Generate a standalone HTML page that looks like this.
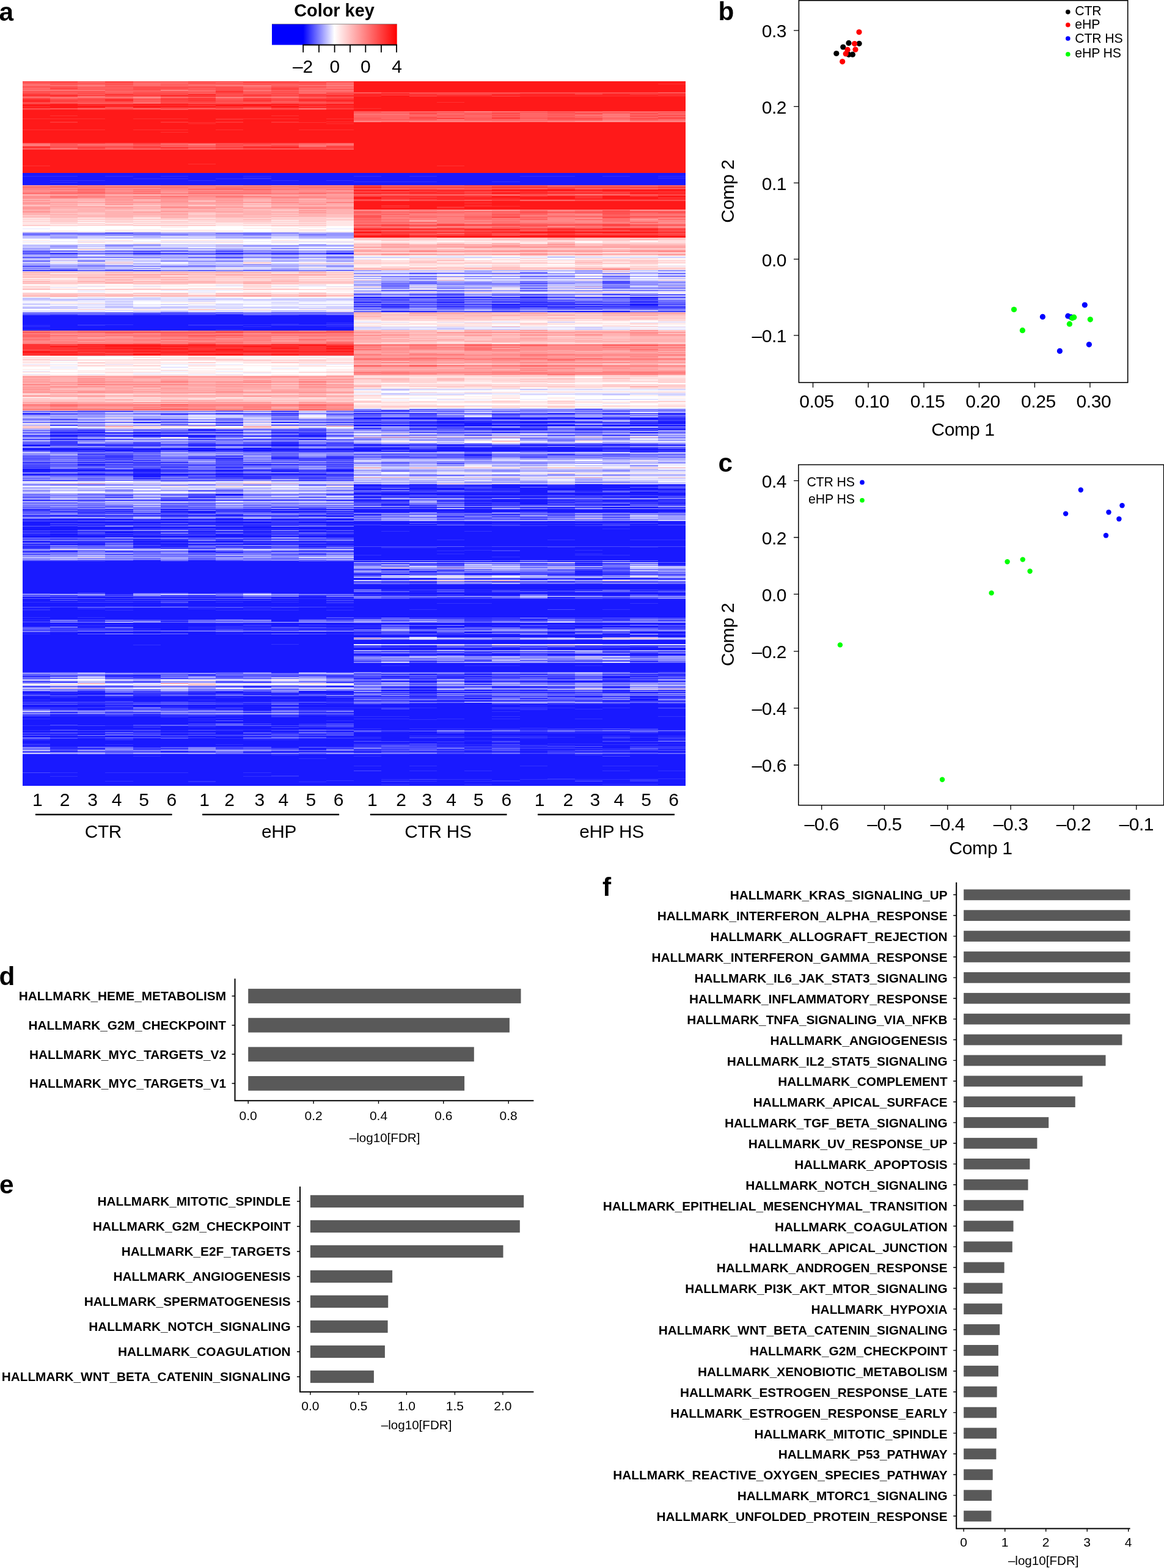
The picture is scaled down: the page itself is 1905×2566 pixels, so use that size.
<!DOCTYPE html>
<html lang="en">
<head>
<meta charset="utf-8">
<title>Figure</title>
<style>
html,body{margin:0;padding:0;background:#fff;}
body{width:1905px;height:2566px;}
svg{display:block;font-family:'Liberation Sans', Arial, Helvetica, sans-serif;fill:#000;}
</style>
</head>
<body>
<svg width="1905" height="2566" viewBox="0 0 1905 2566">
<rect width="1905" height="2566" fill="#fff"/>
<g id="heatmap">
<g fill="none" stroke-width="1" shape-rendering="crispEdges">
<path stroke="#1919ff" d="M36.7 283.5H1121.7M36.7 284.5H1121.7M36.7 285.5H1121.7M36.7 286.5H1121.7M36.7 287.5H1121.7M127.1 288.5H172.3M217.5 288.5H262.7M307.9 288.5H398.4M443.6 288.5H579.2M624.4 288.5H669.6M714.8 288.5H850.5M940.9 288.5H986.1M1031.3 288.5H1076.5M36.7 289.5H1121.7M36.7 290.5H1121.7M36.7 291.5H398.4M443.6 291.5H1076.5M36.7 292.5H217.5M307.9 292.5H353.2M443.6 292.5H1121.7M36.7 293.5H1121.7M36.7 294.5H1121.7M36.7 295.5H81.9M172.3 295.5H307.9M353.2 295.5H443.6M488.8 295.5H534M579.2 295.5H1121.7M36.7 296.5H1121.7M36.7 297.5H579.2M714.8 297.5H805.2M850.5 297.5H1121.7M36.7 298.5H81.9M127.1 298.5H1121.7M36.7 299.5H1121.7M36.7 300.5H1121.7M36.7 301.5H1121.7M36.7 302.5H1121.7M217.5 411.5H262.7M534 414.5H579.2M262.7 415.5H307.9M353.2 415.5H398.4M534 415.5H579.2M850.5 463.5H895.7M986.1 463.5H1031.3M714.8 482.5H760M850.5 482.5H895.7M986.1 482.5H1031.3M579.2 486.5H895.7M1031.3 486.5H1076.5M579.2 487.5H624.4M669.6 487.5H760M850.5 487.5H895.7M1031.3 487.5H1076.5M579.2 489.5H624.4M714.8 489.5H760M805.2 489.5H895.7M1031.3 489.5H1076.5M579.2 494.5H760M850.5 494.5H940.9M1031.3 494.5H1076.5M714.8 495.5H760M624.4 497.5H669.6M714.8 497.5H1121.7M805.2 498.5H850.5M1031.3 498.5H1076.5M1031.3 499.5H1076.5M805.2 500.5H850.5M579.2 502.5H1121.7M895.7 505.5H986.1M624.4 509.5H669.6M940.9 509.5H1031.3M669.6 510.5H714.8M895.7 510.5H1031.3M353.2 515.5H398.4M36.7 516.5H579.2M36.7 517.5H579.2M36.7 518.5H579.2M36.7 519.5H579.2M36.7 520.5H579.2M36.7 521.5H579.2M36.7 522.5H579.2M36.7 523.5H579.2M36.7 524.5H579.2M36.7 525.5H579.2M36.7 526.5H579.2M36.7 527.5H579.2M36.7 528.5H534M36.7 529.5H579.2M36.7 530.5H443.6M488.8 530.5H534M36.7 531.5H127.1M217.5 531.5H307.9M81.9 532.5H127.1M172.3 532.5H307.9M398.4 532.5H443.6M36.7 533.5H579.2M81.9 534.5H398.4M443.6 534.5H534M36.7 535.5H579.2M36.7 536.5H579.2M36.7 537.5H579.2M36.7 538.5H579.2M81.9 539.5H353.2M398.4 539.5H579.2M36.7 540.5H579.2M940.9 669.5H986.1M624.4 671.5H669.6M624.4 673.5H669.6M36.7 676.5H81.9M579.2 676.5H714.8M895.7 676.5H940.9M986.1 676.5H1031.3M1076.5 676.5H1121.7M36.7 677.5H81.9M262.7 677.5H307.9M398.4 677.5H488.8M579.2 677.5H624.4M895.7 677.5H940.9M1076.5 677.5H1121.7M805.2 678.5H850.5M579.2 683.5H760M805.2 683.5H1121.7M579.2 684.5H1121.7M579.2 685.5H760M805.2 685.5H895.7M940.9 685.5H986.1M1031.3 685.5H1076.5M714.8 686.5H760M1031.3 686.5H1121.7M714.8 689.5H940.9M1076.5 689.5H1121.7M443.6 690.5H488.8M714.8 690.5H760M850.5 690.5H940.9M1076.5 690.5H1121.7M217.5 691.5H262.7M443.6 691.5H488.8M579.2 691.5H624.4M669.6 691.5H1121.7M714.8 692.5H805.2M850.5 692.5H895.7M1076.5 692.5H1121.7M760 693.5H805.2M1031.3 693.5H1121.7M760 694.5H805.2M579.2 695.5H624.4M669.6 695.5H940.9M986.1 695.5H1076.5M81.9 696.5H127.1M579.2 696.5H940.9M986.1 696.5H1121.7M579.2 697.5H940.9M986.1 697.5H1121.7M579.2 701.5H624.4M669.6 701.5H714.8M805.2 701.5H895.7M940.9 701.5H1031.3M805.2 702.5H895.7M1076.5 702.5H1121.7M307.9 703.5H353.2M805.2 703.5H850.5M940.9 703.5H1031.3M1076.5 703.5H1121.7M81.9 707.5H172.3M217.5 707.5H262.7M353.2 707.5H398.4M443.6 707.5H488.8M714.8 707.5H760M805.2 707.5H850.5M1031.3 707.5H1076.5M81.9 708.5H262.7M307.9 708.5H398.4M443.6 708.5H534M1031.3 708.5H1076.5M127.1 711.5H172.3M36.7 712.5H127.1M217.5 712.5H353.2M488.8 712.5H534M986.1 712.5H1031.3M81.9 713.5H127.1M217.5 713.5H353.2M443.6 713.5H534M81.9 714.5H127.1M217.5 714.5H353.2M443.6 714.5H534M81.9 719.5H217.5M307.9 719.5H353.2M488.8 719.5H534M81.9 723.5H127.1M443.6 723.5H488.8M81.9 725.5H127.1M217.5 725.5H262.7M443.6 725.5H488.8M534 725.5H579.2M443.6 727.5H488.8M986.1 727.5H1031.3M36.7 728.5H81.9M127.1 728.5H262.7M307.9 728.5H669.6M714.8 728.5H760M850.5 728.5H940.9M36.7 729.5H81.9M443.6 729.5H488.8M579.2 729.5H669.6M714.8 729.5H1121.7M217.5 730.5H262.7M714.8 732.5H760M805.2 732.5H850.5M895.7 732.5H940.9M307.9 733.5H353.2M398.4 733.5H443.6M579.2 733.5H669.6M714.8 733.5H1031.3M36.7 734.5H172.3M217.5 734.5H488.8M534 734.5H669.6M714.8 734.5H986.1M1031.3 734.5H1076.5M36.7 735.5H1121.7M36.7 736.5H624.4M714.8 736.5H986.1M1031.3 736.5H1121.7M172.3 737.5H217.5M307.9 737.5H353.2M398.4 737.5H443.6M579.2 737.5H624.4M669.6 737.5H850.5M895.7 737.5H986.1M81.9 738.5H262.7M307.9 738.5H1121.7M1031.3 739.5H1076.5M127.1 743.5H172.3M760 743.5H805.2M895.7 743.5H940.9M760 744.5H805.2M760 746.5H805.2M127.1 747.5H217.5M307.9 747.5H398.4M443.6 747.5H488.8M534 747.5H579.2M127.1 749.5H172.3M443.6 749.5H488.8M534 749.5H579.2M307.9 750.5H398.4M443.6 750.5H488.8M36.7 756.5H307.9M534 756.5H579.2M127.1 759.5H172.3M353.2 759.5H398.4M534 759.5H579.2M36.7 761.5H81.9M127.1 761.5H172.3M217.5 761.5H443.6M534 761.5H579.2M36.7 764.5H81.9M262.7 764.5H307.9M353.2 764.5H398.4M36.7 767.5H81.9M36.7 768.5H262.7M443.6 768.5H488.8M534 768.5H579.2M36.7 769.5H81.9M127.1 769.5H172.3M217.5 769.5H262.7M353.2 769.5H398.4M534 769.5H579.2M36.7 770.5H398.4M443.6 770.5H579.2M36.7 771.5H127.1M217.5 771.5H262.7M353.2 771.5H398.4M443.6 771.5H488.8M534 771.5H579.2M127.1 775.5H172.3M217.5 775.5H534M36.7 776.5H172.3M217.5 776.5H307.9M353.2 776.5H398.4M443.6 776.5H534M36.7 777.5H81.9M127.1 777.5H307.9M353.2 777.5H443.6M534 777.5H579.2M217.5 778.5H262.7M217.5 779.5H262.7M353.2 779.5H398.4M217.5 780.5H262.7M398.4 780.5H443.6M398.4 782.5H443.6M217.5 783.5H262.7M579.2 793.5H624.4M669.6 793.5H714.8M805.2 793.5H895.7M940.9 793.5H1121.7M579.2 794.5H1121.7M579.2 795.5H624.4M760 795.5H895.7M940.9 795.5H1076.5M624.4 796.5H760M805.2 796.5H850.5M895.7 796.5H1076.5M805.2 797.5H850.5M940.9 797.5H1031.3M579.2 798.5H1076.5M669.6 799.5H760M850.5 799.5H986.1M1031.3 799.5H1076.5M579.2 800.5H760M805.2 800.5H1121.7M579.2 801.5H669.6M714.8 801.5H805.2M850.5 801.5H1121.7M669.6 802.5H714.8M760 802.5H1121.7M850.5 803.5H895.7M624.4 804.5H714.8M850.5 804.5H895.7M940.9 804.5H986.1M1031.3 804.5H1121.7M850.5 805.5H895.7M1031.3 805.5H1076.5M579.2 806.5H1121.7M579.2 807.5H1121.7M307.9 808.5H398.4M534 808.5H1121.7M353.2 809.5H398.4M624.4 809.5H669.6M714.8 809.5H1121.7M353.2 810.5H398.4M760 810.5H850.5M940.9 810.5H986.1M1076.5 810.5H1121.7M579.2 812.5H669.6M714.8 812.5H1076.5M307.9 813.5H353.2M579.2 813.5H624.4M760 813.5H895.7M1031.3 813.5H1076.5M579.2 814.5H624.4M669.6 814.5H1121.7M805.2 817.5H895.7M36.7 818.5H217.5M262.7 818.5H398.4M443.6 818.5H669.6M760 818.5H1121.7M579.2 819.5H669.6M714.8 819.5H895.7M986.1 819.5H1076.5M805.2 820.5H895.7M579.2 821.5H624.4M760 821.5H1076.5M850.5 822.5H895.7M760 823.5H805.2M850.5 823.5H895.7M1076.5 823.5H1121.7M624.4 824.5H669.6M760 824.5H805.2M850.5 824.5H895.7M850.5 825.5H895.7M940.9 825.5H1031.3M624.4 826.5H669.6M760 826.5H805.2M986.1 826.5H1031.3M624.4 827.5H714.8M760 827.5H850.5M940.9 827.5H1031.3M986.1 829.5H1076.5M443.6 830.5H488.8M579.2 830.5H805.2M850.5 830.5H1076.5M36.7 833.5H81.9M172.3 833.5H217.5M262.7 833.5H353.2M398.4 833.5H714.8M760 833.5H805.2M895.7 833.5H940.9M986.1 833.5H1076.5M262.7 834.5H307.9M443.6 834.5H488.8M534 834.5H1121.7M579.2 835.5H1121.7M36.7 836.5H217.5M262.7 836.5H1121.7M262.7 837.5H353.2M443.6 837.5H534M579.2 837.5H714.8M760 837.5H850.5M895.7 837.5H1121.7M307.9 838.5H353.2M443.6 838.5H488.8M579.2 838.5H669.6M714.8 838.5H805.2M895.7 838.5H1076.5M127.1 839.5H262.7M307.9 839.5H353.2M534 839.5H579.2M805.2 841.5H850.5M579.2 842.5H624.4M81.9 843.5H127.1M262.7 843.5H398.4M488.8 843.5H534M36.7 844.5H579.2M534 845.5H579.2M805.2 845.5H850.5M81.9 849.5H217.5M262.7 849.5H307.9M353.2 849.5H398.4M443.6 849.5H488.8M534 849.5H579.2M760 849.5H805.2M850.5 849.5H895.7M36.7 850.5H579.2M36.7 851.5H579.2M36.7 853.5H1121.7M36.7 854.5H307.9M353.2 854.5H443.6M488.8 854.5H1121.7M36.7 855.5H1121.7M36.7 856.5H81.9M127.1 856.5H262.7M307.9 856.5H669.6M760 856.5H805.2M1076.5 856.5H1121.7M36.7 857.5H81.9M579.2 857.5H1121.7M36.7 858.5H579.2M624.4 858.5H714.8M850.5 858.5H986.1M1031.3 858.5H1076.5M36.7 859.5H307.9M353.2 859.5H488.8M534 859.5H579.2M579.2 860.5H805.2M895.7 860.5H940.9M1031.3 860.5H1121.7M81.9 861.5H127.1M398.4 861.5H443.6M579.2 861.5H1121.7M36.7 862.5H1121.7M36.7 863.5H1121.7M36.7 864.5H1121.7M36.7 865.5H217.5M488.8 865.5H986.1M1031.3 865.5H1121.7M36.7 866.5H1121.7M36.7 867.5H127.1M579.2 867.5H1121.7M488.8 868.5H534M579.2 868.5H1121.7M81.9 869.5H127.1M172.3 869.5H262.7M307.9 869.5H443.6M488.8 869.5H624.4M669.6 869.5H760M805.2 869.5H1121.7M36.7 870.5H1121.7M81.9 871.5H127.1M172.3 871.5H217.5M579.2 871.5H1121.7M172.3 872.5H262.7M398.4 872.5H443.6M579.2 872.5H1121.7M81.9 873.5H127.1M579.2 873.5H1121.7M36.7 874.5H1121.7M81.9 875.5H127.1M172.3 875.5H217.5M353.2 875.5H398.4M534 875.5H1121.7M36.7 876.5H172.3M217.5 876.5H262.7M307.9 876.5H443.6M488.8 876.5H1121.7M36.7 877.5H1121.7M36.7 878.5H443.6M488.8 878.5H1121.7M36.7 879.5H172.3M217.5 879.5H443.6M534 879.5H1121.7M579.2 880.5H1121.7M579.2 881.5H1121.7M36.7 882.5H1121.7M579.2 883.5H714.8M760 883.5H895.7M940.9 883.5H1031.3M262.7 884.5H307.9M579.2 884.5H1121.7M217.5 885.5H307.9M353.2 885.5H398.4M579.2 885.5H1121.7M36.7 886.5H1121.7M36.7 887.5H1121.7M579.2 888.5H1121.7M127.1 889.5H172.3M217.5 889.5H307.9M398.4 889.5H443.6M534 889.5H1121.7M36.7 890.5H172.3M217.5 890.5H1121.7M81.9 891.5H172.3M217.5 891.5H443.6M488.8 891.5H1121.7M579.2 892.5H1121.7M36.7 893.5H81.9M217.5 893.5H307.9M488.8 893.5H1121.7M262.7 894.5H307.9M488.8 894.5H534M217.5 895.5H262.7M579.2 895.5H624.4M714.8 895.5H895.7M940.9 895.5H1031.3M1076.5 895.5H1121.7M36.7 896.5H81.9M579.2 896.5H624.4M714.8 896.5H1121.7M579.2 897.5H1121.7M579.2 898.5H1121.7M579.2 899.5H1121.7M579.2 900.5H760M850.5 900.5H940.9M986.1 900.5H1121.7M81.9 901.5H127.1M307.9 901.5H353.2M579.2 901.5H714.8M760 901.5H805.2M850.5 901.5H1121.7M36.7 902.5H127.1M217.5 902.5H262.7M307.9 902.5H353.2M443.6 902.5H534M579.2 902.5H1121.7M579.2 903.5H1121.7M353.2 904.5H398.4M579.2 904.5H1121.7M579.2 905.5H1121.7M579.2 906.5H714.8M760 906.5H940.9M986.1 906.5H1121.7M172.3 907.5H217.5M488.8 907.5H534M579.2 907.5H1121.7M624.4 908.5H940.9M1031.3 908.5H1121.7M579.2 909.5H1121.7M579.2 910.5H1121.7M579.2 911.5H805.2M850.5 911.5H1121.7M579.2 912.5H1121.7M579.2 913.5H1121.7M579.2 914.5H1121.7M579.2 915.5H1121.7M579.2 916.5H850.5M895.7 916.5H1121.7M217.5 917.5H262.7M307.9 917.5H353.2M1076.5 917.5H1121.7M36.7 918.5H127.1M172.3 918.5H262.7M307.9 918.5H488.8M579.2 918.5H850.5M895.7 918.5H986.1M1031.3 918.5H1121.7M36.7 919.5H850.5M940.9 919.5H1121.7M36.7 920.5H579.2M36.7 921.5H579.2M714.8 921.5H760M940.9 921.5H986.1M1076.5 921.5H1121.7M36.7 922.5H579.2M940.9 922.5H986.1M1076.5 922.5H1121.7M36.7 923.5H579.2M1076.5 923.5H1121.7M36.7 924.5H579.2M714.8 924.5H760M940.9 924.5H986.1M36.7 925.5H579.2M940.9 925.5H986.1M1076.5 925.5H1121.7M36.7 926.5H579.2M36.7 927.5H579.2M36.7 928.5H579.2M940.9 928.5H986.1M36.7 929.5H579.2M36.7 930.5H579.2M986.1 930.5H1031.3M36.7 931.5H579.2M624.4 931.5H669.6M36.7 932.5H579.2M36.7 933.5H579.2M940.9 933.5H986.1M36.7 934.5H579.2M36.7 935.5H579.2M940.9 935.5H986.1M36.7 936.5H579.2M624.4 936.5H714.8M940.9 936.5H1031.3M36.7 937.5H579.2M36.7 938.5H579.2M760 938.5H850.5M940.9 938.5H1031.3M36.7 939.5H624.4M760 939.5H850.5M895.7 939.5H986.1M36.7 940.5H669.6M760 940.5H805.2M940.9 940.5H1031.3M1076.5 940.5H1121.7M36.7 941.5H579.2M36.7 942.5H624.4M36.7 943.5H579.2M36.7 944.5H579.2M36.7 945.5H579.2M36.7 946.5H624.4M669.6 946.5H714.8M986.1 946.5H1076.5M36.7 947.5H714.8M850.5 947.5H895.7M940.9 947.5H986.1M1076.5 947.5H1121.7M36.7 948.5H624.4M36.7 949.5H579.2M36.7 950.5H579.2M36.7 951.5H714.8M760 951.5H805.2M895.7 951.5H940.9M1031.3 951.5H1076.5M36.7 952.5H579.2M36.7 953.5H579.2M36.7 954.5H579.2M36.7 955.5H579.2M36.7 956.5H624.4M669.6 956.5H714.8M760 956.5H1121.7M36.7 957.5H1121.7M36.7 958.5H1121.7M36.7 959.5H1121.7M36.7 960.5H1121.7M36.7 961.5H1121.7M36.7 962.5H1121.7M36.7 963.5H1121.7M36.7 964.5H579.2M624.4 964.5H714.8M760 964.5H1121.7M36.7 965.5H579.2M895.7 965.5H940.9M36.7 966.5H579.2M624.4 966.5H714.8M760 966.5H805.2M850.5 966.5H895.7M940.9 966.5H986.1M1031.3 966.5H1076.5M36.7 967.5H579.2M669.6 967.5H714.8M760 967.5H805.2M36.7 968.5H579.2M36.7 969.5H1076.5M36.7 970.5H127.1M172.3 970.5H217.5M307.9 970.5H353.2M443.6 970.5H1121.7M172.3 971.5H217.5M488.8 971.5H1121.7M624.4 972.5H850.5M895.7 972.5H1121.7M760 973.5H850.5M986.1 973.5H1031.3M36.7 974.5H127.1M172.3 974.5H217.5M307.9 974.5H353.2M579.2 974.5H850.5M895.7 974.5H1031.3M1076.5 974.5H1121.7M36.7 976.5H81.9M127.1 976.5H172.3M217.5 976.5H262.7M353.2 976.5H398.4M488.8 976.5H534M36.7 977.5H579.2M895.7 977.5H940.9M127.1 978.5H217.5M443.6 978.5H579.2M714.8 978.5H760M895.7 978.5H940.9M36.7 980.5H1121.7M36.7 981.5H1121.7M36.7 982.5H81.9M488.8 982.5H534M579.2 982.5H1121.7M36.7 983.5H1121.7M36.7 984.5H262.7M307.9 984.5H1121.7M307.9 985.5H353.2M398.4 985.5H443.6M488.8 985.5H534M579.2 985.5H1121.7M36.7 986.5H1121.7M36.7 987.5H262.7M307.9 987.5H534M579.2 987.5H714.8M805.2 987.5H1031.3M1076.5 987.5H1121.7M36.7 988.5H1121.7M36.7 989.5H1121.7M36.7 990.5H1121.7M36.7 991.5H1121.7M36.7 992.5H172.3M217.5 992.5H262.7M307.9 992.5H1121.7M579.2 993.5H1121.7M81.9 994.5H127.1M398.4 994.5H443.6M488.8 994.5H1121.7M36.7 995.5H1121.7M36.7 996.5H127.1M172.3 996.5H307.9M353.2 996.5H398.4M443.6 996.5H1121.7M81.9 997.5H669.6M714.8 997.5H895.7M940.9 997.5H986.1M1031.3 997.5H1121.7M81.9 998.5H172.3M217.5 998.5H353.2M488.8 998.5H534M579.2 998.5H1121.7M36.7 999.5H1121.7M36.7 1000.5H1121.7M36.7 1001.5H1121.7M36.7 1002.5H1121.7M36.7 1003.5H1121.7M36.7 1004.5H1121.7M36.7 1005.5H1121.7M36.7 1006.5H1121.7M36.7 1007.5H1121.7M36.7 1008.5H1121.7M36.7 1009.5H1121.7M81.9 1010.5H127.1M172.3 1010.5H534M579.2 1010.5H1121.7M36.7 1011.5H534M36.7 1012.5H1031.3M36.7 1013.5H353.2M398.4 1013.5H488.8M534 1013.5H579.2M850.5 1013.5H895.7M443.6 1014.5H488.8M36.7 1015.5H81.9M127.1 1015.5H172.3M443.6 1015.5H488.8M624.4 1015.5H669.6M760 1015.5H895.7M940.9 1015.5H1031.3M1076.5 1015.5H1121.7M36.7 1016.5H81.9M262.7 1016.5H307.9M443.6 1016.5H488.8M36.7 1019.5H307.9M353.2 1019.5H398.4M443.6 1019.5H579.2M624.4 1019.5H1121.7M36.7 1020.5H353.2M398.4 1020.5H1121.7M36.7 1021.5H1121.7M36.7 1022.5H81.9M127.1 1022.5H172.3M217.5 1022.5H398.4M443.6 1022.5H488.8M534 1022.5H624.4M669.6 1022.5H895.7M940.9 1022.5H1031.3M1076.5 1022.5H1121.7M36.7 1023.5H127.1M172.3 1023.5H398.4M443.6 1023.5H488.8M760 1023.5H805.2M36.7 1024.5H353.2M443.6 1024.5H1121.7M36.7 1025.5H81.9M127.1 1025.5H579.2M669.6 1025.5H760M805.2 1025.5H850.5M940.9 1025.5H1076.5M217.5 1026.5H307.9M579.2 1026.5H624.4M669.6 1026.5H805.2M850.5 1026.5H1121.7M127.1 1027.5H172.3M217.5 1027.5H398.4M669.6 1027.5H714.8M940.9 1027.5H986.1M81.9 1028.5H624.4M895.7 1028.5H940.9M262.7 1029.5H307.9M579.2 1029.5H624.4M669.6 1029.5H714.8M895.7 1029.5H940.9M1076.5 1029.5H1121.7M81.9 1030.5H353.2M398.4 1030.5H579.2M36.7 1031.5H579.2M714.8 1031.5H805.2M217.5 1033.5H262.7M669.6 1033.5H714.8M760 1033.5H805.2M850.5 1033.5H986.1M1031.3 1033.5H1121.7M127.1 1034.5H353.2M398.4 1034.5H624.4M669.6 1034.5H714.8M760 1034.5H850.5M895.7 1034.5H986.1M1031.3 1034.5H1121.7M36.7 1035.5H579.2M669.6 1035.5H714.8M760 1035.5H805.2M895.7 1035.5H940.9M1031.3 1035.5H1121.7M36.7 1036.5H172.3M217.5 1036.5H262.7M307.9 1036.5H579.2M1031.3 1036.5H1121.7M81.9 1037.5H127.1M307.9 1037.5H353.2M36.7 1038.5H579.2M760 1038.5H850.5M940.9 1038.5H1031.3M36.7 1039.5H1121.7M36.7 1040.5H986.1M1031.3 1040.5H1121.7M36.7 1041.5H669.6M714.8 1041.5H1031.3M1076.5 1041.5H1121.7M36.7 1042.5H669.6M714.8 1042.5H986.1M1076.5 1042.5H1121.7M36.7 1043.5H579.2M940.9 1043.5H986.1M36.7 1044.5H579.2M36.7 1045.5H579.2M36.7 1046.5H579.2M36.7 1047.5H1121.7M36.7 1048.5H1121.7M36.7 1049.5H1121.7M36.7 1050.5H1121.7M36.7 1051.5H1121.7M36.7 1052.5H1121.7M36.7 1053.5H1121.7M36.7 1054.5H443.6M488.8 1054.5H579.2M36.7 1055.5H217.5M262.7 1055.5H579.2M36.7 1056.5H579.2M624.4 1056.5H714.8M1031.3 1056.5H1121.7M36.7 1057.5H579.2M624.4 1057.5H714.8M36.7 1058.5H579.2M986.1 1058.5H1031.3M36.7 1059.5H579.2M1031.3 1059.5H1076.5M36.7 1060.5H850.5M895.7 1060.5H940.9M986.1 1060.5H1121.7M36.7 1061.5H1121.7M36.7 1062.5H1121.7M36.7 1063.5H714.8M760 1063.5H850.5M895.7 1063.5H1121.7M36.7 1064.5H579.2M36.7 1065.5H579.2M36.7 1066.5H850.5M895.7 1066.5H940.9M986.1 1066.5H1121.7M36.7 1067.5H579.2M36.7 1068.5H579.2M36.7 1069.5H579.2M805.2 1069.5H850.5M36.7 1070.5H669.6M714.8 1070.5H760M805.2 1070.5H850.5M895.7 1070.5H940.9M1031.3 1070.5H1121.7M36.7 1071.5H1121.7M36.7 1072.5H714.8M760 1072.5H850.5M895.7 1072.5H1121.7M36.7 1073.5H579.2M36.7 1074.5H579.2M36.7 1075.5H579.2M36.7 1076.5H579.2M36.7 1077.5H579.2M36.7 1078.5H579.2M36.7 1079.5H579.2M36.7 1080.5H579.2M36.7 1081.5H624.4M760 1081.5H805.2M850.5 1081.5H895.7M940.9 1081.5H1031.3M36.7 1082.5H579.2M669.6 1082.5H714.8M1031.3 1082.5H1076.5M36.7 1083.5H579.2M36.7 1084.5H579.2M36.7 1085.5H1121.7M36.7 1086.5H1121.7M36.7 1087.5H1121.7M36.7 1088.5H1121.7M36.7 1089.5H624.4M669.6 1089.5H760M850.5 1089.5H940.9M986.1 1089.5H1121.7M36.7 1090.5H1121.7M36.7 1091.5H1121.7M36.7 1092.5H1121.7M36.7 1093.5H1121.7M36.7 1094.5H1121.7M36.7 1095.5H1121.7M36.7 1096.5H1121.7M36.7 1097.5H1121.7M36.7 1098.5H1121.7M36.7 1099.5H1121.7M307.9 1100.5H353.2M443.6 1100.5H488.8M1076.5 1101.5H1121.7M669.6 1103.5H714.8M760 1103.5H805.2M1076.5 1103.5H1121.7M217.5 1104.5H262.7M624.4 1104.5H940.9M986.1 1104.5H1121.7M36.7 1106.5H127.1M172.3 1106.5H262.7M353.2 1106.5H398.4M443.6 1106.5H488.8M534 1106.5H579.2M624.4 1106.5H895.7M940.9 1106.5H1121.7M624.4 1107.5H669.6M760 1107.5H805.2M986.1 1107.5H1076.5M986.1 1108.5H1031.3M217.5 1109.5H262.7M579.2 1109.5H1121.7M624.4 1114.5H1121.7M36.7 1115.5H81.9M669.6 1115.5H714.8M760 1115.5H805.2M895.7 1115.5H1031.3M398.4 1116.5H443.6M534 1116.5H579.2M669.6 1116.5H714.8M760 1116.5H805.2M895.7 1116.5H986.1M624.4 1119.5H714.8M760 1119.5H805.2M895.7 1119.5H940.9M443.6 1122.5H488.8M534 1122.5H579.2M398.4 1124.5H443.6M624.4 1124.5H760M805.2 1124.5H940.9M986.1 1124.5H1031.3M669.6 1125.5H714.8M669.6 1126.5H714.8M669.6 1128.5H714.8M624.4 1129.5H714.8M760 1129.5H805.2M624.4 1130.5H714.8M760 1130.5H805.2M850.5 1130.5H895.7M986.1 1130.5H1031.3M1076.5 1130.5H1121.7M127.1 1131.5H172.3M488.8 1131.5H579.2M36.7 1132.5H81.9M353.2 1132.5H443.6M488.8 1132.5H579.2M669.6 1132.5H805.2M986.1 1132.5H1076.5M36.7 1133.5H172.3M307.9 1133.5H398.4M488.8 1133.5H1121.7M36.7 1134.5H579.2M669.6 1134.5H714.8M127.1 1135.5H217.5M81.9 1136.5H172.3M307.9 1136.5H353.2M398.4 1136.5H488.8M534 1136.5H579.2M624.4 1136.5H714.8M81.9 1137.5H127.1M217.5 1137.5H262.7M669.6 1138.5H714.8M36.7 1139.5H81.9M127.1 1139.5H172.3M217.5 1139.5H443.6M488.8 1139.5H534M579.2 1139.5H850.5M895.7 1139.5H1076.5M36.7 1140.5H579.2M940.9 1140.5H986.1M1031.3 1140.5H1076.5M36.7 1141.5H81.9M127.1 1141.5H172.3M217.5 1141.5H353.2M398.4 1141.5H534M669.6 1141.5H714.8M1031.3 1141.5H1076.5M36.7 1142.5H579.2M760 1142.5H805.2M36.7 1143.5H579.2M760 1143.5H805.2M850.5 1143.5H895.7M1031.3 1143.5H1076.5M36.7 1144.5H579.2M1031.3 1144.5H1076.5M81.9 1145.5H307.9M353.2 1145.5H443.6M488.8 1145.5H534M1031.3 1145.5H1076.5M36.7 1146.5H1121.7M36.7 1147.5H172.3M217.5 1147.5H579.2M714.8 1147.5H805.2M986.1 1147.5H1031.3M217.5 1148.5H262.7M307.9 1148.5H443.6M669.6 1148.5H714.8M1076.5 1148.5H1121.7M36.7 1150.5H579.2M760 1150.5H805.2M488.8 1151.5H534M669.6 1151.5H805.2M1031.3 1151.5H1076.5M534 1152.5H579.2M624.4 1152.5H805.2M850.5 1152.5H895.7M940.9 1152.5H1121.7M36.7 1153.5H1121.7M36.7 1154.5H1121.7M36.7 1155.5H172.3M217.5 1155.5H262.7M307.9 1155.5H443.6M488.8 1155.5H850.5M895.7 1155.5H1121.7M36.7 1156.5H172.3M217.5 1156.5H443.6M488.8 1156.5H1121.7M36.7 1157.5H127.1M172.3 1157.5H217.5M262.7 1157.5H443.6M488.8 1157.5H1121.7M307.9 1158.5H353.2M398.4 1158.5H443.6M714.8 1158.5H805.2M940.9 1158.5H986.1M1031.3 1158.5H1076.5M36.7 1159.5H217.5M398.4 1159.5H624.4M669.6 1159.5H1076.5M127.1 1160.5H217.5M307.9 1160.5H624.4M669.6 1160.5H805.2M895.7 1160.5H940.9M986.1 1160.5H1121.7M127.1 1161.5H172.3M398.4 1161.5H443.6M579.2 1161.5H850.5M895.7 1161.5H1121.7M398.4 1162.5H443.6M579.2 1162.5H1121.7M579.2 1163.5H1121.7M579.2 1164.5H805.2M850.5 1164.5H1121.7M579.2 1165.5H1121.7M81.9 1166.5H127.1M217.5 1166.5H262.7M398.4 1166.5H443.6M488.8 1166.5H1121.7M579.2 1167.5H1121.7M579.2 1168.5H1121.7M81.9 1169.5H127.1M579.2 1169.5H1121.7M36.7 1170.5H1121.7M398.4 1171.5H443.6M488.8 1171.5H534M579.2 1171.5H1121.7M36.7 1172.5H443.6M488.8 1172.5H579.2M669.6 1172.5H805.2M850.5 1172.5H1076.5M36.7 1173.5H262.7M307.9 1173.5H443.6M488.8 1173.5H1121.7M36.7 1174.5H1121.7M36.7 1175.5H353.2M398.4 1175.5H1121.7M81.9 1176.5H307.9M353.2 1176.5H579.2M669.6 1176.5H714.8M760 1176.5H805.2M850.5 1176.5H940.9M986.1 1176.5H1121.7M36.7 1177.5H669.6M714.8 1177.5H1121.7M36.7 1178.5H1121.7M36.7 1179.5H307.9M398.4 1179.5H534M579.2 1179.5H1121.7M36.7 1180.5H1121.7M36.7 1181.5H1121.7M36.7 1182.5H1121.7M36.7 1183.5H1121.7M36.7 1184.5H307.9M443.6 1184.5H488.8M579.2 1184.5H1121.7M36.7 1185.5H307.9M398.4 1185.5H1121.7M36.7 1186.5H81.9M127.1 1186.5H217.5M443.6 1186.5H488.8M579.2 1186.5H1121.7M579.2 1187.5H1121.7M36.7 1188.5H534M579.2 1188.5H1121.7M36.7 1189.5H217.5M262.7 1189.5H307.9M353.2 1189.5H488.8M579.2 1189.5H1121.7M36.7 1190.5H217.5M262.7 1190.5H443.6M488.8 1190.5H1121.7M36.7 1191.5H850.5M895.7 1191.5H1121.7M36.7 1192.5H579.2M624.4 1192.5H669.6M850.5 1192.5H895.7M1076.5 1192.5H1121.7M36.7 1193.5H534M579.2 1193.5H850.5M940.9 1193.5H986.1M1076.5 1193.5H1121.7M36.7 1194.5H81.9M127.1 1194.5H172.3M262.7 1194.5H307.9M579.2 1194.5H714.8M760 1194.5H805.2M850.5 1194.5H895.7M986.1 1194.5H1031.3M1076.5 1194.5H1121.7M398.4 1195.5H443.6M36.7 1196.5H579.2M36.7 1197.5H217.5M262.7 1197.5H488.8M534 1197.5H579.2M669.6 1197.5H714.8M36.7 1198.5H172.3M217.5 1198.5H398.4M443.6 1198.5H488.8M579.2 1198.5H714.8M760 1198.5H1031.3M1076.5 1198.5H1121.7M353.2 1199.5H398.4M579.2 1199.5H714.8M760 1199.5H805.2M1076.5 1199.5H1121.7M36.7 1200.5H1121.7M127.1 1201.5H172.3M262.7 1201.5H307.9M353.2 1201.5H398.4M579.2 1201.5H1121.7M36.7 1202.5H172.3M217.5 1202.5H353.2M398.4 1202.5H443.6M488.8 1202.5H534M579.2 1202.5H1121.7M579.2 1203.5H1121.7M36.7 1204.5H127.1M172.3 1204.5H262.7M307.9 1204.5H353.2M488.8 1204.5H669.6M760 1204.5H805.2M895.7 1204.5H986.1M1031.3 1204.5H1076.5M36.7 1205.5H262.7M307.9 1205.5H443.6M488.8 1205.5H1121.7M36.7 1206.5H217.5M262.7 1206.5H398.4M534 1206.5H579.2M624.4 1206.5H669.6M940.9 1206.5H986.1M353.2 1207.5H398.4M579.2 1207.5H669.6M760 1207.5H805.2M850.5 1207.5H986.1M1031.3 1207.5H1076.5M127.1 1208.5H172.3M217.5 1208.5H262.7M307.9 1208.5H353.2M624.4 1208.5H850.5M895.7 1208.5H986.1M1031.3 1208.5H1076.5M36.7 1209.5H1121.7M81.9 1210.5H172.3M217.5 1210.5H398.4M488.8 1210.5H1076.5M36.7 1211.5H1121.7M36.7 1212.5H579.2M624.4 1212.5H760M850.5 1212.5H986.1M1031.3 1212.5H1076.5M36.7 1213.5H579.2M760 1213.5H805.2M850.5 1213.5H986.1M36.7 1214.5H714.8M760 1214.5H805.2M850.5 1214.5H1121.7M36.7 1215.5H1121.7M36.7 1216.5H1121.7M81.9 1217.5H579.2M760 1217.5H805.2M850.5 1217.5H895.7M986.1 1217.5H1031.3M81.9 1218.5H172.3M217.5 1218.5H353.2M398.4 1218.5H579.2M850.5 1218.5H986.1M1076.5 1218.5H1121.7M81.9 1219.5H579.2M714.8 1219.5H805.2M895.7 1219.5H1121.7M36.7 1220.5H579.2M760 1220.5H805.2M940.9 1220.5H1121.7M36.7 1221.5H579.2M986.1 1221.5H1031.3M217.5 1222.5H262.7M443.6 1222.5H488.8M579.2 1222.5H1121.7M940.9 1223.5H1031.3M81.9 1224.5H172.3M353.2 1224.5H398.4M443.6 1224.5H534M760 1224.5H805.2M986.1 1224.5H1031.3M262.7 1225.5H307.9M488.8 1225.5H534M488.8 1226.5H534M714.8 1226.5H760M850.5 1226.5H986.1M1076.5 1226.5H1121.7M579.2 1227.5H624.4M850.5 1227.5H940.9M986.1 1227.5H1031.3M81.9 1229.5H127.1M262.7 1229.5H307.9M443.6 1229.5H1121.7M81.9 1230.5H127.1M262.7 1230.5H353.2M398.4 1230.5H624.4M760 1230.5H805.2M850.5 1230.5H895.7M986.1 1230.5H1121.7M850.5 1231.5H895.7M1076.5 1231.5H1121.7M36.7 1234.5H127.1M172.3 1234.5H1121.7M36.7 1235.5H443.6M488.8 1235.5H940.9M986.1 1235.5H1121.7M36.7 1236.5H1121.7M36.7 1237.5H217.5M262.7 1237.5H579.2M624.4 1237.5H986.1M1031.3 1237.5H1121.7M36.7 1238.5H1121.7M36.7 1239.5H1121.7M36.7 1240.5H1121.7M36.7 1241.5H488.8M534 1241.5H1121.7M36.7 1242.5H1121.7M36.7 1243.5H1121.7M36.7 1244.5H1121.7M36.7 1245.5H1121.7M36.7 1246.5H1121.7M36.7 1247.5H1121.7M36.7 1248.5H1121.7M36.7 1249.5H1121.7M36.7 1250.5H1121.7M36.7 1251.5H1121.7M36.7 1252.5H1121.7M36.7 1253.5H579.2M624.4 1253.5H669.6M714.8 1253.5H850.5M895.7 1253.5H986.1M1076.5 1253.5H1121.7M36.7 1254.5H1121.7M36.7 1255.5H1121.7M36.7 1256.5H1121.7M36.7 1257.5H1121.7M36.7 1258.5H1121.7M36.7 1259.5H1121.7M36.7 1260.5H1121.7M36.7 1261.5H579.2M624.4 1261.5H669.6M714.8 1261.5H760M805.2 1261.5H986.1M1031.3 1261.5H1076.5M36.7 1262.5H1121.7M36.7 1263.5H1121.7M127.1 1264.5H172.3M307.9 1264.5H398.4M443.6 1264.5H1121.7M36.7 1265.5H1121.7M36.7 1266.5H1121.7M36.7 1267.5H1121.7M36.7 1268.5H1121.7M36.7 1269.5H443.6M488.8 1269.5H1121.7M36.7 1270.5H81.9M127.1 1270.5H398.4M488.8 1270.5H1121.7M36.7 1271.5H1121.7M36.7 1272.5H1121.7M36.7 1273.5H1121.7M36.7 1274.5H895.7M940.9 1274.5H1076.5M36.7 1275.5H624.4M805.2 1275.5H850.5M1076.5 1275.5H1121.7M36.7 1276.5H1121.7M36.7 1277.5H534M579.2 1277.5H805.2M850.5 1277.5H940.9M986.1 1277.5H1031.3M1076.5 1277.5H1121.7M36.7 1278.5H172.3M217.5 1278.5H307.9M353.2 1278.5H624.4M714.8 1278.5H760M850.5 1278.5H940.9M986.1 1278.5H1031.3M1076.5 1278.5H1121.7M36.7 1279.5H307.9M353.2 1279.5H488.8M534 1279.5H1121.7M36.7 1280.5H1121.7M36.7 1281.5H1121.7M36.7 1282.5H1121.7M36.7 1283.5H624.4M669.6 1283.5H760M805.2 1283.5H986.1M1076.5 1283.5H1121.7M36.7 1284.5H1121.7M36.7 1285.5H1121.7"/>
<path stroke="#3333ff" d="M36.7 288.5H127.1M172.3 288.5H217.5M262.7 288.5H307.9M398.4 288.5H443.6M579.2 288.5H624.4M669.6 288.5H714.8M850.5 288.5H940.9M986.1 288.5H1031.3M1076.5 288.5H1121.7M398.4 291.5H443.6M1076.5 291.5H1121.7M217.5 292.5H307.9M353.2 292.5H443.6M81.9 295.5H172.3M307.9 295.5H353.2M443.6 295.5H488.8M534 295.5H579.2M579.2 297.5H714.8M805.2 297.5H850.5M81.9 298.5H127.1M36.7 411.5H81.9M262.7 411.5H307.9M353.2 411.5H398.4M81.9 414.5H127.1M172.3 414.5H262.7M353.2 414.5H398.4M443.6 414.5H488.8M81.9 415.5H127.1M217.5 415.5H262.7M443.6 415.5H488.8M36.7 421.5H81.9M353.2 421.5H398.4M36.7 435.5H81.9M81.9 441.5H127.1M36.7 442.5H127.1M669.6 447.5H714.8M986.1 452.5H1031.3M986.1 460.5H1031.3M624.4 463.5H714.8M895.7 463.5H940.9M624.4 468.5H669.6M669.6 475.5H714.8M850.5 475.5H895.7M579.2 482.5H624.4M669.6 482.5H714.8M805.2 482.5H850.5M895.7 482.5H940.9M1031.3 482.5H1121.7M850.5 485.5H895.7M940.9 486.5H1031.3M624.4 487.5H669.6M760 487.5H850.5M895.7 487.5H1031.3M624.4 489.5H669.6M760 489.5H805.2M624.4 491.5H669.6M714.8 492.5H760M850.5 492.5H895.7M1031.3 493.5H1076.5M805.2 494.5H850.5M940.9 494.5H1031.3M1076.5 494.5H1121.7M579.2 495.5H624.4M850.5 495.5H895.7M850.5 498.5H986.1M624.4 499.5H669.6M714.8 500.5H760M850.5 500.5H895.7M1031.3 500.5H1076.5M624.4 501.5H669.6M850.5 501.5H895.7M940.9 501.5H986.1M805.2 503.5H850.5M895.7 503.5H940.9M579.2 505.5H624.4M714.8 505.5H760M805.2 505.5H895.7M1031.3 505.5H1076.5M669.6 509.5H714.8M805.2 509.5H850.5M895.7 509.5H940.9M1076.5 509.5H1121.7M624.4 510.5H669.6M262.7 511.5H307.9M353.2 511.5H398.4M443.6 511.5H534M217.5 514.5H262.7M353.2 514.5H398.4M81.9 515.5H127.1M217.5 515.5H353.2M488.8 515.5H534M534 528.5H579.2M443.6 530.5H488.8M534 530.5H579.2M127.1 531.5H217.5M307.9 531.5H579.2M36.7 532.5H81.9M127.1 532.5H172.3M307.9 532.5H398.4M443.6 532.5H579.2M36.7 534.5H81.9M398.4 534.5H443.6M534 534.5H579.2M36.7 539.5H81.9M353.2 539.5H398.4M81.9 673.5H127.1M579.2 673.5H624.4M714.8 673.5H760M353.2 676.5H398.4M443.6 676.5H488.8M714.8 676.5H760M805.2 676.5H850.5M1031.3 676.5H1076.5M81.9 677.5H127.1M217.5 677.5H262.7M307.9 677.5H398.4M850.5 677.5H895.7M986.1 677.5H1031.3M669.6 678.5H714.8M1076.5 678.5H1121.7M443.6 679.5H488.8M579.2 680.5H624.4M669.6 680.5H714.8M1076.5 681.5H1121.7M760 683.5H805.2M81.9 686.5H127.1M760 686.5H805.2M850.5 686.5H895.7M986.1 686.5H1031.3M217.5 687.5H262.7M1076.5 687.5H1121.7M669.6 689.5H714.8M1031.3 689.5H1076.5M262.7 690.5H398.4M669.6 690.5H714.8M760 690.5H850.5M353.2 691.5H398.4M534 691.5H579.2M624.4 691.5H669.6M624.4 692.5H714.8M805.2 692.5H850.5M1031.3 692.5H1076.5M669.6 693.5H760M624.4 695.5H669.6M940.9 695.5H986.1M1076.5 695.5H1121.7M353.2 696.5H398.4M443.6 696.5H488.8M940.9 696.5H986.1M940.9 697.5H986.1M714.8 699.5H760M850.5 699.5H895.7M760 700.5H805.2M1031.3 700.5H1121.7M714.8 701.5H805.2M1031.3 701.5H1076.5M307.9 702.5H353.2M760 702.5H805.2M940.9 702.5H1076.5M353.2 703.5H398.4M669.6 703.5H714.8M760 703.5H805.2M850.5 703.5H895.7M1031.3 703.5H1076.5M127.1 704.5H172.3M307.9 704.5H353.2M81.9 705.5H127.1M307.9 705.5H353.2M443.6 705.5H534M714.8 705.5H760M36.7 707.5H81.9M262.7 707.5H353.2M669.6 707.5H714.8M895.7 707.5H940.9M262.7 708.5H307.9M760 708.5H895.7M940.9 708.5H986.1M1076.5 708.5H1121.7M217.5 709.5H262.7M488.8 710.5H534M81.9 711.5H127.1M217.5 711.5H262.7M488.8 711.5H534M127.1 712.5H217.5M353.2 712.5H398.4M443.6 712.5H488.8M760 712.5H805.2M1031.3 712.5H1076.5M172.3 713.5H217.5M398.4 713.5H443.6M36.7 714.5H81.9M127.1 714.5H217.5M353.2 714.5H443.6M307.9 715.5H353.2M1076.5 716.5H1121.7M81.9 718.5H127.1M488.8 718.5H534M36.7 719.5H81.9M353.2 719.5H488.8M534 719.5H579.2M81.9 722.5H127.1M36.7 723.5H81.9M307.9 723.5H353.2M36.7 725.5H81.9M307.9 725.5H353.2M307.9 726.5H353.2M443.6 726.5H488.8M760 726.5H805.2M1031.3 726.5H1076.5M36.7 727.5H443.6M488.8 727.5H534M579.2 727.5H624.4M714.8 727.5H760M850.5 727.5H895.7M81.9 728.5H127.1M262.7 728.5H307.9M669.6 728.5H714.8M760 728.5H805.2M940.9 728.5H1121.7M307.9 729.5H353.2M669.6 729.5H714.8M36.7 730.5H81.9M172.3 730.5H217.5M307.9 730.5H353.2M443.6 730.5H488.8M534 730.5H579.2M579.2 731.5H624.4M714.8 731.5H760M805.2 731.5H986.1M127.1 732.5H172.3M624.4 732.5H669.6M760 732.5H805.2M850.5 732.5H895.7M1031.3 732.5H1076.5M36.7 733.5H127.1M172.3 733.5H217.5M262.7 733.5H307.9M669.6 733.5H714.8M1031.3 733.5H1076.5M172.3 734.5H217.5M488.8 734.5H534M986.1 734.5H1031.3M669.6 736.5H714.8M81.9 737.5H127.1M217.5 737.5H262.7M443.6 737.5H488.8M850.5 737.5H895.7M986.1 737.5H1076.5M36.7 738.5H81.9M262.7 738.5H307.9M217.5 739.5H262.7M669.6 739.5H714.8M172.3 741.5H262.7M624.4 743.5H669.6M986.1 743.5H1031.3M1076.5 743.5H1121.7M172.3 745.5H217.5M760 745.5H805.2M624.4 746.5H669.6M986.1 746.5H1031.3M36.7 747.5H127.1M850.5 748.5H895.7M172.3 749.5H217.5M353.2 749.5H398.4M760 749.5H805.2M488.8 750.5H579.2M172.3 752.5H217.5M353.2 752.5H398.4M217.5 753.5H262.7M488.8 753.5H534M353.2 756.5H534M127.1 757.5H172.3M714.8 758.5H760M36.7 759.5H81.9M217.5 759.5H262.7M398.4 759.5H488.8M127.1 760.5H172.3M398.4 760.5H443.6M81.9 761.5H127.1M172.3 761.5H217.5M443.6 761.5H534M262.7 763.5H307.9M534 763.5H579.2M172.3 764.5H217.5M127.1 766.5H172.3M353.2 766.5H398.4M217.5 767.5H262.7M262.7 768.5H307.9M398.4 768.5H443.6M81.9 769.5H127.1M172.3 769.5H217.5M398.4 769.5H488.8M398.4 770.5H443.6M127.1 771.5H217.5M262.7 771.5H307.9M488.8 771.5H534M36.7 772.5H81.9M217.5 772.5H262.7M217.5 773.5H262.7M488.8 773.5H534M217.5 774.5H262.7M36.7 775.5H81.9M172.3 775.5H217.5M534 775.5H579.2M172.3 776.5H217.5M307.9 776.5H353.2M398.4 776.5H443.6M81.9 777.5H127.1M307.9 777.5H353.2M443.6 777.5H534M262.7 778.5H307.9M398.4 779.5H443.6M307.9 780.5H398.4M488.8 780.5H534M217.5 782.5H262.7M353.2 782.5H398.4M443.6 782.5H534M398.4 783.5H443.6M488.8 783.5H534M353.2 785.5H398.4M488.8 785.5H579.2M81.9 786.5H127.1M262.7 786.5H307.9M488.8 786.5H534M940.9 792.5H986.1M624.4 793.5H669.6M624.4 795.5H714.8M895.7 795.5H940.9M579.2 796.5H624.4M760 796.5H805.2M850.5 796.5H895.7M1076.5 796.5H1121.7M669.6 797.5H714.8M895.7 797.5H940.9M1076.5 798.5H1121.7M579.2 799.5H624.4M805.2 799.5H850.5M986.1 799.5H1031.3M760 800.5H805.2M669.6 801.5H714.8M805.2 801.5H850.5M940.9 803.5H986.1M579.2 804.5H624.4M714.8 804.5H850.5M895.7 804.5H940.9M760 805.5H850.5M579.2 809.5H624.4M669.6 809.5H714.8M624.4 810.5H669.6M714.8 810.5H760M850.5 810.5H895.7M986.1 810.5H1076.5M307.9 811.5H353.2M669.6 812.5H714.8M1076.5 812.5H1121.7M669.6 813.5H714.8M986.1 813.5H1031.3M172.3 814.5H217.5M262.7 814.5H353.2M624.4 814.5H669.6M579.2 817.5H624.4M895.7 817.5H940.9M1076.5 817.5H1121.7M217.5 818.5H262.7M398.4 818.5H443.6M262.7 819.5H307.9M895.7 819.5H940.9M760 820.5H805.2M940.9 820.5H1121.7M624.4 821.5H669.6M1076.5 821.5H1121.7M895.7 822.5H940.9M1076.5 822.5H1121.7M805.2 823.5H850.5M1031.3 823.5H1076.5M805.2 824.5H850.5M1031.3 824.5H1121.7M624.4 825.5H669.6M805.2 825.5H850.5M895.7 825.5H940.9M1076.5 825.5H1121.7M579.2 827.5H624.4M714.8 827.5H760M850.5 827.5H940.9M1031.3 827.5H1121.7M172.3 828.5H217.5M669.6 829.5H714.8M760 829.5H805.2M127.1 830.5H172.3M307.9 830.5H353.2M488.8 830.5H534M805.2 830.5H850.5M1076.5 830.5H1121.7M760 831.5H805.2M895.7 831.5H940.9M986.1 831.5H1076.5M488.8 832.5H534M81.9 833.5H172.3M353.2 833.5H398.4M714.8 833.5H760M850.5 833.5H895.7M1076.5 833.5H1121.7M36.7 834.5H81.9M172.3 834.5H217.5M353.2 834.5H443.6M488.8 834.5H534M217.5 836.5H262.7M172.3 837.5H217.5M398.4 837.5H443.6M534 837.5H579.2M714.8 837.5H760M850.5 837.5H895.7M127.1 838.5H172.3M262.7 838.5H307.9M36.7 839.5H81.9M262.7 839.5H307.9M488.8 839.5H534M217.5 841.5H307.9M353.2 841.5H398.4M534 841.5H624.4M895.7 841.5H940.9M986.1 841.5H1031.3M353.2 842.5H398.4M36.7 843.5H81.9M127.1 843.5H262.7M398.4 843.5H488.8M534 843.5H579.2M127.1 845.5H172.3M714.8 845.5H760M714.8 846.5H760M986.1 846.5H1031.3M353.2 848.5H398.4M36.7 849.5H81.9M307.9 849.5H353.2M398.4 849.5H443.6M488.8 849.5H534M579.2 849.5H624.4M714.8 849.5H760M895.7 849.5H940.9M307.9 854.5H353.2M81.9 856.5H127.1M714.8 856.5H760M805.2 856.5H940.9M534 857.5H579.2M579.2 858.5H624.4M760 858.5H850.5M1076.5 858.5H1121.7M307.9 859.5H353.2M488.8 859.5H534M579.2 859.5H624.4M850.5 859.5H986.1M1031.3 859.5H1076.5M36.7 860.5H81.9M805.2 860.5H895.7M940.9 860.5H1031.3M217.5 861.5H262.7M353.2 865.5H488.8M986.1 865.5H1031.3M398.4 867.5H443.6M534 867.5H579.2M36.7 869.5H81.9M127.1 869.5H172.3M262.7 869.5H307.9M443.6 869.5H488.8M624.4 869.5H669.6M760 869.5H805.2M36.7 871.5H81.9M217.5 871.5H262.7M307.9 871.5H353.2M398.4 871.5H443.6M127.1 872.5H172.3M307.9 872.5H353.2M534 872.5H579.2M36.7 873.5H81.9M307.9 873.5H353.2M443.6 873.5H488.8M36.7 875.5H81.9M127.1 875.5H172.3M398.4 875.5H443.6M172.3 876.5H217.5M262.7 876.5H307.9M443.6 876.5H488.8M443.6 878.5H488.8M488.8 879.5H534M81.9 881.5H127.1M398.4 881.5H443.6M217.5 883.5H262.7M714.8 883.5H760M895.7 883.5H940.9M1031.3 883.5H1121.7M217.5 884.5H262.7M353.2 884.5H398.4M36.7 885.5H81.9M488.8 885.5H534M217.5 888.5H262.7M81.9 889.5H127.1M443.6 889.5H534M172.3 890.5H217.5M36.7 891.5H81.9M443.6 891.5H488.8M262.7 892.5H307.9M353.2 893.5H398.4M36.7 894.5H81.9M217.5 894.5H262.7M398.4 894.5H443.6M760 894.5H805.2M36.7 895.5H81.9M353.2 895.5H443.6M624.4 895.5H714.8M895.7 895.5H940.9M1031.3 895.5H1076.5M172.3 896.5H307.9M488.8 896.5H534M624.4 896.5H714.8M262.7 897.5H353.2M760 900.5H850.5M940.9 900.5H986.1M172.3 901.5H217.5M534 901.5H579.2M714.8 901.5H760M172.3 902.5H217.5M353.2 902.5H398.4M534 902.5H579.2M307.9 903.5H353.2M714.8 906.5H760M940.9 906.5H986.1M36.7 907.5H81.9M443.6 907.5H488.8M579.2 908.5H624.4M940.9 908.5H1031.3M805.2 911.5H850.5M307.9 914.5H353.2M850.5 916.5H895.7M127.1 917.5H217.5M127.1 918.5H172.3M262.7 918.5H307.9M534 918.5H579.2M850.5 918.5H895.7M986.1 918.5H1031.3M850.5 919.5H940.9M986.1 921.5H1031.3M624.4 922.5H760M805.2 922.5H940.9M669.6 924.5H714.8M850.5 924.5H895.7M1076.5 924.5H1121.7M850.5 928.5H895.7M986.1 928.5H1031.3M579.2 931.5H624.4M940.9 931.5H1031.3M624.4 932.5H669.6M624.4 933.5H669.6M714.8 933.5H760M669.6 934.5H760M940.9 934.5H986.1M669.6 935.5H714.8M940.9 937.5H986.1M624.4 938.5H669.6M624.4 939.5H760M850.5 939.5H895.7M986.1 939.5H1076.5M805.2 940.5H850.5M895.7 940.5H940.9M624.4 946.5H669.6M760 946.5H805.2M895.7 946.5H986.1M805.2 947.5H850.5M986.1 947.5H1076.5M624.4 948.5H669.6M850.5 948.5H895.7M940.9 948.5H986.1M850.5 951.5H895.7M940.9 951.5H986.1M669.6 952.5H714.8M805.2 952.5H850.5M986.1 952.5H1031.3M624.4 953.5H714.8M940.9 955.5H986.1M624.4 956.5H669.6M714.8 956.5H760M714.8 964.5H760M624.4 965.5H669.6M760 965.5H895.7M1076.5 965.5H1121.7M714.8 966.5H760M895.7 966.5H940.9M1076.5 966.5H1121.7M714.8 967.5H760M805.2 967.5H850.5M1031.3 967.5H1076.5M669.6 968.5H714.8M760 968.5H805.2M895.7 968.5H940.9M1076.5 969.5H1121.7M217.5 970.5H262.7M353.2 970.5H398.4M81.9 971.5H172.3M443.6 971.5H488.8M172.3 972.5H217.5M579.2 972.5H624.4M579.2 973.5H714.8M895.7 973.5H986.1M1076.5 973.5H1121.7M262.7 974.5H307.9M488.8 974.5H534M1031.3 974.5H1076.5M488.8 975.5H534M81.9 976.5H127.1M172.3 976.5H217.5M262.7 976.5H353.2M760 977.5H805.2M36.7 978.5H127.1M262.7 978.5H398.4M760 978.5H805.2M940.9 978.5H1031.3M488.8 979.5H534M669.6 979.5H714.8M127.1 982.5H172.3M443.6 982.5H488.8M262.7 984.5H307.9M36.7 985.5H127.1M217.5 985.5H262.7M353.2 985.5H398.4M443.6 985.5H488.8M262.7 987.5H307.9M534 987.5H579.2M714.8 987.5H805.2M1031.3 987.5H1076.5M172.3 992.5H217.5M262.7 992.5H307.9M534 993.5H579.2M36.7 994.5H81.9M217.5 994.5H353.2M443.6 994.5H488.8M127.1 996.5H172.3M307.9 996.5H353.2M398.4 996.5H443.6M36.7 997.5H81.9M669.6 997.5H714.8M986.1 997.5H1031.3M36.7 998.5H81.9M172.3 998.5H217.5M353.2 998.5H488.8M534 998.5H579.2M36.7 1010.5H81.9M127.1 1010.5H172.3M1031.3 1012.5H1121.7M353.2 1013.5H398.4M488.8 1013.5H534M760 1013.5H850.5M986.1 1013.5H1031.3M36.7 1014.5H81.9M262.7 1014.5H307.9M669.6 1015.5H714.8M895.7 1015.5H940.9M1031.3 1015.5H1076.5M127.1 1016.5H172.3M127.1 1017.5H172.3M262.7 1017.5H307.9M443.6 1017.5H488.8M760 1017.5H805.2M36.7 1018.5H81.9M307.9 1019.5H353.2M398.4 1019.5H443.6M579.2 1019.5H624.4M353.2 1020.5H398.4M81.9 1022.5H127.1M172.3 1022.5H217.5M398.4 1022.5H443.6M488.8 1022.5H534M895.7 1022.5H940.9M127.1 1023.5H172.3M398.4 1023.5H443.6M488.8 1023.5H624.4M805.2 1023.5H850.5M895.7 1023.5H940.9M353.2 1024.5H443.6M579.2 1025.5H624.4M760 1025.5H805.2M850.5 1025.5H940.9M127.1 1026.5H172.3M307.9 1026.5H353.2M398.4 1026.5H443.6M534 1026.5H579.2M805.2 1026.5H850.5M81.9 1027.5H127.1M398.4 1027.5H443.6M534 1027.5H624.4M850.5 1027.5H940.9M669.6 1028.5H714.8M217.5 1029.5H262.7M307.9 1029.5H353.2M760 1029.5H805.2M986.1 1029.5H1031.3M36.7 1030.5H81.9M353.2 1030.5H398.4M579.2 1031.5H624.4M669.6 1031.5H714.8M895.7 1031.5H940.9M81.9 1033.5H217.5M262.7 1033.5H353.2M624.4 1033.5H669.6M714.8 1033.5H760M805.2 1033.5H850.5M986.1 1033.5H1031.3M81.9 1034.5H127.1M353.2 1034.5H398.4M624.4 1034.5H669.6M986.1 1034.5H1031.3M579.2 1035.5H624.4M172.3 1036.5H217.5M262.7 1036.5H307.9M579.2 1036.5H624.4M669.6 1036.5H760M895.7 1036.5H940.9M986.1 1036.5H1031.3M36.7 1037.5H81.9M353.2 1037.5H398.4M534 1037.5H624.4M714.8 1037.5H760M895.7 1037.5H940.9M986.1 1037.5H1031.3M714.8 1038.5H760M1076.5 1038.5H1121.7M986.1 1040.5H1031.3M669.6 1041.5H714.8M1031.3 1041.5H1076.5M986.1 1042.5H1031.3M443.6 1054.5H488.8M217.5 1055.5H262.7M579.2 1056.5H624.4M760 1056.5H805.2M940.9 1056.5H986.1M1031.3 1057.5H1076.5M669.6 1058.5H714.8M940.9 1058.5H986.1M624.4 1059.5H714.8M805.2 1059.5H850.5M895.7 1059.5H986.1M940.9 1060.5H986.1M850.5 1066.5H895.7M760 1068.5H805.2M1031.3 1068.5H1076.5M714.8 1069.5H760M850.5 1069.5H895.7M1031.3 1069.5H1076.5M669.6 1070.5H714.8M760 1070.5H805.2M940.9 1070.5H1031.3M850.5 1072.5H895.7M624.4 1073.5H669.6M760 1076.5H805.2M669.6 1081.5H714.8M895.7 1081.5H940.9M1031.3 1081.5H1076.5M714.8 1082.5H760M624.4 1089.5H669.6M760 1089.5H850.5M940.9 1089.5H986.1M172.3 1100.5H307.9M1031.3 1100.5H1076.5M307.9 1103.5H353.2M850.5 1103.5H895.7M1031.3 1103.5H1076.5M172.3 1104.5H217.5M307.9 1104.5H353.2M488.8 1104.5H534M579.2 1104.5H624.4M172.3 1105.5H262.7M307.9 1106.5H353.2M398.4 1106.5H443.6M579.2 1106.5H624.4M895.7 1106.5H940.9M36.7 1107.5H81.9M172.3 1107.5H262.7M714.8 1107.5H760M850.5 1107.5H940.9M714.8 1108.5H760M353.2 1109.5H398.4M262.7 1110.5H307.9M579.2 1110.5H624.4M714.8 1110.5H760M895.7 1110.5H940.9M669.6 1111.5H714.8M986.1 1112.5H1031.3M986.1 1113.5H1031.3M579.2 1114.5H624.4M624.4 1115.5H669.6M850.5 1115.5H895.7M1031.3 1115.5H1121.7M81.9 1116.5H127.1M217.5 1116.5H262.7M353.2 1116.5H398.4M850.5 1116.5H895.7M1031.3 1116.5H1076.5M579.2 1119.5H624.4M805.2 1119.5H895.7M986.1 1119.5H1031.3M1076.5 1119.5H1121.7M760 1120.5H805.2M172.3 1122.5H217.5M398.4 1122.5H443.6M488.8 1122.5H534M398.4 1123.5H443.6M534 1123.5H579.2M669.6 1123.5H714.8M805.2 1123.5H895.7M127.1 1124.5H172.3M353.2 1124.5H398.4M534 1124.5H579.2M760 1124.5H805.2M805.2 1125.5H850.5M986.1 1125.5H1031.3M624.4 1126.5H669.6M895.7 1126.5H940.9M805.2 1129.5H895.7M986.1 1129.5H1076.5M714.8 1130.5H760M805.2 1130.5H850.5M895.7 1130.5H940.9M36.7 1131.5H81.9M217.5 1131.5H262.7M307.9 1131.5H398.4M81.9 1132.5H172.3M805.2 1132.5H940.9M1076.5 1132.5H1121.7M398.4 1133.5H443.6M36.7 1135.5H127.1M307.9 1135.5H353.2M398.4 1135.5H579.2M36.7 1136.5H81.9M217.5 1136.5H262.7M714.8 1136.5H760M895.7 1136.5H986.1M1076.5 1136.5H1121.7M398.4 1137.5H534M579.2 1138.5H624.4M760 1138.5H805.2M895.7 1138.5H940.9M81.9 1139.5H127.1M172.3 1139.5H217.5M443.6 1139.5H488.8M534 1139.5H579.2M850.5 1139.5H895.7M1076.5 1139.5H1121.7M1076.5 1140.5H1121.7M81.9 1141.5H127.1M172.3 1141.5H217.5M353.2 1141.5H398.4M714.8 1141.5H760M1076.5 1141.5H1121.7M669.6 1143.5H714.8M36.7 1145.5H81.9M307.9 1145.5H353.2M443.6 1145.5H488.8M534 1145.5H579.2M172.3 1147.5H217.5M669.6 1147.5H714.8M940.9 1147.5H986.1M36.7 1148.5H172.3M262.7 1148.5H307.9M443.6 1148.5H579.2M714.8 1148.5H760M986.1 1148.5H1076.5M714.8 1150.5H760M1031.3 1150.5H1076.5M36.7 1151.5H217.5M398.4 1151.5H443.6M534 1151.5H579.2M895.7 1151.5H940.9M1076.5 1151.5H1121.7M127.1 1152.5H172.3M398.4 1152.5H443.6M488.8 1152.5H534M579.2 1152.5H624.4M805.2 1152.5H850.5M895.7 1152.5H940.9M262.7 1155.5H307.9M443.6 1155.5H488.8M850.5 1155.5H895.7M172.3 1156.5H217.5M443.6 1156.5H488.8M127.1 1157.5H172.3M127.1 1158.5H172.3M488.8 1158.5H624.4M669.6 1158.5H714.8M895.7 1158.5H940.9M986.1 1158.5H1031.3M307.9 1159.5H398.4M624.4 1159.5H669.6M1076.5 1159.5H1121.7M81.9 1160.5H127.1M262.7 1160.5H307.9M805.2 1160.5H895.7M940.9 1160.5H986.1M81.9 1161.5H127.1M353.2 1161.5H398.4M488.8 1161.5H579.2M850.5 1161.5H895.7M488.8 1162.5H579.2M805.2 1164.5H850.5M81.9 1165.5H127.1M172.3 1165.5H217.5M398.4 1165.5H443.6M488.8 1165.5H579.2M36.7 1166.5H81.9M172.3 1166.5H217.5M307.9 1166.5H398.4M217.5 1168.5H262.7M488.8 1168.5H534M127.1 1169.5H172.3M217.5 1169.5H307.9M81.9 1171.5H172.3M217.5 1171.5H262.7M353.2 1171.5H398.4M534 1171.5H579.2M443.6 1172.5H488.8M579.2 1172.5H669.6M805.2 1172.5H850.5M1076.5 1172.5H1121.7M262.7 1173.5H307.9M443.6 1173.5H488.8M353.2 1175.5H398.4M36.7 1176.5H81.9M307.9 1176.5H353.2M579.2 1176.5H669.6M714.8 1176.5H760M805.2 1176.5H850.5M940.9 1176.5H986.1M669.6 1177.5H714.8M307.9 1179.5H353.2M534 1179.5H579.2M488.8 1184.5H534M307.9 1185.5H353.2M307.9 1186.5H353.2M398.4 1186.5H443.6M36.7 1187.5H127.1M172.3 1187.5H217.5M534 1188.5H579.2M217.5 1189.5H262.7M307.9 1189.5H353.2M217.5 1190.5H262.7M850.5 1191.5H895.7M579.2 1192.5H624.4M669.6 1192.5H850.5M895.7 1192.5H940.9M1031.3 1192.5H1076.5M534 1193.5H579.2M850.5 1193.5H940.9M986.1 1193.5H1031.3M172.3 1194.5H262.7M307.9 1194.5H488.8M534 1194.5H579.2M714.8 1194.5H760M895.7 1194.5H986.1M1031.3 1194.5H1076.5M36.7 1195.5H81.9M262.7 1195.5H307.9M353.2 1195.5H398.4M669.6 1195.5H714.8M624.4 1196.5H669.6M1076.5 1196.5H1121.7M217.5 1197.5H262.7M488.8 1197.5H534M624.4 1197.5H669.6M850.5 1197.5H895.7M940.9 1197.5H1031.3M1076.5 1197.5H1121.7M398.4 1198.5H443.6M534 1198.5H579.2M714.8 1198.5H760M1031.3 1198.5H1076.5M805.2 1199.5H1076.5M36.7 1201.5H127.1M307.9 1201.5H353.2M398.4 1201.5H443.6M353.2 1202.5H398.4M443.6 1202.5H488.8M534 1202.5H579.2M127.1 1204.5H172.3M262.7 1204.5H307.9M353.2 1204.5H488.8M669.6 1204.5H760M805.2 1204.5H895.7M986.1 1204.5H1031.3M1076.5 1204.5H1121.7M262.7 1205.5H307.9M443.6 1205.5H488.8M217.5 1206.5H262.7M398.4 1206.5H443.6M579.2 1206.5H624.4M669.6 1206.5H714.8M760 1206.5H805.2M895.7 1206.5H940.9M1031.3 1206.5H1121.7M534 1207.5H579.2M714.8 1207.5H760M805.2 1207.5H850.5M986.1 1207.5H1031.3M1076.5 1207.5H1121.7M172.3 1208.5H217.5M353.2 1208.5H398.4M488.8 1208.5H624.4M850.5 1208.5H895.7M986.1 1208.5H1031.3M398.4 1210.5H488.8M1076.5 1210.5H1121.7M579.2 1212.5H624.4M760 1212.5H850.5M986.1 1212.5H1031.3M669.6 1213.5H760M714.8 1214.5H760M36.7 1217.5H81.9M579.2 1217.5H669.6M714.8 1217.5H760M805.2 1217.5H850.5M895.7 1217.5H986.1M1031.3 1217.5H1121.7M36.7 1218.5H81.9M172.3 1218.5H217.5M353.2 1218.5H398.4M579.2 1218.5H805.2M986.1 1218.5H1076.5M36.7 1219.5H81.9M579.2 1219.5H624.4M669.6 1219.5H714.8M805.2 1219.5H895.7M579.2 1220.5H624.4M714.8 1220.5H760M805.2 1220.5H940.9M714.8 1221.5H760M850.5 1221.5H895.7M81.9 1222.5H127.1M262.7 1222.5H307.9M534 1222.5H579.2M81.9 1223.5H127.1M443.6 1223.5H488.8M850.5 1223.5H940.9M217.5 1224.5H262.7M398.4 1224.5H443.6M534 1224.5H579.2M850.5 1224.5H986.1M1076.5 1224.5H1121.7M81.9 1225.5H172.3M534 1225.5H579.2M760 1225.5H805.2M850.5 1225.5H1031.3M1076.5 1225.5H1121.7M217.5 1226.5H262.7M579.2 1226.5H669.6M986.1 1226.5H1076.5M81.9 1227.5H127.1M760 1227.5H805.2M940.9 1227.5H986.1M1076.5 1227.5H1121.7M760 1228.5H805.2M850.5 1228.5H895.7M1031.3 1228.5H1076.5M36.7 1230.5H81.9M127.1 1230.5H172.3M217.5 1230.5H262.7M669.6 1230.5H760M805.2 1230.5H850.5M940.9 1230.5H986.1M398.4 1231.5H488.8M579.2 1231.5H624.4M714.8 1231.5H850.5M895.7 1231.5H986.1M1031.3 1231.5H1076.5M850.5 1233.5H895.7M127.1 1234.5H172.3M443.6 1235.5H488.8M940.9 1235.5H986.1M217.5 1237.5H262.7M579.2 1237.5H624.4M488.8 1241.5H534M579.2 1253.5H624.4M669.6 1253.5H714.8M850.5 1253.5H895.7M986.1 1253.5H1076.5M669.6 1261.5H714.8M760 1261.5H805.2M986.1 1261.5H1031.3M1076.5 1261.5H1121.7M81.9 1264.5H127.1M172.3 1264.5H307.9M398.4 1264.5H443.6M443.6 1269.5H488.8M81.9 1270.5H127.1M398.4 1270.5H488.8M895.7 1274.5H940.9M1076.5 1274.5H1121.7M624.4 1275.5H669.6M714.8 1275.5H805.2M850.5 1275.5H1031.3M534 1277.5H579.2M805.2 1277.5H850.5M940.9 1277.5H986.1M172.3 1278.5H217.5M307.9 1278.5H353.2M669.6 1278.5H714.8M760 1278.5H850.5M1031.3 1278.5H1076.5M307.9 1279.5H353.2M488.8 1279.5H534M624.4 1283.5H669.6M760 1283.5H805.2M986.1 1283.5H1076.5"/>
<path stroke="#4d4dff" d="M81.9 382.5H127.1M172.3 382.5H217.5M81.9 411.5H217.5M307.9 411.5H353.2M443.6 411.5H488.8M534 411.5H579.2M36.7 414.5H81.9M398.4 414.5H443.6M488.8 414.5H534M307.9 415.5H353.2M398.4 415.5H443.6M488.8 415.5H534M81.9 421.5H127.1M172.3 421.5H217.5M307.9 421.5H353.2M443.6 421.5H488.8M534 421.5H579.2M36.7 427.5H81.9M307.9 435.5H353.2M172.3 442.5H262.7M534 442.5H579.2M36.7 443.5H81.9M217.5 443.5H262.7M1076.5 447.5H1121.7M669.6 452.5H714.8M850.5 452.5H895.7M986.1 462.5H1031.3M760 463.5H805.2M624.4 465.5H669.6M714.8 465.5H760M850.5 468.5H895.7M986.1 468.5H1031.3M986.1 470.5H1031.3M624.4 475.5H669.6M714.8 475.5H760M1031.3 475.5H1076.5M624.4 482.5H669.6M714.8 485.5H805.2M895.7 486.5H940.9M1076.5 486.5H1121.7M1076.5 487.5H1121.7M669.6 489.5H714.8M986.1 489.5H1031.3M579.2 491.5H624.4M714.8 491.5H760M850.5 491.5H940.9M1031.3 491.5H1076.5M805.2 492.5H850.5M895.7 492.5H940.9M1031.3 492.5H1076.5M805.2 493.5H850.5M760 494.5H805.2M805.2 495.5H850.5M895.7 495.5H940.9M1031.3 495.5H1076.5M895.7 496.5H940.9M579.2 497.5H624.4M669.6 497.5H714.8M579.2 498.5H805.2M986.1 498.5H1031.3M805.2 499.5H895.7M986.1 499.5H1031.3M579.2 500.5H669.6M760 500.5H805.2M895.7 500.5H940.9M986.1 500.5H1031.3M579.2 501.5H624.4M714.8 501.5H760M805.2 501.5H850.5M895.7 501.5H940.9M986.1 501.5H1076.5M624.4 503.5H669.6M1031.3 503.5H1121.7M624.4 505.5H669.6M760 505.5H805.2M986.1 505.5H1031.3M1076.5 505.5H1121.7M714.8 509.5H805.2M850.5 509.5H895.7M760 510.5H850.5M81.9 511.5H217.5M307.9 511.5H353.2M534 511.5H579.2M217.5 512.5H353.2M217.5 513.5H307.9M36.7 514.5H127.1M172.3 514.5H217.5M262.7 514.5H353.2M36.7 515.5H81.9M127.1 515.5H217.5M443.6 515.5H488.8M534 515.5H579.2M579.2 671.5H624.4M714.8 671.5H760M850.5 671.5H1031.3M1076.5 671.5H1121.7M127.1 672.5H172.3M353.2 672.5H398.4M443.6 672.5H488.8M172.3 673.5H217.5M443.6 673.5H488.8M669.6 673.5H714.8M805.2 673.5H850.5M940.9 673.5H1031.3M127.1 674.5H172.3M262.7 676.5H307.9M760 676.5H805.2M850.5 676.5H895.7M940.9 676.5H986.1M534 677.5H579.2M669.6 677.5H714.8M850.5 678.5H895.7M986.1 678.5H1031.3M624.4 680.5H669.6M714.8 680.5H760M443.6 682.5H488.8M443.6 684.5H488.8M760 685.5H805.2M895.7 685.5H940.9M1076.5 685.5H1121.7M217.5 686.5H307.9M579.2 686.5H624.4M669.6 686.5H714.8M805.2 686.5H850.5M895.7 686.5H940.9M81.9 687.5H127.1M443.6 687.5H624.4M1076.5 688.5H1121.7M624.4 689.5H669.6M940.9 689.5H986.1M36.7 690.5H81.9M217.5 690.5H262.7M488.8 690.5H624.4M940.9 690.5H986.1M1031.3 690.5H1076.5M81.9 691.5H172.3M262.7 691.5H353.2M488.8 691.5H534M579.2 692.5H624.4M940.9 692.5H1031.3M805.2 693.5H850.5M534 694.5H579.2M714.8 694.5H760M850.5 694.5H940.9M127.1 696.5H172.3M488.8 696.5H534M760 699.5H805.2M1076.5 699.5H1121.7M579.2 700.5H624.4M805.2 700.5H850.5M488.8 701.5H534M1076.5 701.5H1121.7M488.8 702.5H534M669.6 702.5H714.8M81.9 703.5H172.3M217.5 703.5H262.7M398.4 703.5H534M624.4 703.5H669.6M714.8 703.5H760M895.7 703.5H940.9M353.2 704.5H398.4M488.8 704.5H534M1031.3 704.5H1076.5M127.1 705.5H172.3M353.2 705.5H398.4M624.4 705.5H669.6M127.1 706.5H172.3M172.3 707.5H217.5M488.8 707.5H534M760 707.5H805.2M850.5 707.5H895.7M940.9 707.5H1031.3M398.4 708.5H443.6M534 708.5H579.2M714.8 708.5H760M895.7 708.5H940.9M81.9 709.5H217.5M262.7 709.5H307.9M488.8 709.5H534M534 712.5H579.2M624.4 712.5H714.8M895.7 712.5H986.1M127.1 713.5H172.3M353.2 713.5H398.4M534 714.5H579.2M760 716.5H805.2M850.5 716.5H940.9M986.1 716.5H1031.3M127.1 718.5H172.3M398.4 718.5H443.6M262.7 719.5H307.9M443.6 720.5H488.8M217.5 723.5H262.7M353.2 723.5H398.4M488.8 723.5H534M443.6 724.5H488.8M172.3 725.5H217.5M398.4 725.5H443.6M488.8 725.5H534M81.9 726.5H172.3M579.2 726.5H714.8M850.5 726.5H1031.3M534 727.5H579.2M669.6 727.5H714.8M895.7 727.5H986.1M1031.3 727.5H1121.7M805.2 728.5H850.5M127.1 729.5H217.5M353.2 729.5H443.6M488.8 729.5H534M398.4 730.5H443.6M488.8 730.5H534M624.4 731.5H714.8M760 731.5H805.2M986.1 731.5H1031.3M81.9 732.5H127.1M172.3 732.5H217.5M398.4 732.5H488.8M579.2 732.5H624.4M940.9 732.5H1031.3M127.1 733.5H172.3M443.6 733.5H488.8M1076.5 733.5H1121.7M1076.5 734.5H1121.7M624.4 736.5H669.6M986.1 736.5H1031.3M127.1 737.5H172.3M353.2 737.5H398.4M488.8 737.5H579.2M624.4 737.5H669.6M1076.5 737.5H1121.7M127.1 739.5H172.3M488.8 739.5H579.2M624.4 739.5H669.6M760 739.5H805.2M895.7 739.5H940.9M1076.5 739.5H1121.7M127.1 741.5H172.3M443.6 741.5H488.8M760 741.5H805.2M172.3 743.5H217.5M398.4 743.5H488.8M579.2 743.5H624.4M669.6 743.5H760M850.5 743.5H895.7M1031.3 743.5H1076.5M172.3 744.5H217.5M714.8 744.5H760M895.7 744.5H940.9M36.7 745.5H81.9M127.1 745.5H172.3M217.5 745.5H262.7M353.2 745.5H398.4M443.6 745.5H488.8M172.3 746.5H217.5M579.2 746.5H624.4M714.8 746.5H760M805.2 746.5H895.7M217.5 747.5H262.7M172.3 748.5H217.5M443.6 748.5H488.8M534 748.5H579.2M624.4 748.5H805.2M36.7 749.5H81.9M217.5 749.5H262.7M307.9 749.5H353.2M488.8 749.5H534M624.4 749.5H714.8M36.7 750.5H81.9M127.1 750.5H307.9M172.3 751.5H217.5M353.2 751.5H398.4M488.8 751.5H579.2M36.7 752.5H81.9M127.1 752.5H172.3M217.5 752.5H262.7M443.6 752.5H579.2M81.9 753.5H172.3M353.2 753.5H398.4M443.6 753.5H488.8M534 753.5H579.2M353.2 754.5H398.4M172.3 755.5H217.5M624.4 756.5H669.6M36.7 757.5H81.9M172.3 757.5H307.9M217.5 758.5H262.7M579.2 758.5H669.6M81.9 759.5H127.1M172.3 759.5H217.5M488.8 759.5H534M172.3 760.5H217.5M262.7 760.5H307.9M443.6 760.5H488.8M127.1 762.5H172.3M36.7 763.5H81.9M172.3 763.5H217.5M353.2 763.5H398.4M81.9 764.5H127.1M217.5 764.5H262.7M398.4 764.5H443.6M534 764.5H579.2M353.2 765.5H398.4M36.7 766.5H81.9M217.5 766.5H262.7M443.6 766.5H488.8M534 766.5H579.2M81.9 767.5H172.3M534 767.5H579.2M353.2 768.5H398.4M488.8 768.5H534M262.7 769.5H353.2M307.9 771.5H353.2M398.4 771.5H443.6M443.6 772.5H488.8M127.1 773.5H172.3M262.7 773.5H307.9M353.2 773.5H398.4M353.2 774.5H398.4M81.9 775.5H127.1M534 776.5H579.2M353.2 778.5H398.4M443.6 778.5H579.2M443.6 779.5H488.8M534 779.5H579.2M262.7 780.5H307.9M443.6 780.5H488.8M534 780.5H579.2M307.9 781.5H443.6M488.8 781.5H534M127.1 782.5H172.3M307.9 782.5H353.2M534 782.5H579.2M262.7 783.5H398.4M534 783.5H579.2M36.7 785.5H81.9M127.1 785.5H262.7M307.9 785.5H353.2M398.4 785.5H443.6M36.7 786.5H81.9M307.9 786.5H353.2M534 786.5H579.2M669.6 792.5H714.8M714.8 793.5H805.2M895.7 793.5H940.9M488.8 794.5H534M714.8 795.5H760M1076.5 795.5H1121.7M579.2 797.5H624.4M760 799.5H805.2M1076.5 799.5H1121.7M353.2 802.5H398.4M579.2 802.5H624.4M714.8 802.5H760M307.9 803.5H353.2M805.2 803.5H850.5M986.1 804.5H1031.3M624.4 805.5H669.6M714.8 805.5H760M940.9 805.5H986.1M1076.5 805.5H1121.7M127.1 808.5H262.7M488.8 808.5H534M172.3 810.5H217.5M307.9 810.5H353.2M534 810.5H624.4M669.6 810.5H714.8M895.7 810.5H940.9M172.3 811.5H217.5M850.5 811.5H940.9M1031.3 811.5H1121.7M172.3 813.5H217.5M624.4 813.5H669.6M714.8 813.5H760M895.7 813.5H986.1M36.7 814.5H81.9M353.2 814.5H398.4M488.8 814.5H534M760 815.5H805.2M760 816.5H805.2M850.5 816.5H895.7M940.9 816.5H986.1M1076.5 816.5H1121.7M262.7 817.5H353.2M760 817.5H805.2M986.1 817.5H1076.5M714.8 818.5H760M36.7 819.5H81.9M307.9 819.5H353.2M398.4 819.5H443.6M534 819.5H579.2M940.9 819.5H986.1M1076.5 819.5H1121.7M579.2 820.5H669.6M714.8 820.5H760M895.7 820.5H940.9M714.8 821.5H760M624.4 822.5H669.6M760 822.5H850.5M1031.3 822.5H1076.5M307.9 823.5H353.2M579.2 823.5H624.4M714.8 823.5H760M895.7 823.5H986.1M262.7 824.5H307.9M669.6 824.5H760M895.7 824.5H1031.3M579.2 825.5H624.4M760 825.5H805.2M1031.3 825.5H1076.5M36.7 826.5H81.9M127.1 826.5H172.3M307.9 826.5H353.2M398.4 826.5H443.6M579.2 826.5H624.4M669.6 826.5H714.8M805.2 826.5H850.5M895.7 826.5H986.1M1076.5 826.5H1121.7M262.7 828.5H307.9M624.4 829.5H669.6M714.8 829.5H760M805.2 829.5H986.1M1076.5 829.5H1121.7M36.7 830.5H127.1M172.3 830.5H217.5M262.7 830.5H307.9M398.4 830.5H443.6M534 830.5H579.2M579.2 831.5H624.4M669.6 831.5H714.8M1076.5 831.5H1121.7M669.6 832.5H714.8M760 832.5H805.2M217.5 833.5H262.7M805.2 833.5H850.5M940.9 833.5H986.1M127.1 834.5H172.3M36.7 835.5H81.9M127.1 835.5H172.3M353.2 835.5H443.6M81.9 837.5H127.1M353.2 837.5H398.4M81.9 838.5H127.1M488.8 838.5H534M805.2 838.5H895.7M1076.5 838.5H1121.7M353.2 839.5H488.8M714.8 839.5H805.2M895.7 839.5H940.9M1031.3 839.5H1121.7M534 840.5H579.2M127.1 841.5H172.3M307.9 841.5H353.2M443.6 841.5H488.8M624.4 841.5H805.2M850.5 841.5H895.7M940.9 841.5H986.1M1076.5 841.5H1121.7M760 842.5H850.5M579.2 843.5H624.4M760 843.5H850.5M895.7 843.5H940.9M986.1 843.5H1031.3M714.8 844.5H760M895.7 844.5H940.9M36.7 845.5H127.1M172.3 845.5H217.5M262.7 845.5H307.9M443.6 845.5H534M850.5 845.5H895.7M579.2 846.5H624.4M850.5 846.5H940.9M172.3 847.5H217.5M760 847.5H805.2M850.5 847.5H895.7M534 848.5H579.2M805.2 849.5H850.5M986.1 849.5H1121.7M1031.3 852.5H1076.5M443.6 854.5H488.8M262.7 856.5H307.9M940.9 856.5H1076.5M81.9 857.5H127.1M172.3 857.5H217.5M307.9 857.5H398.4M714.8 858.5H760M986.1 858.5H1031.3M624.4 859.5H714.8M760 859.5H850.5M986.1 859.5H1031.3M1076.5 859.5H1121.7M127.1 860.5H172.3M398.4 860.5H443.6M36.7 861.5H81.9M127.1 861.5H172.3M262.7 861.5H398.4M217.5 865.5H307.9M307.9 867.5H353.2M443.6 867.5H488.8M36.7 868.5H127.1M307.9 868.5H353.2M398.4 868.5H443.6M353.2 871.5H398.4M443.6 871.5H488.8M534 871.5H579.2M36.7 872.5H127.1M443.6 872.5H534M172.3 873.5H262.7M353.2 873.5H443.6M534 873.5H579.2M217.5 875.5H307.9M488.8 875.5H534M36.7 881.5H81.9M127.1 881.5H262.7M307.9 881.5H353.2M443.6 881.5H579.2M127.1 884.5H172.3M307.9 885.5H353.2M398.4 885.5H488.8M534 885.5H579.2M81.9 888.5H172.3M262.7 888.5H307.9M534 888.5H579.2M353.2 889.5H398.4M488.8 892.5H579.2M127.1 893.5H217.5M307.9 893.5H353.2M398.4 893.5H488.8M81.9 894.5H127.1M353.2 894.5H398.4M534 894.5H714.8M805.2 894.5H1121.7M262.7 895.5H307.9M443.6 895.5H534M307.9 896.5H353.2M398.4 896.5H488.8M36.7 897.5H81.9M398.4 897.5H443.6M488.8 897.5H579.2M36.7 898.5H81.9M488.8 901.5H534M805.2 901.5H850.5M262.7 902.5H307.9M398.4 902.5H443.6M36.7 903.5H81.9M353.2 903.5H398.4M217.5 904.5H262.7M307.9 904.5H353.2M488.8 906.5H534M217.5 907.5H398.4M534 907.5H579.2M353.2 911.5H398.4M172.3 914.5H262.7M398.4 914.5H488.8M534 914.5H579.2M217.5 916.5H262.7M307.9 916.5H353.2M353.2 917.5H398.4M488.8 917.5H534M488.8 918.5H534M624.4 921.5H669.6M760 921.5H805.2M850.5 921.5H895.7M579.2 922.5H624.4M986.1 922.5H1076.5M940.9 923.5H1031.3M579.2 924.5H624.4M714.8 925.5H760M895.7 925.5H940.9M714.8 928.5H760M669.6 931.5H714.8M760 931.5H805.2M895.7 933.5H940.9M986.1 933.5H1031.3M850.5 935.5H895.7M986.1 935.5H1031.3M805.2 936.5H940.9M1031.3 936.5H1121.7M579.2 937.5H624.4M579.2 938.5H624.4M669.6 938.5H760M850.5 938.5H940.9M669.6 940.5H760M850.5 940.5H895.7M1031.3 940.5H1076.5M940.9 941.5H986.1M895.7 942.5H986.1M986.1 945.5H1031.3M805.2 946.5H895.7M760 947.5H805.2M895.7 947.5H940.9M669.6 948.5H714.8M760 948.5H805.2M805.2 951.5H850.5M986.1 951.5H1031.3M1076.5 951.5H1121.7M624.4 952.5H669.6M895.7 952.5H940.9M1076.5 952.5H1121.7M579.2 953.5H624.4M895.7 953.5H940.9M1031.3 953.5H1076.5M624.4 955.5H714.8M850.5 955.5H940.9M986.1 955.5H1121.7M579.2 964.5H624.4M669.6 965.5H714.8M940.9 965.5H986.1M1031.3 965.5H1076.5M579.2 966.5H624.4M805.2 966.5H850.5M624.4 967.5H669.6M850.5 967.5H940.9M986.1 967.5H1031.3M1076.5 967.5H1121.7M127.1 970.5H172.3M262.7 970.5H307.9M398.4 970.5H443.6M36.7 971.5H81.9M307.9 971.5H398.4M850.5 972.5H895.7M172.3 973.5H217.5M714.8 973.5H760M353.2 974.5H398.4M534 974.5H579.2M307.9 975.5H353.2M669.6 975.5H714.8M986.1 975.5H1031.3M398.4 976.5H488.8M669.6 977.5H760M940.9 977.5H1031.3M217.5 978.5H262.7M624.4 978.5H714.8M1031.3 978.5H1076.5M36.7 979.5H81.9M172.3 979.5H262.7M307.9 979.5H353.2M443.6 979.5H488.8M534 979.5H579.2M714.8 979.5H850.5M895.7 979.5H940.9M986.1 979.5H1031.3M172.3 982.5H262.7M353.2 982.5H443.6M127.1 985.5H217.5M534 985.5H579.2M36.7 993.5H127.1M307.9 993.5H534M127.1 994.5H217.5M353.2 994.5H398.4M895.7 997.5H940.9M534 1010.5H579.2M534 1011.5H624.4M760 1011.5H805.2M940.9 1011.5H986.1M940.9 1013.5H986.1M127.1 1014.5H172.3M217.5 1014.5H262.7M760 1014.5H805.2M850.5 1014.5H895.7M986.1 1014.5H1031.3M217.5 1015.5H307.9M534 1015.5H624.4M714.8 1015.5H760M353.2 1016.5H443.6M534 1016.5H579.2M36.7 1017.5H127.1M172.3 1017.5H217.5M714.8 1017.5H760M940.9 1017.5H986.1M1031.3 1017.5H1076.5M624.4 1022.5H669.6M1031.3 1022.5H1076.5M940.9 1023.5H986.1M81.9 1025.5H127.1M1076.5 1025.5H1121.7M353.2 1026.5H398.4M488.8 1026.5H534M624.4 1026.5H669.6M36.7 1027.5H81.9M443.6 1027.5H534M714.8 1027.5H760M1076.5 1027.5H1121.7M36.7 1028.5H81.9M760 1028.5H805.2M850.5 1028.5H895.7M940.9 1028.5H1121.7M398.4 1029.5H443.6M488.8 1029.5H579.2M714.8 1029.5H760M940.9 1029.5H986.1M805.2 1031.5H850.5M1031.3 1031.5H1121.7M353.2 1033.5H443.6M534 1033.5H624.4M36.7 1034.5H81.9M850.5 1034.5H895.7M714.8 1035.5H760M850.5 1035.5H895.7M624.4 1036.5H669.6M398.4 1037.5H443.6M624.4 1037.5H714.8M760 1037.5H850.5M1076.5 1037.5H1121.7M579.2 1038.5H714.8M850.5 1038.5H940.9M1031.3 1042.5H1076.5M805.2 1045.5H850.5M986.1 1056.5H1031.3M579.2 1057.5H624.4M760 1057.5H895.7M940.9 1057.5H1031.3M1076.5 1057.5H1121.7M579.2 1058.5H669.6M714.8 1058.5H805.2M850.5 1058.5H895.7M1031.3 1058.5H1076.5M579.2 1059.5H624.4M850.5 1059.5H895.7M986.1 1059.5H1031.3M850.5 1060.5H895.7M714.8 1063.5H760M850.5 1063.5H895.7M669.6 1065.5H714.8M760 1067.5H805.2M986.1 1067.5H1031.3M669.6 1068.5H714.8M579.2 1069.5H714.8M760 1069.5H805.2M895.7 1069.5H940.9M714.8 1072.5H760M1031.3 1073.5H1076.5M579.2 1074.5H624.4M714.8 1076.5H760M805.2 1076.5H850.5M986.1 1076.5H1076.5M624.4 1081.5H669.6M579.2 1082.5H624.4M760 1082.5H805.2M895.7 1082.5H986.1M669.6 1084.5H714.8M1076.5 1084.5H1121.7M36.7 1100.5H81.9M353.2 1100.5H398.4M534 1100.5H579.2M443.6 1101.5H488.8M579.2 1101.5H624.4M760 1101.5H805.2M1031.3 1101.5H1076.5M760 1102.5H805.2M36.7 1103.5H81.9M398.4 1103.5H488.8M624.4 1103.5H669.6M714.8 1103.5H760M805.2 1103.5H850.5M986.1 1103.5H1031.3M81.9 1104.5H172.3M262.7 1104.5H307.9M534 1104.5H579.2M940.9 1104.5H986.1M307.9 1105.5H353.2M488.8 1105.5H579.2M1076.5 1105.5H1121.7M262.7 1106.5H307.9M534 1107.5H624.4M669.6 1107.5H714.8M805.2 1107.5H850.5M217.5 1108.5H262.7M534 1108.5H579.2M624.4 1108.5H669.6M805.2 1108.5H850.5M36.7 1109.5H127.1M172.3 1109.5H217.5M262.7 1109.5H307.9M398.4 1109.5H443.6M534 1109.5H579.2M36.7 1110.5H81.9M172.3 1110.5H217.5M624.4 1110.5H714.8M760 1110.5H805.2M986.1 1110.5H1121.7M579.2 1111.5H624.4M760 1111.5H805.2M895.7 1111.5H940.9M986.1 1111.5H1076.5M760 1112.5H805.2M1031.3 1112.5H1076.5M669.6 1113.5H714.8M760 1113.5H805.2M1031.3 1113.5H1076.5M217.5 1115.5H262.7M353.2 1115.5H398.4M579.2 1115.5H624.4M805.2 1115.5H850.5M172.3 1116.5H217.5M579.2 1116.5H624.4M805.2 1116.5H850.5M986.1 1116.5H1031.3M714.8 1119.5H760M940.9 1119.5H986.1M1031.3 1119.5H1076.5M127.1 1122.5H172.3M353.2 1122.5H398.4M669.6 1122.5H714.8M986.1 1122.5H1031.3M36.7 1123.5H81.9M986.1 1123.5H1031.3M36.7 1124.5H81.9M172.3 1124.5H262.7M488.8 1124.5H534M940.9 1124.5H986.1M1076.5 1124.5H1121.7M624.4 1125.5H669.6M850.5 1125.5H895.7M714.8 1126.5H760M986.1 1126.5H1031.3M443.6 1127.5H488.8M624.4 1128.5H669.6M850.5 1128.5H895.7M579.2 1129.5H624.4M714.8 1129.5H760M895.7 1129.5H940.9M1076.5 1129.5H1121.7M127.1 1130.5H172.3M398.4 1130.5H443.6M488.8 1130.5H579.2M940.9 1130.5H986.1M669.6 1131.5H714.8M986.1 1131.5H1031.3M217.5 1132.5H353.2M624.4 1132.5H669.6M217.5 1133.5H307.9M443.6 1133.5H488.8M579.2 1134.5H624.4M895.7 1134.5H986.1M1031.3 1134.5H1076.5M217.5 1135.5H307.9M353.2 1135.5H398.4M172.3 1136.5H217.5M262.7 1136.5H307.9M353.2 1136.5H398.4M760 1136.5H805.2M850.5 1136.5H895.7M1031.3 1136.5H1076.5M36.7 1137.5H81.9M127.1 1137.5H172.3M262.7 1137.5H353.2M127.1 1138.5H172.3M217.5 1138.5H262.7M850.5 1138.5H895.7M940.9 1138.5H986.1M579.2 1140.5H714.8M895.7 1140.5H940.9M534 1141.5H669.6M760 1141.5H850.5M940.9 1141.5H986.1M579.2 1142.5H760M850.5 1142.5H895.7M1031.3 1142.5H1121.7M579.2 1143.5H669.6M714.8 1143.5H760M986.1 1143.5H1031.3M1076.5 1143.5H1121.7M895.7 1144.5H986.1M714.8 1145.5H760M579.2 1147.5H624.4M805.2 1147.5H850.5M1031.3 1147.5H1121.7M172.3 1148.5H217.5M579.2 1148.5H669.6M36.7 1149.5H81.9M127.1 1149.5H217.5M353.2 1149.5H398.4M534 1149.5H579.2M669.6 1150.5H714.8M895.7 1150.5H940.9M986.1 1150.5H1031.3M1076.5 1150.5H1121.7M217.5 1151.5H262.7M307.9 1151.5H398.4M624.4 1151.5H669.6M805.2 1151.5H895.7M940.9 1151.5H1031.3M353.2 1152.5H398.4M172.3 1155.5H217.5M217.5 1157.5H262.7M443.6 1157.5H488.8M36.7 1158.5H127.1M172.3 1158.5H217.5M262.7 1158.5H307.9M353.2 1158.5H398.4M624.4 1158.5H669.6M805.2 1158.5H895.7M1076.5 1158.5H1121.7M217.5 1159.5H307.9M36.7 1160.5H81.9M217.5 1160.5H262.7M624.4 1160.5H669.6M172.3 1161.5H262.7M307.9 1161.5H353.2M443.6 1161.5H488.8M262.7 1162.5H307.9M353.2 1162.5H398.4M443.6 1162.5H488.8M398.4 1163.5H443.6M488.8 1164.5H534M217.5 1165.5H262.7M443.6 1165.5H488.8M262.7 1166.5H307.9M443.6 1166.5H488.8M127.1 1168.5H217.5M534 1168.5H579.2M398.4 1169.5H443.6M488.8 1169.5H579.2M172.3 1171.5H217.5M262.7 1171.5H353.2M443.6 1171.5H488.8M307.9 1184.5H353.2M398.4 1184.5H443.6M353.2 1185.5H398.4M81.9 1186.5H127.1M217.5 1186.5H262.7M488.8 1186.5H534M127.1 1187.5H172.3M217.5 1187.5H262.7M443.6 1187.5H579.2M488.8 1189.5H534M443.6 1190.5H488.8M940.9 1192.5H1031.3M1031.3 1193.5H1076.5M81.9 1194.5H127.1M805.2 1194.5H850.5M81.9 1195.5H217.5M307.9 1195.5H353.2M443.6 1195.5H488.8M624.4 1195.5H669.6M850.5 1195.5H895.7M579.2 1196.5H624.4M850.5 1196.5H895.7M940.9 1196.5H1031.3M714.8 1197.5H850.5M488.8 1198.5H534M127.1 1199.5H172.3M262.7 1199.5H307.9M443.6 1199.5H488.8M714.8 1199.5H760M488.8 1201.5H534M172.3 1202.5H217.5M81.9 1203.5H127.1M262.7 1203.5H307.9M353.2 1203.5H398.4M443.6 1206.5H534M714.8 1206.5H760M805.2 1206.5H895.7M986.1 1206.5H1031.3M81.9 1207.5H172.3M307.9 1207.5H353.2M669.6 1207.5H714.8M81.9 1208.5H127.1M262.7 1208.5H307.9M443.6 1208.5H488.8M1076.5 1208.5H1121.7M36.7 1210.5H81.9M172.3 1210.5H217.5M579.2 1213.5H669.6M805.2 1213.5H850.5M986.1 1213.5H1076.5M805.2 1214.5H850.5M805.2 1218.5H850.5M624.4 1219.5H669.6M624.4 1220.5H714.8M579.2 1221.5H624.4M760 1221.5H850.5M895.7 1221.5H940.9M1031.3 1221.5H1121.7M307.9 1222.5H443.6M488.8 1222.5H534M217.5 1223.5H262.7M353.2 1223.5H398.4M488.8 1223.5H579.2M760 1223.5H850.5M1031.3 1223.5H1121.7M262.7 1224.5H307.9M624.4 1224.5H714.8M1031.3 1224.5H1076.5M217.5 1225.5H262.7M624.4 1225.5H760M805.2 1225.5H850.5M81.9 1226.5H172.3M353.2 1226.5H398.4M443.6 1226.5H488.8M669.6 1226.5H714.8M760 1226.5H850.5M488.8 1227.5H534M624.4 1227.5H669.6M714.8 1227.5H760M805.2 1227.5H850.5M1031.3 1227.5H1076.5M714.8 1228.5H760M895.7 1228.5H940.9M1076.5 1228.5H1121.7M36.7 1229.5H81.9M127.1 1229.5H262.7M307.9 1229.5H353.2M398.4 1229.5H443.6M172.3 1230.5H217.5M353.2 1230.5H398.4M624.4 1230.5H669.6M895.7 1230.5H940.9M262.7 1231.5H307.9M624.4 1231.5H714.8M986.1 1231.5H1031.3M398.4 1232.5H443.6M488.8 1232.5H534M714.8 1232.5H760M850.5 1232.5H940.9M714.8 1233.5H805.2M895.7 1233.5H940.9M1031.3 1233.5H1076.5M986.1 1237.5H1031.3M579.2 1261.5H624.4M36.7 1264.5H81.9M669.6 1275.5H714.8M1031.3 1275.5H1076.5M1031.3 1277.5H1076.5M624.4 1278.5H669.6M940.9 1278.5H986.1"/>
<path stroke="#6666ff" d="M172.3 381.5H217.5M36.7 382.5H81.9M127.1 382.5H172.3M217.5 382.5H262.7M353.2 382.5H443.6M36.7 383.5H81.9M127.1 383.5H172.3M398.4 383.5H443.6M217.5 406.5H262.7M353.2 410.5H398.4M398.4 411.5H443.6M36.7 413.5H81.9M443.6 413.5H488.8M534 413.5H579.2M262.7 414.5H353.2M36.7 415.5H81.9M127.1 415.5H172.3M217.5 416.5H262.7M307.9 416.5H398.4M443.6 416.5H488.8M353.2 420.5H398.4M127.1 421.5H172.3M217.5 421.5H262.7M398.4 421.5H443.6M36.7 426.5H81.9M127.1 426.5H172.3M127.1 427.5H172.3M353.2 427.5H398.4M127.1 435.5H172.3M217.5 435.5H307.9M353.2 435.5H398.4M534 435.5H579.2M36.7 436.5H81.9M81.9 439.5H127.1M172.3 441.5H217.5M127.1 442.5H172.3M307.9 442.5H353.2M398.4 442.5H443.6M81.9 443.5H217.5M307.9 443.5H398.4M443.6 443.5H488.8M940.9 443.5H986.1M850.5 446.5H895.7M624.4 447.5H669.6M714.8 447.5H760M805.2 447.5H895.7M986.1 447.5H1031.3M624.4 452.5H669.6M760 452.5H805.2M895.7 452.5H940.9M1076.5 452.5H1121.7M669.6 456.5H714.8M669.6 460.5H714.8M850.5 461.5H895.7M986.1 461.5H1031.3M669.6 462.5H714.8M714.8 463.5H760M805.2 463.5H850.5M1031.3 463.5H1076.5M760 465.5H805.2M1031.3 465.5H1076.5M714.8 468.5H760M624.4 471.5H669.6M714.8 471.5H760M850.5 471.5H895.7M986.1 471.5H1031.3M1076.5 471.5H1121.7M850.5 472.5H895.7M760 475.5H805.2M940.9 475.5H1031.3M1076.5 475.5H1121.7M579.2 480.5H624.4M714.8 480.5H760M669.6 481.5H760M986.1 481.5H1031.3M760 482.5H805.2M940.9 482.5H986.1M714.8 483.5H760M805.2 483.5H850.5M1031.3 483.5H1076.5M579.2 485.5H669.6M895.7 485.5H940.9M1031.3 488.5H1076.5M895.7 489.5H986.1M624.4 490.5H669.6M714.8 490.5H805.2M1031.3 490.5H1076.5M669.6 491.5H714.8M760 491.5H850.5M986.1 491.5H1031.3M1076.5 491.5H1121.7M579.2 492.5H714.8M940.9 492.5H986.1M1076.5 492.5H1121.7M579.2 493.5H624.4M714.8 493.5H805.2M850.5 493.5H895.7M940.9 493.5H986.1M669.6 495.5H714.8M940.9 495.5H1031.3M850.5 496.5H895.7M1031.3 496.5H1076.5M1076.5 498.5H1121.7M714.8 499.5H760M895.7 499.5H986.1M669.6 500.5H714.8M940.9 500.5H986.1M1076.5 500.5H1121.7M1076.5 501.5H1121.7M714.8 503.5H760M850.5 503.5H895.7M940.9 503.5H1031.3M805.2 504.5H850.5M986.1 504.5H1121.7M579.2 506.5H624.4M805.2 506.5H850.5M940.9 506.5H986.1M1031.3 506.5H1076.5M624.4 508.5H669.6M805.2 508.5H850.5M1076.5 508.5H1121.7M579.2 509.5H624.4M1031.3 509.5H1076.5M579.2 510.5H624.4M714.8 510.5H760M850.5 510.5H895.7M1031.3 510.5H1121.7M36.7 511.5H81.9M217.5 511.5H262.7M398.4 511.5H443.6M36.7 512.5H217.5M353.2 512.5H579.2M172.3 513.5H217.5M307.9 513.5H353.2M127.1 514.5H172.3M398.4 514.5H534M398.4 515.5H443.6M669.6 669.5H760M850.5 669.5H940.9M669.6 670.5H714.8M1031.3 671.5H1076.5M172.3 672.5H217.5M534 672.5H579.2M624.4 672.5H669.6M36.7 673.5H81.9M127.1 673.5H172.3M760 673.5H805.2M850.5 673.5H940.9M1031.3 673.5H1076.5M81.9 674.5H127.1M262.7 674.5H307.9M443.6 674.5H488.8M579.2 674.5H624.4M81.9 676.5H172.3M307.9 676.5H353.2M398.4 676.5H443.6M127.1 677.5H217.5M488.8 677.5H534M624.4 677.5H669.6M760 677.5H850.5M940.9 677.5H986.1M1031.3 677.5H1076.5M36.7 678.5H81.9M262.7 678.5H307.9M534 678.5H669.6M895.7 678.5H940.9M534 679.5H579.2M805.2 679.5H850.5M443.6 680.5H488.8M805.2 680.5H850.5M940.9 680.5H986.1M1031.3 680.5H1121.7M579.2 681.5H624.4M669.6 681.5H714.8M805.2 681.5H850.5M986.1 681.5H1031.3M353.2 684.5H398.4M986.1 685.5H1031.3M127.1 686.5H172.3M353.2 686.5H398.4M443.6 686.5H488.8M534 686.5H579.2M624.4 686.5H669.6M940.9 686.5H986.1M36.7 687.5H81.9M262.7 687.5H398.4M714.8 687.5H805.2M1031.3 687.5H1076.5M579.2 688.5H624.4M714.8 688.5H805.2M579.2 689.5H624.4M81.9 690.5H217.5M624.4 690.5H669.6M172.3 691.5H217.5M217.5 692.5H262.7M353.2 692.5H398.4M895.7 692.5H940.9M579.2 693.5H669.6M850.5 693.5H895.7M986.1 693.5H1031.3M262.7 694.5H307.9M579.2 694.5H624.4M669.6 694.5H714.8M805.2 694.5H850.5M1031.3 694.5H1121.7M262.7 695.5H307.9M353.2 695.5H398.4M217.5 696.5H262.7M307.9 696.5H353.2M714.8 698.5H760M579.2 699.5H624.4M669.6 699.5H714.8M805.2 699.5H850.5M940.9 699.5H986.1M669.6 700.5H760M850.5 700.5H940.9M81.9 701.5H127.1M895.7 701.5H940.9M443.6 702.5H488.8M714.8 702.5H760M895.7 702.5H940.9M172.3 703.5H217.5M262.7 703.5H307.9M579.2 703.5H624.4M81.9 704.5H127.1M217.5 704.5H307.9M443.6 704.5H488.8M805.2 704.5H850.5M36.7 705.5H81.9M262.7 705.5H307.9M850.5 705.5H1031.3M81.9 706.5H127.1M398.4 707.5H443.6M534 707.5H579.2M669.6 708.5H714.8M986.1 708.5H1031.3M353.2 709.5H398.4M443.6 709.5H488.8M81.9 710.5H127.1M262.7 711.5H398.4M443.6 711.5H488.8M760 711.5H805.2M398.4 712.5H443.6M714.8 712.5H760M850.5 712.5H895.7M1076.5 712.5H1121.7M36.7 713.5H81.9M534 713.5H579.2M895.7 713.5H940.9M488.8 715.5H534M81.9 716.5H127.1M307.9 716.5H398.4M443.6 716.5H488.8M669.6 716.5H714.8M81.9 717.5H127.1M443.6 717.5H488.8M36.7 718.5H81.9M307.9 718.5H353.2M443.6 718.5H488.8M217.5 719.5H262.7M895.7 719.5H940.9M81.9 720.5H172.3M534 720.5H624.4M353.2 721.5H398.4M895.7 721.5H940.9M443.6 722.5H488.8M127.1 723.5H172.3M398.4 723.5H443.6M534 723.5H579.2M81.9 724.5H127.1M217.5 724.5H262.7M398.4 724.5H443.6M534 724.5H579.2M353.2 725.5H398.4M217.5 726.5H262.7M398.4 726.5H443.6M534 726.5H579.2M624.4 727.5H669.6M760 727.5H805.2M81.9 729.5H127.1M217.5 729.5H262.7M81.9 730.5H127.1M262.7 730.5H307.9M353.2 730.5H398.4M714.8 730.5H760M805.2 730.5H850.5M1076.5 731.5H1121.7M36.7 732.5H81.9M217.5 732.5H398.4M534 732.5H579.2M1076.5 732.5H1121.7M217.5 733.5H262.7M534 733.5H579.2M669.6 734.5H714.8M36.7 737.5H81.9M81.9 739.5H127.1M398.4 739.5H488.8M579.2 739.5H624.4M940.9 739.5H1031.3M307.9 741.5H353.2M398.4 741.5H443.6M534 741.5H579.2M217.5 743.5H307.9M534 743.5H579.2M805.2 743.5H850.5M940.9 743.5H986.1M127.1 744.5H172.3M579.2 744.5H624.4M669.6 744.5H714.8M805.2 744.5H895.7M940.9 744.5H1076.5M81.9 745.5H127.1M534 745.5H579.2M714.8 745.5H760M850.5 745.5H986.1M217.5 746.5H262.7M353.2 746.5H398.4M534 746.5H579.2M669.6 746.5H714.8M895.7 746.5H986.1M1031.3 746.5H1076.5M262.7 747.5H307.9M488.8 747.5H534M624.4 747.5H805.2M850.5 747.5H895.7M307.9 748.5H353.2M579.2 748.5H624.4M895.7 748.5H986.1M1076.5 748.5H1121.7M81.9 749.5H127.1M262.7 749.5H307.9M398.4 749.5H443.6M579.2 749.5H624.4M714.8 749.5H760M81.9 750.5H127.1M36.7 751.5H81.9M127.1 751.5H172.3M443.6 751.5H488.8M36.7 753.5H81.9M172.3 753.5H217.5M127.1 754.5H172.3M217.5 754.5H262.7M534 754.5H579.2M353.2 755.5H398.4M443.6 755.5H488.8M714.8 755.5H760M307.9 756.5H353.2M579.2 756.5H624.4M760 756.5H805.2M353.2 757.5H443.6M534 757.5H579.2M36.7 758.5H81.9M353.2 758.5H398.4M850.5 758.5H895.7M262.7 759.5H353.2M217.5 760.5H262.7M307.9 760.5H353.2M488.8 760.5H534M36.7 762.5H81.9M81.9 763.5H172.3M217.5 763.5H262.7M398.4 763.5H488.8M127.1 764.5H172.3M307.9 764.5H353.2M443.6 764.5H488.8M36.7 765.5H81.9M217.5 765.5H307.9M172.3 766.5H217.5M262.7 766.5H353.2M262.7 767.5H307.9M443.6 767.5H488.8M307.9 768.5H353.2M488.8 769.5H534M624.4 770.5H669.6M805.2 770.5H850.5M262.7 772.5H307.9M353.2 772.5H398.4M534 772.5H579.2M172.3 773.5H217.5M307.9 773.5H353.2M398.4 773.5H443.6M534 773.5H579.2M127.1 774.5H172.3M443.6 774.5H488.8M669.6 777.5H760M36.7 778.5H217.5M307.9 778.5H353.2M398.4 778.5H443.6M714.8 778.5H760M81.9 779.5H217.5M262.7 779.5H353.2M488.8 779.5H534M127.1 780.5H172.3M217.5 781.5H262.7M443.6 781.5H488.8M36.7 782.5H81.9M262.7 782.5H307.9M36.7 783.5H81.9M127.1 783.5H172.3M443.6 783.5H488.8M81.9 785.5H127.1M127.1 786.5H172.3M353.2 786.5H398.4M443.6 786.5H488.8M488.8 792.5H534M579.2 792.5H624.4M805.2 792.5H850.5M1076.5 792.5H1121.7M81.9 793.5H172.3M262.7 794.5H307.9M624.4 797.5H669.6M714.8 797.5H805.2M850.5 797.5H895.7M1031.3 797.5H1076.5M307.9 802.5H353.2M534 802.5H579.2M624.4 802.5H669.6M172.3 803.5H217.5M353.2 803.5H398.4M488.8 803.5H534M669.6 803.5H714.8M760 803.5H805.2M1076.5 803.5H1121.7M579.2 805.5H624.4M669.6 805.5H714.8M986.1 805.5H1031.3M36.7 808.5H81.9M262.7 808.5H307.9M398.4 808.5H488.8M262.7 809.5H353.2M534 809.5H579.2M36.7 810.5H127.1M262.7 810.5H307.9M398.4 810.5H443.6M353.2 811.5H398.4M669.6 811.5H714.8M760 811.5H850.5M940.9 811.5H1031.3M36.7 812.5H81.9M307.9 812.5H353.2M36.7 813.5H81.9M127.1 813.5H172.3M353.2 813.5H398.4M488.8 813.5H534M1076.5 813.5H1121.7M127.1 814.5H172.3M443.6 814.5H488.8M262.7 815.5H307.9M850.5 815.5H895.7M262.7 816.5H307.9M579.2 816.5H624.4M805.2 816.5H850.5M624.4 817.5H760M940.9 817.5H986.1M669.6 818.5H714.8M81.9 819.5H262.7M127.1 820.5H172.3M36.7 822.5H127.1M579.2 822.5H624.4M940.9 822.5H1031.3M36.7 823.5H127.1M262.7 823.5H307.9M353.2 823.5H398.4M534 823.5H579.2M624.4 823.5H669.6M986.1 823.5H1031.3M127.1 824.5H172.3M307.9 824.5H353.2M443.6 824.5H488.8M579.2 824.5H624.4M714.8 825.5H760M81.9 826.5H127.1M172.3 826.5H307.9M534 826.5H579.2M850.5 826.5H895.7M1031.3 826.5H1076.5M262.7 827.5H307.9M36.7 828.5H81.9M307.9 828.5H353.2M443.6 828.5H534M262.7 829.5H307.9M579.2 829.5H624.4M217.5 830.5H262.7M398.4 831.5H443.6M488.8 831.5H534M624.4 831.5H669.6M850.5 831.5H895.7M81.9 832.5H127.1M262.7 832.5H353.2M579.2 832.5H669.6M895.7 832.5H940.9M1076.5 832.5H1121.7M81.9 834.5H127.1M307.9 834.5H353.2M172.3 835.5H217.5M262.7 835.5H307.9M488.8 835.5H534M127.1 837.5H172.3M36.7 838.5H81.9M172.3 838.5H217.5M353.2 838.5H443.6M534 838.5H579.2M669.6 838.5H714.8M81.9 839.5H127.1M624.4 839.5H669.6M850.5 839.5H895.7M940.9 839.5H986.1M127.1 840.5H353.2M36.7 841.5H81.9M172.3 841.5H217.5M398.4 841.5H443.6M488.8 841.5H534M1031.3 841.5H1076.5M262.7 842.5H307.9M488.8 842.5H579.2M850.5 842.5H940.9M986.1 842.5H1031.3M714.8 843.5H760M307.9 845.5H398.4M624.4 845.5H669.6M262.7 846.5H307.9M624.4 846.5H714.8M760 846.5H850.5M353.2 847.5H398.4M443.6 847.5H534M579.2 847.5H624.4M895.7 847.5H940.9M986.1 847.5H1031.3M81.9 848.5H172.3M488.8 848.5H534M217.5 849.5H262.7M624.4 849.5H669.6M714.8 850.5H760M805.2 850.5H895.7M36.7 852.5H127.1M353.2 852.5H398.4M579.2 852.5H669.6M714.8 852.5H760M895.7 852.5H940.9M986.1 852.5H1031.3M669.6 856.5H714.8M127.1 857.5H172.3M217.5 857.5H307.9M398.4 857.5H534M714.8 859.5H760M81.9 860.5H127.1M353.2 860.5H398.4M534 860.5H579.2M488.8 861.5H579.2M307.9 865.5H353.2M127.1 867.5H217.5M353.2 867.5H398.4M488.8 867.5H534M127.1 868.5H172.3M534 868.5H579.2M127.1 871.5H172.3M262.7 871.5H307.9M488.8 871.5H534M353.2 872.5H398.4M127.1 873.5H172.3M262.7 873.5H307.9M488.8 873.5H534M307.9 875.5H353.2M172.3 879.5H217.5M443.6 879.5H488.8M534 880.5H579.2M262.7 881.5H307.9M353.2 881.5H398.4M262.7 883.5H307.9M353.2 883.5H398.4M36.7 884.5H127.1M172.3 884.5H217.5M307.9 884.5H353.2M398.4 884.5H443.6M488.8 884.5H579.2M81.9 885.5H217.5M398.4 888.5H534M36.7 889.5H81.9M172.3 889.5H217.5M307.9 889.5H353.2M172.3 891.5H217.5M36.7 892.5H81.9M127.1 892.5H172.3M217.5 892.5H262.7M307.9 892.5H353.2M127.1 894.5H172.3M443.6 894.5H488.8M714.8 894.5H760M81.9 895.5H172.3M307.9 895.5H353.2M127.1 896.5H172.3M353.2 896.5H398.4M534 896.5H579.2M127.1 897.5H172.3M217.5 897.5H262.7M307.9 898.5H353.2M488.8 900.5H534M36.7 901.5H81.9M127.1 901.5H172.3M262.7 901.5H307.9M353.2 901.5H398.4M443.6 901.5H488.8M127.1 902.5H172.3M81.9 903.5H127.1M172.3 903.5H217.5M398.4 903.5H443.6M534 903.5H579.2M36.7 904.5H127.1M398.4 904.5H443.6M217.5 905.5H262.7M307.9 905.5H534M307.9 906.5H353.2M81.9 907.5H172.3M398.4 907.5H443.6M443.6 908.5H488.8M217.5 910.5H262.7M307.9 910.5H398.4M172.3 911.5H217.5M262.7 911.5H353.2M36.7 914.5H81.9M262.7 914.5H307.9M353.2 914.5H398.4M488.8 914.5H534M36.7 916.5H127.1M353.2 916.5H398.4M36.7 917.5H127.1M262.7 917.5H307.9M398.4 917.5H488.8M534 917.5H579.2M805.2 917.5H850.5M1031.3 917.5H1076.5M1076.5 920.5H1121.7M579.2 921.5H624.4M669.6 921.5H714.8M1031.3 921.5H1076.5M760 922.5H805.2M579.2 923.5H624.4M669.6 923.5H760M895.7 924.5H940.9M986.1 924.5H1076.5M624.4 925.5H714.8M850.5 925.5H895.7M986.1 925.5H1031.3M624.4 926.5H669.6M986.1 927.5H1031.3M760 928.5H805.2M895.7 928.5H940.9M940.9 930.5H986.1M714.8 931.5H760M1031.3 931.5H1076.5M579.2 932.5H624.4M895.7 932.5H986.1M579.2 933.5H624.4M850.5 933.5H895.7M986.1 934.5H1031.3M624.4 935.5H669.6M760 935.5H805.2M714.8 936.5H805.2M850.5 937.5H940.9M986.1 937.5H1076.5M1076.5 938.5H1121.7M895.7 941.5H940.9M986.1 942.5H1031.3M1076.5 942.5H1121.7M986.1 943.5H1031.3M579.2 945.5H624.4M1031.3 945.5H1076.5M1076.5 946.5H1121.7M714.8 947.5H760M714.8 948.5H760M805.2 948.5H850.5M895.7 948.5H940.9M986.1 948.5H1031.3M1076.5 948.5H1121.7M579.2 952.5H624.4M850.5 952.5H895.7M940.9 952.5H986.1M1031.3 952.5H1076.5M850.5 953.5H895.7M940.9 953.5H1031.3M1076.5 953.5H1121.7M669.6 954.5H714.8M579.2 955.5H624.4M760 955.5H805.2M714.8 965.5H760M986.1 965.5H1031.3M986.1 966.5H1031.3M579.2 967.5H624.4M940.9 967.5H986.1M624.4 968.5H669.6M805.2 968.5H895.7M1031.3 968.5H1121.7M262.7 971.5H307.9M36.7 973.5H81.9M443.6 973.5H579.2M850.5 973.5H895.7M1031.3 973.5H1076.5M127.1 974.5H172.3M398.4 974.5H488.8M81.9 975.5H217.5M262.7 975.5H307.9M534 975.5H624.4M714.8 975.5H760M805.2 975.5H850.5M624.4 976.5H669.6M579.2 977.5H669.6M805.2 977.5H850.5M1031.3 977.5H1121.7M398.4 978.5H443.6M805.2 978.5H850.5M81.9 979.5H172.3M262.7 979.5H307.9M353.2 979.5H443.6M579.2 979.5H669.6M850.5 979.5H895.7M940.9 979.5H986.1M1031.3 979.5H1076.5M81.9 982.5H127.1M262.7 982.5H353.2M534 982.5H579.2M127.1 993.5H217.5M669.6 1011.5H760M805.2 1011.5H850.5M895.7 1011.5H940.9M986.1 1011.5H1031.3M1076.5 1011.5H1121.7M579.2 1013.5H624.4M714.8 1013.5H760M81.9 1014.5H127.1M172.3 1014.5H217.5M307.9 1014.5H353.2M488.8 1014.5H579.2M805.2 1014.5H850.5M940.9 1014.5H986.1M1076.5 1014.5H1121.7M172.3 1015.5H217.5M307.9 1015.5H353.2M81.9 1016.5H127.1M172.3 1016.5H217.5M307.9 1016.5H353.2M488.8 1016.5H534M760 1016.5H805.2M850.5 1016.5H895.7M307.9 1017.5H398.4M624.4 1017.5H669.6M805.2 1017.5H895.7M1076.5 1017.5H1121.7M262.7 1018.5H307.9M986.1 1023.5H1031.3M624.4 1025.5H669.6M36.7 1026.5H81.9M443.6 1026.5H488.8M172.3 1027.5H217.5M1031.3 1027.5H1076.5M624.4 1028.5H669.6M805.2 1028.5H850.5M172.3 1029.5H217.5M353.2 1029.5H398.4M443.6 1029.5H488.8M805.2 1029.5H895.7M1031.3 1029.5H1076.5M624.4 1031.5H669.6M850.5 1031.5H895.7M940.9 1031.5H986.1M36.7 1033.5H81.9M443.6 1033.5H534M714.8 1034.5H760M624.4 1035.5H669.6M805.2 1035.5H850.5M760 1036.5H805.2M850.5 1036.5H895.7M940.9 1036.5H986.1M127.1 1037.5H172.3M262.7 1037.5H307.9M488.8 1037.5H534M1031.3 1038.5H1076.5M714.8 1043.5H805.2M850.5 1043.5H895.7M760 1045.5H805.2M714.8 1056.5H760M805.2 1056.5H940.9M714.8 1057.5H760M895.7 1057.5H940.9M895.7 1058.5H940.9M714.8 1059.5H760M624.4 1065.5H669.6M669.6 1067.5H714.8M805.2 1067.5H850.5M579.2 1068.5H624.4M714.8 1068.5H760M850.5 1068.5H940.9M986.1 1068.5H1031.3M1076.5 1068.5H1121.7M940.9 1069.5H986.1M1076.5 1069.5H1121.7M850.5 1070.5H895.7M579.2 1073.5H624.4M760 1073.5H850.5M895.7 1073.5H940.9M760 1074.5H805.2M850.5 1074.5H895.7M1031.3 1074.5H1076.5M579.2 1076.5H669.6M850.5 1076.5H940.9M579.2 1078.5H624.4M669.6 1078.5H714.8M760 1078.5H805.2M579.2 1079.5H624.4M760 1079.5H805.2M895.7 1079.5H986.1M1031.3 1079.5H1076.5M760 1080.5H805.2M1076.5 1081.5H1121.7M624.4 1082.5H669.6M986.1 1082.5H1031.3M1076.5 1082.5H1121.7M669.6 1083.5H714.8M1031.3 1083.5H1076.5M1031.3 1084.5H1076.5M81.9 1100.5H172.3M398.4 1100.5H443.6M760 1100.5H805.2M353.2 1101.5H398.4M986.1 1101.5H1031.3M353.2 1102.5H398.4M579.2 1102.5H624.4M669.6 1102.5H714.8M805.2 1102.5H895.7M172.3 1103.5H217.5M262.7 1103.5H307.9M353.2 1103.5H398.4M579.2 1103.5H624.4M895.7 1103.5H940.9M36.7 1104.5H81.9M353.2 1104.5H488.8M36.7 1105.5H81.9M398.4 1105.5H488.8M714.8 1105.5H760M1031.3 1105.5H1076.5M127.1 1106.5H172.3M488.8 1106.5H534M81.9 1107.5H127.1M262.7 1107.5H307.9M353.2 1107.5H398.4M443.6 1107.5H488.8M940.9 1107.5H986.1M1076.5 1107.5H1121.7M172.3 1108.5H217.5M353.2 1108.5H398.4M579.2 1108.5H624.4M669.6 1108.5H714.8M760 1108.5H805.2M895.7 1108.5H940.9M307.9 1109.5H353.2M81.9 1110.5H127.1M217.5 1110.5H262.7M398.4 1110.5H443.6M805.2 1110.5H850.5M624.4 1111.5H669.6M805.2 1111.5H895.7M579.2 1112.5H624.4M669.6 1112.5H714.8M895.7 1112.5H940.9M624.4 1113.5H669.6M850.5 1113.5H986.1M217.5 1114.5H262.7M81.9 1115.5H127.1M172.3 1115.5H217.5M398.4 1115.5H443.6M534 1115.5H579.2M36.7 1116.5H81.9M488.8 1116.5H534M624.4 1116.5H669.6M534 1117.5H579.2M669.6 1117.5H714.8M895.7 1117.5H940.9M669.6 1120.5H714.8M36.7 1122.5H81.9M624.4 1122.5H669.6M760 1122.5H850.5M895.7 1122.5H986.1M81.9 1123.5H217.5M307.9 1123.5H398.4M488.8 1123.5H534M624.4 1123.5H669.6M714.8 1123.5H805.2M895.7 1123.5H940.9M1076.5 1123.5H1121.7M262.7 1124.5H353.2M443.6 1124.5H488.8M579.2 1124.5H624.4M714.8 1125.5H760M895.7 1125.5H940.9M579.2 1126.5H624.4M850.5 1126.5H895.7M36.7 1127.5H81.9M127.1 1127.5H172.3M81.9 1128.5H127.1M217.5 1128.5H262.7M307.9 1128.5H398.4M443.6 1128.5H488.8M579.2 1128.5H624.4M760 1128.5H850.5M986.1 1128.5H1031.3M127.1 1129.5H172.3M398.4 1129.5H443.6M940.9 1129.5H986.1M172.3 1130.5H262.7M307.9 1130.5H398.4M579.2 1130.5H624.4M1031.3 1130.5H1076.5M81.9 1131.5H127.1M398.4 1131.5H443.6M624.4 1131.5H669.6M172.3 1132.5H217.5M579.2 1132.5H624.4M940.9 1132.5H986.1M172.3 1133.5H217.5M624.4 1134.5H669.6M714.8 1134.5H805.2M850.5 1134.5H895.7M986.1 1134.5H1031.3M669.6 1135.5H714.8M895.7 1135.5H940.9M488.8 1136.5H534M579.2 1136.5H624.4M805.2 1136.5H850.5M986.1 1136.5H1031.3M172.3 1137.5H217.5M353.2 1137.5H398.4M534 1137.5H579.2M760 1137.5H805.2M36.7 1138.5H127.1M307.9 1138.5H353.2M443.6 1138.5H488.8M805.2 1138.5H850.5M986.1 1138.5H1121.7M714.8 1140.5H850.5M986.1 1140.5H1031.3M850.5 1141.5H940.9M895.7 1142.5H940.9M986.1 1142.5H1031.3M805.2 1143.5H850.5M895.7 1143.5H986.1M624.4 1144.5H669.6M714.8 1144.5H805.2M760 1145.5H805.2M850.5 1145.5H940.9M986.1 1145.5H1031.3M624.4 1147.5H669.6M850.5 1147.5H895.7M805.2 1148.5H986.1M81.9 1149.5H127.1M217.5 1149.5H262.7M307.9 1149.5H353.2M398.4 1149.5H443.6M488.8 1149.5H534M579.2 1150.5H669.6M805.2 1150.5H850.5M940.9 1150.5H986.1M262.7 1151.5H307.9M443.6 1151.5H488.8M579.2 1151.5H624.4M36.7 1152.5H127.1M172.3 1152.5H217.5M307.9 1152.5H353.2M36.7 1161.5H81.9M262.7 1161.5H307.9M36.7 1162.5H172.3M307.9 1162.5H353.2M488.8 1163.5H534M398.4 1164.5H443.6M127.1 1165.5H172.3M307.9 1165.5H398.4M127.1 1166.5H172.3M534 1167.5H579.2M36.7 1168.5H127.1M36.7 1169.5H81.9M172.3 1169.5H217.5M307.9 1169.5H398.4M443.6 1169.5H488.8M36.7 1171.5H81.9M353.2 1179.5H398.4M534 1184.5H579.2M262.7 1186.5H307.9M353.2 1186.5H398.4M534 1186.5H579.2M262.7 1187.5H443.6M534 1189.5H579.2M488.8 1194.5H534M217.5 1195.5H262.7M488.8 1195.5H624.4M760 1195.5H805.2M940.9 1195.5H986.1M1031.3 1195.5H1076.5M669.6 1196.5H714.8M760 1196.5H850.5M895.7 1196.5H940.9M1031.3 1196.5H1076.5M579.2 1197.5H624.4M895.7 1197.5H940.9M1031.3 1197.5H1076.5M172.3 1198.5H217.5M36.7 1199.5H81.9M172.3 1199.5H262.7M307.9 1199.5H353.2M172.3 1201.5H262.7M443.6 1201.5H488.8M534 1201.5H579.2M36.7 1203.5H81.9M172.3 1203.5H217.5M307.9 1203.5H353.2M443.6 1203.5H579.2M217.5 1207.5H307.9M398.4 1207.5H443.6M488.8 1207.5H534M36.7 1208.5H81.9M398.4 1208.5H443.6M1076.5 1212.5H1121.7M1076.5 1213.5H1121.7M669.6 1217.5H714.8M669.6 1221.5H714.8M940.9 1221.5H986.1M36.7 1222.5H81.9M127.1 1222.5H217.5M127.1 1223.5H217.5M262.7 1223.5H307.9M398.4 1223.5H443.6M624.4 1223.5H760M36.7 1224.5H81.9M805.2 1224.5H850.5M307.9 1225.5H488.8M579.2 1225.5H624.4M1031.3 1225.5H1076.5M36.7 1226.5H81.9M262.7 1226.5H307.9M398.4 1226.5H443.6M217.5 1227.5H262.7M443.6 1227.5H488.8M669.6 1227.5H714.8M81.9 1228.5H127.1M172.3 1228.5H217.5M488.8 1228.5H534M579.2 1228.5H714.8M805.2 1228.5H850.5M940.9 1228.5H1031.3M36.7 1231.5H81.9M172.3 1231.5H217.5M307.9 1231.5H353.2M534 1231.5H579.2M172.3 1232.5H217.5M353.2 1232.5H398.4M579.2 1232.5H624.4M760 1232.5H805.2M986.1 1232.5H1121.7M669.6 1233.5H714.8M805.2 1233.5H850.5M986.1 1233.5H1031.3M1076.5 1233.5H1121.7"/>
<path stroke="#8080ff" d="M172.3 380.5H262.7M127.1 381.5H172.3M353.2 381.5H443.6M262.7 382.5H353.2M443.6 382.5H579.2M81.9 383.5H127.1M217.5 383.5H307.9M488.8 383.5H534M36.7 384.5H81.9M172.3 384.5H307.9M488.8 384.5H534M36.7 385.5H81.9M398.4 385.5H443.6M488.8 385.5H534M81.9 389.5H127.1M398.4 389.5H443.6M217.5 400.5H262.7M488.8 400.5H534M172.3 401.5H262.7M81.9 403.5H127.1M262.7 406.5H307.9M443.6 406.5H488.8M534 406.5H579.2M443.6 407.5H488.8M262.7 409.5H307.9M353.2 409.5H443.6M36.7 410.5H127.1M172.3 410.5H217.5M262.7 410.5H307.9M488.8 411.5H534M36.7 412.5H81.9M217.5 412.5H262.7M353.2 412.5H398.4M217.5 413.5H262.7M353.2 413.5H443.6M127.1 414.5H172.3M172.3 415.5H217.5M36.7 416.5H127.1M172.3 416.5H217.5M262.7 416.5H307.9M534 416.5H579.2M353.2 418.5H398.4M36.7 420.5H172.3M307.9 420.5H353.2M443.6 420.5H488.8M534 420.5H579.2M262.7 421.5H307.9M488.8 421.5H534M353.2 422.5H398.4M262.7 426.5H307.9M353.2 426.5H398.4M262.7 427.5H353.2M443.6 427.5H488.8M36.7 432.5H81.9M127.1 434.5H217.5M81.9 435.5H127.1M398.4 435.5H443.6M488.8 435.5H534M262.7 436.5H307.9M36.7 438.5H81.9M127.1 438.5H172.3M36.7 439.5H81.9M217.5 439.5H262.7M36.7 441.5H81.9M398.4 441.5H488.8M262.7 442.5H307.9M443.6 442.5H534M262.7 443.5H307.9M398.4 443.5H443.6M488.8 443.5H534M579.2 443.5H624.4M1076.5 443.5H1121.7M850.5 445.5H895.7M714.8 446.5H760M579.2 447.5H624.4M760 447.5H805.2M940.9 447.5H986.1M669.6 448.5H714.8M760 448.5H850.5M850.5 451.5H940.9M1076.5 451.5H1121.7M579.2 452.5H624.4M714.8 452.5H760M805.2 452.5H850.5M624.4 453.5H669.6M805.2 456.5H850.5M986.1 456.5H1031.3M624.4 459.5H669.6M986.1 459.5H1031.3M624.4 460.5H669.6M850.5 460.5H895.7M1076.5 461.5H1121.7M760 462.5H805.2M940.9 463.5H986.1M1076.5 463.5H1121.7M850.5 464.5H895.7M579.2 465.5H624.4M805.2 465.5H895.7M986.1 465.5H1031.3M1076.5 465.5H1121.7M624.4 466.5H669.6M805.2 466.5H850.5M986.1 466.5H1031.3M624.4 467.5H669.6M850.5 467.5H895.7M805.2 468.5H850.5M940.9 468.5H986.1M1076.5 468.5H1121.7M624.4 470.5H669.6M714.8 470.5H805.2M850.5 470.5H895.7M1031.3 470.5H1121.7M1031.3 471.5H1076.5M895.7 475.5H940.9M624.4 476.5H669.6M714.8 477.5H760M579.2 481.5H624.4M850.5 481.5H895.7M669.6 483.5H714.8M850.5 483.5H895.7M669.6 485.5H714.8M805.2 485.5H850.5M1031.3 485.5H1121.7M624.4 488.5H669.6M579.2 490.5H624.4M805.2 490.5H895.7M940.9 491.5H986.1M760 492.5H805.2M986.1 492.5H1031.3M624.4 493.5H714.8M986.1 493.5H1031.3M624.4 495.5H669.6M760 495.5H805.2M1076.5 495.5H1121.7M1076.5 496.5H1121.7M579.2 499.5H624.4M669.6 499.5H714.8M760 499.5H805.2M1076.5 499.5H1121.7M669.6 501.5H714.8M760 501.5H805.2M760 503.5H805.2M624.4 504.5H669.6M714.8 504.5H760M895.7 504.5H986.1M669.6 505.5H714.8M714.8 506.5H760M850.5 506.5H940.9M1076.5 506.5H1121.7M669.6 508.5H760M850.5 508.5H895.7M986.1 508.5H1031.3M36.7 513.5H172.3M353.2 513.5H579.2M534 514.5H579.2M579.2 669.5H624.4M760 669.5H850.5M1031.3 669.5H1121.7M669.6 671.5H714.8M760 671.5H850.5M579.2 672.5H624.4M669.6 672.5H714.8M986.1 672.5H1031.3M307.9 673.5H443.6M534 673.5H579.2M1076.5 673.5H1121.7M36.7 674.5H81.9M172.3 674.5H262.7M534 674.5H579.2M217.5 676.5H262.7M488.8 676.5H579.2M81.9 678.5H127.1M443.6 678.5H488.8M940.9 678.5H986.1M579.2 679.5H624.4M669.6 679.5H714.8M1076.5 679.5H1121.7M398.4 680.5H443.6M850.5 680.5H940.9M714.8 681.5H760M81.9 682.5H172.3M217.5 682.5H307.9M534 682.5H579.2M669.6 682.5H714.8M805.2 682.5H850.5M895.7 682.5H940.9M1076.5 682.5H1121.7M81.9 684.5H127.1M534 684.5H579.2M36.7 685.5H81.9M217.5 685.5H307.9M353.2 685.5H398.4M443.6 685.5H488.8M36.7 686.5H81.9M488.8 686.5H534M127.1 687.5H217.5M398.4 687.5H443.6M624.4 687.5H714.8M850.5 687.5H895.7M353.2 688.5H398.4M624.4 688.5H669.6M805.2 688.5H850.5M398.4 690.5H443.6M986.1 690.5H1031.3M36.7 691.5H81.9M127.1 692.5H172.3M488.8 692.5H579.2M895.7 693.5H940.9M81.9 694.5H172.3M353.2 694.5H398.4M443.6 694.5H488.8M624.4 694.5H669.6M986.1 694.5H1031.3M81.9 695.5H127.1M262.7 696.5H307.9M534 696.5H579.2M850.5 698.5H895.7M624.4 699.5H669.6M624.4 700.5H669.6M940.9 700.5H1031.3M127.1 701.5H172.3M624.4 701.5H669.6M81.9 702.5H172.3M353.2 702.5H443.6M579.2 702.5H624.4M36.7 703.5H81.9M36.7 704.5H81.9M760 704.5H805.2M850.5 704.5H895.7M940.9 704.5H986.1M217.5 705.5H262.7M669.6 705.5H714.8M805.2 705.5H850.5M1031.3 705.5H1076.5M262.7 706.5H307.9M488.8 706.5H534M760 706.5H850.5M940.9 706.5H986.1M1076.5 706.5H1121.7M1076.5 707.5H1121.7M36.7 708.5H81.9M579.2 708.5H669.6M36.7 709.5H81.9M307.9 709.5H353.2M127.1 710.5H172.3M217.5 710.5H307.9M443.6 710.5H488.8M940.9 710.5H986.1M172.3 711.5H217.5M534 711.5H579.2M669.6 711.5H714.8M895.7 711.5H1031.3M579.2 712.5H624.4M805.2 712.5H850.5M986.1 713.5H1031.3M1076.5 714.5H1121.7M81.9 715.5H127.1M127.1 716.5H172.3M217.5 716.5H262.7M488.8 716.5H534M579.2 716.5H624.4M714.8 716.5H760M805.2 716.5H850.5M1031.3 716.5H1076.5M714.8 717.5H760M850.5 717.5H895.7M172.3 718.5H217.5M579.2 718.5H624.4M895.7 718.5H940.9M986.1 718.5H1031.3M579.2 719.5H624.4M714.8 719.5H760M850.5 719.5H895.7M986.1 719.5H1031.3M307.9 720.5H443.6M488.8 720.5H534M669.6 720.5H760M895.7 720.5H940.9M1076.5 720.5H1121.7M262.7 722.5H353.2M172.3 723.5H217.5M262.7 723.5H307.9M127.1 725.5H172.3M262.7 725.5H307.9M940.9 725.5H986.1M36.7 726.5H81.9M172.3 726.5H217.5M262.7 726.5H307.9M353.2 726.5H398.4M1076.5 726.5H1121.7M805.2 727.5H850.5M262.7 729.5H307.9M534 729.5H579.2M127.1 730.5H172.3M850.5 730.5H895.7M940.9 730.5H986.1M1031.3 731.5H1076.5M488.8 732.5H534M669.6 732.5H714.8M353.2 733.5H398.4M488.8 733.5H534M262.7 737.5H307.9M172.3 739.5H217.5M262.7 739.5H398.4M805.2 739.5H895.7M398.4 740.5H534M36.7 741.5H127.1M353.2 741.5H398.4M488.8 741.5H534M669.6 741.5H714.8M850.5 741.5H895.7M940.9 741.5H986.1M1031.3 741.5H1076.5M127.1 742.5H217.5M353.2 742.5H398.4M443.6 742.5H488.8M579.2 742.5H669.6M714.8 742.5H805.2M895.7 742.5H940.9M36.7 743.5H81.9M488.8 743.5H534M217.5 744.5H262.7M443.6 744.5H488.8M624.4 744.5H669.6M262.7 745.5H353.2M398.4 745.5H443.6M488.8 745.5H534M624.4 745.5H714.8M805.2 745.5H850.5M986.1 745.5H1031.3M1076.5 745.5H1121.7M36.7 746.5H81.9M127.1 746.5H172.3M443.6 746.5H488.8M398.4 747.5H443.6M579.2 747.5H624.4M805.2 747.5H850.5M1031.3 747.5H1121.7M36.7 748.5H81.9M127.1 748.5H172.3M217.5 748.5H307.9M488.8 748.5H534M805.2 749.5H895.7M940.9 749.5H1076.5M669.6 750.5H714.8M760 750.5H805.2M986.1 750.5H1031.3M81.9 751.5H127.1M307.9 751.5H353.2M760 751.5H805.2M262.7 752.5H353.2M398.4 752.5H443.6M760 752.5H805.2M262.7 753.5H353.2M398.4 753.5H443.6M36.7 754.5H81.9M172.3 754.5H217.5M262.7 754.5H307.9M398.4 754.5H443.6M488.8 754.5H534M36.7 755.5H172.3M217.5 755.5H307.9M534 755.5H579.2M760 755.5H850.5M669.6 756.5H760M805.2 756.5H940.9M1076.5 756.5H1121.7M81.9 757.5H127.1M443.6 757.5H534M624.4 757.5H669.6M714.8 757.5H760M81.9 758.5H217.5M262.7 758.5H353.2M488.8 758.5H579.2M669.6 758.5H714.8M760 758.5H850.5M895.7 758.5H1031.3M714.8 759.5H760M36.7 760.5H127.1M353.2 760.5H398.4M534 760.5H579.2M624.4 761.5H669.6M714.8 761.5H760M850.5 761.5H895.7M1031.3 761.5H1076.5M81.9 762.5H127.1M172.3 762.5H262.7M307.9 762.5H398.4M534 762.5H579.2M307.9 763.5H353.2M488.8 764.5H534M127.1 765.5H217.5M307.9 765.5H353.2M443.6 765.5H488.8M534 765.5H579.2M81.9 766.5H127.1M398.4 766.5H443.6M307.9 767.5H398.4M624.4 769.5H669.6M986.1 769.5H1031.3M579.2 770.5H624.4M669.6 770.5H714.8M850.5 770.5H895.7M986.1 770.5H1031.3M624.4 771.5H669.6M81.9 772.5H217.5M307.9 772.5H353.2M488.8 772.5H534M36.7 773.5H127.1M36.7 774.5H127.1M172.3 774.5H217.5M398.4 774.5H443.6M488.8 774.5H534M669.6 776.5H714.8M895.7 776.5H940.9M579.2 777.5H624.4M760 777.5H850.5M940.9 777.5H986.1M669.6 778.5H714.8M805.2 778.5H850.5M986.1 778.5H1031.3M36.7 780.5H127.1M172.3 780.5H217.5M534 781.5H579.2M81.9 782.5H127.1M172.3 782.5H217.5M172.3 783.5H217.5M127.1 784.5H172.3M217.5 784.5H307.9M488.8 784.5H534M262.7 785.5H307.9M443.6 785.5H488.8M805.2 785.5H850.5M172.3 786.5H262.7M262.7 787.5H353.2M443.6 787.5H488.8M850.5 788.5H895.7M940.9 788.5H1031.3M940.9 789.5H1031.3M36.7 792.5H172.3M307.9 792.5H353.2M850.5 792.5H895.7M986.1 792.5H1076.5M36.7 793.5H81.9M172.3 793.5H217.5M307.9 793.5H353.2M488.8 793.5H579.2M127.1 794.5H217.5M398.4 794.5H443.6M1076.5 797.5H1121.7M534 798.5H579.2M353.2 801.5H398.4M172.3 802.5H217.5M36.7 803.5H81.9M398.4 803.5H443.6M534 803.5H624.4M714.8 803.5H760M986.1 803.5H1076.5M353.2 804.5H398.4M895.7 805.5H940.9M81.9 808.5H127.1M36.7 809.5H81.9M127.1 809.5H217.5M398.4 809.5H488.8M127.1 810.5H172.3M443.6 810.5H488.8M127.1 811.5H172.3M398.4 811.5H443.6M579.2 811.5H669.6M714.8 811.5H760M217.5 813.5H262.7M398.4 813.5H443.6M81.9 814.5H127.1M217.5 814.5H262.7M398.4 814.5H443.6M534 814.5H579.2M579.2 815.5H624.4M307.9 816.5H353.2M895.7 816.5H940.9M986.1 816.5H1031.3M36.7 817.5H81.9M217.5 817.5H262.7M398.4 817.5H579.2M353.2 819.5H398.4M443.6 819.5H488.8M307.9 820.5H353.2M172.3 822.5H217.5M307.9 822.5H353.2M398.4 822.5H488.8M714.8 822.5H760M127.1 823.5H172.3M443.6 823.5H534M36.7 824.5H127.1M398.4 824.5H443.6M488.8 824.5H579.2M307.9 825.5H353.2M669.6 825.5H714.8M353.2 826.5H398.4M443.6 826.5H534M81.9 827.5H172.3M307.9 827.5H353.2M398.4 827.5H443.6M488.8 827.5H579.2M81.9 828.5H172.3M398.4 828.5H443.6M534 828.5H579.2M669.6 828.5H714.8M36.7 829.5H81.9M127.1 829.5H217.5M443.6 829.5H488.8M353.2 830.5H398.4M36.7 831.5H127.1M217.5 831.5H398.4M534 831.5H579.2M36.7 832.5H81.9M127.1 832.5H172.3M217.5 832.5H262.7M353.2 832.5H443.6M850.5 832.5H895.7M217.5 834.5H262.7M81.9 835.5H127.1M307.9 835.5H353.2M443.6 835.5H488.8M36.7 837.5H81.9M579.2 839.5H624.4M986.1 839.5H1031.3M36.7 840.5H81.9M488.8 840.5H534M579.2 840.5H624.4M714.8 840.5H940.9M81.9 841.5H127.1M36.7 842.5H172.3M307.9 842.5H353.2M624.4 842.5H760M940.9 842.5H986.1M1076.5 842.5H1121.7M624.4 843.5H669.6M940.9 843.5H986.1M1076.5 843.5H1121.7M579.2 844.5H624.4M760 844.5H805.2M217.5 845.5H262.7M398.4 845.5H443.6M579.2 845.5H624.4M760 845.5H805.2M986.1 845.5H1031.3M940.9 846.5H986.1M1031.3 846.5H1076.5M36.7 847.5H81.9M127.1 847.5H172.3M262.7 847.5H353.2M669.6 847.5H760M805.2 847.5H850.5M940.9 847.5H986.1M36.7 848.5H81.9M262.7 848.5H353.2M443.6 848.5H488.8M714.8 848.5H850.5M669.6 849.5H714.8M940.9 849.5H986.1M579.2 850.5H624.4M940.9 850.5H1031.3M579.2 851.5H624.4M127.1 852.5H172.3M217.5 852.5H307.9M443.6 852.5H534M760 852.5H805.2M940.9 852.5H986.1M1076.5 852.5H1121.7M217.5 860.5H307.9M443.6 860.5H488.8M172.3 861.5H217.5M443.6 861.5H488.8M217.5 867.5H262.7M172.3 868.5H217.5M262.7 872.5H307.9M443.6 875.5H488.8M307.9 880.5H353.2M81.9 883.5H127.1M172.3 883.5H217.5M398.4 883.5H443.6M36.7 888.5H81.9M307.9 888.5H398.4M81.9 892.5H127.1M81.9 893.5H127.1M172.3 894.5H217.5M307.9 894.5H353.2M172.3 895.5H217.5M534 895.5H579.2M81.9 896.5H127.1M81.9 897.5H127.1M172.3 897.5H217.5M353.2 897.5H398.4M443.6 897.5H488.8M534 898.5H579.2M36.7 900.5H172.3M307.9 900.5H398.4M534 900.5H579.2M217.5 901.5H262.7M398.4 901.5H443.6M443.6 903.5H534M127.1 904.5H217.5M488.8 904.5H534M36.7 905.5H127.1M262.7 905.5H307.9M534 905.5H579.2M36.7 906.5H127.1M36.7 908.5H81.9M217.5 908.5H353.2M262.7 909.5H307.9M488.8 909.5H534M36.7 910.5H127.1M262.7 910.5H307.9M398.4 910.5H534M217.5 911.5H262.7M307.9 912.5H353.2M443.6 912.5H488.8M127.1 913.5H172.3M217.5 913.5H262.7M307.9 913.5H353.2M443.6 913.5H534M81.9 914.5H172.3M307.9 915.5H353.2M443.6 915.5H488.8M127.1 916.5H217.5M262.7 916.5H307.9M398.4 916.5H443.6M488.8 916.5H534M579.2 917.5H624.4M714.8 917.5H760M895.7 917.5H986.1M940.9 920.5H986.1M624.4 923.5H669.6M850.5 923.5H940.9M579.2 925.5H624.4M805.2 925.5H850.5M579.2 926.5H624.4M579.2 928.5H624.4M669.6 928.5H714.8M579.2 930.5H624.4M714.8 930.5H760M850.5 930.5H895.7M1076.5 930.5H1121.7M895.7 931.5H940.9M1076.5 931.5H1121.7M714.8 932.5H760M850.5 932.5H895.7M986.1 932.5H1031.3M1076.5 932.5H1121.7M669.6 933.5H714.8M760 933.5H805.2M1076.5 933.5H1121.7M760 934.5H850.5M895.7 934.5H940.9M714.8 935.5H760M805.2 935.5H850.5M895.7 935.5H940.9M1031.3 935.5H1076.5M669.6 937.5H714.8M760 937.5H850.5M1031.3 938.5H1076.5M1076.5 939.5H1121.7M579.2 941.5H624.4M1076.5 941.5H1121.7M760 942.5H805.2M579.2 943.5H624.4M895.7 945.5H986.1M1076.5 945.5H1121.7M1031.3 948.5H1076.5M624.4 949.5H669.6M850.5 949.5H895.7M940.9 949.5H986.1M1031.3 949.5H1076.5M714.8 951.5H760M714.8 952.5H805.2M760 953.5H850.5M579.2 954.5H669.6M850.5 954.5H895.7M940.9 954.5H986.1M1076.5 954.5H1121.7M714.8 955.5H760M805.2 955.5H850.5M579.2 965.5H624.4M579.2 968.5H624.4M714.8 968.5H760M940.9 968.5H1031.3M217.5 971.5H262.7M398.4 971.5H443.6M534 972.5H579.2M353.2 973.5H398.4M217.5 974.5H262.7M850.5 974.5H895.7M353.2 975.5H398.4M624.4 975.5H669.6M760 975.5H805.2M534 976.5H579.2M1076.5 976.5H1121.7M579.2 978.5H624.4M850.5 978.5H895.7M1076.5 978.5H1121.7M262.7 985.5H307.9M217.5 993.5H307.9M1031.3 1011.5H1076.5M624.4 1013.5H714.8M895.7 1013.5H940.9M1031.3 1013.5H1121.7M398.4 1014.5H443.6M624.4 1014.5H669.6M714.8 1014.5H760M895.7 1014.5H940.9M81.9 1015.5H127.1M353.2 1015.5H398.4M488.8 1015.5H534M217.5 1016.5H262.7M940.9 1016.5H1031.3M1076.5 1016.5H1121.7M398.4 1017.5H443.6M488.8 1017.5H624.4M986.1 1017.5H1031.3M127.1 1018.5H172.3M760 1018.5H805.2M669.6 1023.5H714.8M850.5 1023.5H895.7M1031.3 1023.5H1121.7M172.3 1026.5H217.5M624.4 1027.5H669.6M805.2 1027.5H850.5M986.1 1027.5H1031.3M714.8 1028.5H760M81.9 1029.5H172.3M624.4 1029.5H669.6M714.8 1030.5H805.2M986.1 1031.5H1031.3M81.9 1032.5H127.1M579.2 1032.5H624.4M940.9 1035.5H1031.3M805.2 1036.5H850.5M217.5 1037.5H262.7M443.6 1037.5H488.8M940.9 1037.5H986.1M669.6 1042.5H714.8M624.4 1043.5H669.6M805.2 1043.5H850.5M895.7 1043.5H940.9M579.2 1045.5H624.4M714.8 1045.5H760M624.4 1046.5H669.6M940.9 1046.5H986.1M805.2 1058.5H850.5M1076.5 1058.5H1121.7M760 1059.5H805.2M1076.5 1059.5H1121.7M986.1 1064.5H1031.3M714.8 1065.5H760M805.2 1065.5H940.9M986.1 1065.5H1031.3M1076.5 1065.5H1121.7M940.9 1066.5H986.1M579.2 1067.5H669.6M714.8 1067.5H760M895.7 1067.5H940.9M1031.3 1067.5H1121.7M624.4 1068.5H669.6M805.2 1068.5H850.5M986.1 1069.5H1031.3M624.4 1074.5H669.6M895.7 1074.5H940.9M1076.5 1074.5H1121.7M1031.3 1075.5H1076.5M669.6 1076.5H714.8M940.9 1076.5H986.1M1076.5 1076.5H1121.7M669.6 1077.5H714.8M624.4 1078.5H669.6M714.8 1078.5H760M805.2 1078.5H850.5M895.7 1078.5H940.9M1031.3 1078.5H1121.7M624.4 1079.5H760M1076.5 1079.5H1121.7M714.8 1081.5H760M805.2 1081.5H850.5M805.2 1082.5H850.5M579.2 1083.5H624.4M1076.5 1083.5H1121.7M579.2 1084.5H624.4M895.7 1084.5H986.1M488.8 1100.5H534M624.4 1100.5H760M850.5 1100.5H895.7M1076.5 1100.5H1121.7M81.9 1101.5H127.1M172.3 1101.5H307.9M624.4 1101.5H760M850.5 1101.5H940.9M217.5 1102.5H307.9M443.6 1102.5H488.8M624.4 1102.5H669.6M714.8 1102.5H760M986.1 1102.5H1121.7M217.5 1103.5H262.7M488.8 1103.5H579.2M81.9 1105.5H172.3M262.7 1105.5H307.9M353.2 1105.5H398.4M760 1105.5H805.2M895.7 1105.5H940.9M398.4 1107.5H443.6M488.8 1107.5H534M36.7 1108.5H81.9M850.5 1108.5H895.7M940.9 1108.5H986.1M1031.3 1108.5H1121.7M443.6 1109.5H488.8M307.9 1110.5H398.4M534 1110.5H579.2M850.5 1110.5H895.7M940.9 1110.5H986.1M940.9 1111.5H986.1M1076.5 1111.5H1121.7M805.2 1112.5H895.7M579.2 1113.5H624.4M805.2 1113.5H850.5M36.7 1114.5H81.9M172.3 1114.5H217.5M353.2 1114.5H398.4M488.8 1114.5H579.2M488.8 1115.5H534M714.8 1115.5H760M262.7 1116.5H353.2M443.6 1116.5H488.8M1076.5 1116.5H1121.7M36.7 1117.5H127.1M172.3 1117.5H217.5M353.2 1117.5H443.6M760 1117.5H805.2M850.5 1117.5H895.7M986.1 1117.5H1031.3M579.2 1118.5H624.4M579.2 1120.5H624.4M986.1 1120.5H1031.3M81.9 1122.5H127.1M217.5 1122.5H353.2M579.2 1122.5H624.4M714.8 1122.5H760M850.5 1122.5H895.7M1031.3 1122.5H1076.5M217.5 1123.5H307.9M443.6 1123.5H488.8M579.2 1123.5H624.4M81.9 1124.5H127.1M1031.3 1124.5H1076.5M398.4 1125.5H443.6M579.2 1125.5H624.4M805.2 1126.5H850.5M1031.3 1126.5H1121.7M307.9 1127.5H353.2M488.8 1127.5H579.2M669.6 1127.5H714.8M127.1 1128.5H217.5M398.4 1128.5H443.6M488.8 1128.5H534M534 1129.5H579.2M81.9 1130.5H127.1M262.7 1130.5H307.9M443.6 1130.5H488.8M172.3 1131.5H217.5M262.7 1131.5H307.9M443.6 1131.5H488.8M714.8 1131.5H760M805.2 1131.5H986.1M443.6 1132.5H488.8M805.2 1134.5H850.5M1076.5 1134.5H1121.7M624.4 1135.5H669.6M760 1135.5H895.7M986.1 1135.5H1076.5M669.6 1137.5H714.8M940.9 1137.5H986.1M1031.3 1137.5H1076.5M262.7 1138.5H307.9M353.2 1138.5H398.4M488.8 1138.5H534M624.4 1138.5H669.6M714.8 1138.5H760M850.5 1140.5H895.7M986.1 1141.5H1031.3M805.2 1142.5H850.5M940.9 1142.5H986.1M579.2 1144.5H624.4M669.6 1144.5H714.8M850.5 1144.5H895.7M1076.5 1144.5H1121.7M579.2 1145.5H714.8M805.2 1145.5H850.5M940.9 1145.5H986.1M895.7 1147.5H940.9M760 1148.5H805.2M262.7 1149.5H307.9M443.6 1149.5H488.8M714.8 1149.5H760M986.1 1149.5H1076.5M217.5 1152.5H307.9M443.6 1158.5H488.8M172.3 1162.5H262.7M127.1 1163.5H217.5M262.7 1163.5H307.9M534 1163.5H579.2M81.9 1164.5H127.1M172.3 1164.5H217.5M307.9 1164.5H398.4M443.6 1164.5H488.8M534 1164.5H579.2M36.7 1165.5H81.9M262.7 1165.5H307.9M81.9 1167.5H127.1M172.3 1167.5H217.5M488.8 1167.5H534M307.9 1168.5H443.6M353.2 1184.5H398.4M714.8 1195.5H760M805.2 1195.5H850.5M895.7 1195.5H940.9M1076.5 1195.5H1121.7M81.9 1199.5H127.1M398.4 1199.5H443.6M534 1199.5H579.2M127.1 1203.5H172.3M217.5 1203.5H262.7M398.4 1203.5H443.6M624.4 1221.5H669.6M307.9 1223.5H353.2M579.2 1223.5H624.4M172.3 1224.5H217.5M579.2 1224.5H624.4M714.8 1224.5H760M36.7 1225.5H81.9M172.3 1225.5H217.5M172.3 1226.5H217.5M534 1226.5H579.2M127.1 1227.5H172.3M398.4 1227.5H443.6M534 1227.5H579.2M262.7 1228.5H307.9M534 1228.5H579.2M353.2 1229.5H398.4M217.5 1231.5H262.7M353.2 1231.5H398.4M488.8 1231.5H534M443.6 1232.5H488.8M534 1232.5H579.2M624.4 1232.5H669.6M805.2 1232.5H850.5M940.9 1232.5H986.1M353.2 1233.5H443.6M488.8 1233.5H534M624.4 1233.5H669.6M940.9 1233.5H986.1"/>
<path stroke="#9999ff" d="M81.9 380.5H127.1M307.9 380.5H353.2M398.4 380.5H488.8M36.7 381.5H127.1M217.5 381.5H262.7M443.6 381.5H488.8M172.3 383.5H217.5M307.9 383.5H398.4M534 383.5H579.2M127.1 384.5H172.3M353.2 384.5H443.6M534 384.5H579.2M81.9 385.5H398.4M534 385.5H579.2M534 386.5H579.2M81.9 387.5H127.1M217.5 387.5H262.7M488.8 387.5H534M172.3 389.5H217.5M353.2 389.5H398.4M488.8 389.5H579.2M172.3 400.5H217.5M81.9 401.5H127.1M353.2 401.5H579.2M172.3 402.5H217.5M398.4 402.5H488.8M172.3 403.5H217.5M353.2 403.5H488.8M36.7 406.5H127.1M172.3 406.5H217.5M307.9 406.5H353.2M398.4 406.5H443.6M488.8 406.5H534M353.2 407.5H398.4M36.7 409.5H81.9M217.5 409.5H262.7M443.6 409.5H488.8M217.5 410.5H262.7M443.6 410.5H488.8M534 410.5H579.2M534 412.5H579.2M81.9 413.5H172.3M262.7 413.5H353.2M488.8 413.5H534M127.1 416.5H172.3M398.4 416.5H443.6M488.8 416.5H534M81.9 417.5H127.1M81.9 418.5H127.1M217.5 418.5H307.9M81.9 419.5H127.1M534 419.5H579.2M172.3 420.5H262.7M398.4 420.5H443.6M488.8 420.5H534M443.6 422.5H488.8M534 422.5H579.2M307.9 426.5H353.2M443.6 426.5H488.8M534 426.5H579.2M534 427.5H579.2M36.7 430.5H81.9M127.1 432.5H172.3M398.4 432.5H443.6M398.4 433.5H443.6M36.7 434.5H81.9M307.9 434.5H353.2M172.3 435.5H217.5M443.6 435.5H488.8M127.1 436.5H262.7M307.9 436.5H353.2M443.6 439.5H488.8M127.1 441.5H172.3M217.5 441.5H353.2M534 441.5H579.2M353.2 442.5H398.4M850.5 442.5H895.7M1076.5 442.5H1121.7M624.4 443.5H669.6M760 443.5H805.2M895.7 443.5H940.9M669.6 446.5H714.8M760 446.5H805.2M940.9 446.5H986.1M1031.3 446.5H1076.5M895.7 447.5H940.9M579.2 448.5H624.4M850.5 448.5H940.9M986.1 448.5H1031.3M1076.5 448.5H1121.7M805.2 451.5H850.5M940.9 452.5H986.1M1031.3 452.5H1076.5M669.6 453.5H714.8M986.1 453.5H1031.3M669.6 455.5H714.8M850.5 455.5H895.7M940.9 455.5H1031.3M624.4 456.5H669.6M760 456.5H805.2M850.5 456.5H986.1M669.6 457.5H714.8M669.6 459.5H714.8M805.2 459.5H940.9M714.8 460.5H805.2M940.9 460.5H986.1M1031.3 460.5H1076.5M669.6 461.5H714.8M1031.3 461.5H1076.5M624.4 462.5H669.6M714.8 462.5H760M850.5 462.5H895.7M940.9 462.5H986.1M1031.3 462.5H1121.7M579.2 463.5H624.4M669.6 464.5H714.8M805.2 464.5H850.5M986.1 464.5H1031.3M669.6 465.5H714.8M895.7 465.5H940.9M579.2 466.5H624.4M760 466.5H805.2M850.5 466.5H895.7M1031.3 466.5H1076.5M986.1 467.5H1031.3M1076.5 467.5H1121.7M760 468.5H805.2M760 471.5H805.2M940.9 471.5H986.1M624.4 472.5H669.6M714.8 472.5H760M986.1 472.5H1121.7M624.4 474.5H760M850.5 474.5H895.7M986.1 474.5H1121.7M579.2 475.5H624.4M805.2 475.5H850.5M714.8 476.5H895.7M579.2 477.5H624.4M850.5 477.5H895.7M714.8 479.5H760M669.6 480.5H714.8M805.2 480.5H850.5M986.1 480.5H1076.5M624.4 481.5H669.6M805.2 481.5H850.5M940.9 481.5H986.1M1076.5 481.5H1121.7M579.2 483.5H669.6M1076.5 483.5H1121.7M714.8 484.5H760M986.1 485.5H1031.3M579.2 488.5H624.4M669.6 488.5H714.8M850.5 488.5H895.7M986.1 488.5H1031.3M1076.5 489.5H1121.7M669.6 490.5H714.8M895.7 490.5H940.9M986.1 490.5H1031.3M895.7 493.5H940.9M1076.5 493.5H1121.7M579.2 496.5H760M940.9 496.5H1031.3M172.3 502.5H217.5M262.7 502.5H307.9M579.2 503.5H624.4M669.6 503.5H714.8M760 504.5H805.2M850.5 504.5H895.7M624.4 506.5H714.8M986.1 506.5H1031.3M624.4 507.5H669.6M805.2 507.5H850.5M579.2 508.5H624.4M760 508.5H805.2M895.7 508.5H986.1M714.8 538.5H760M986.1 669.5H1031.3M579.2 670.5H624.4M760 670.5H805.2M940.9 670.5H986.1M1031.3 670.5H1121.7M36.7 672.5H81.9M217.5 672.5H262.7M805.2 672.5H895.7M1076.5 672.5H1121.7M217.5 673.5H307.9M307.9 674.5H353.2M714.8 674.5H760M805.2 674.5H895.7M940.9 674.5H1031.3M624.4 675.5H669.6M172.3 676.5H217.5M714.8 677.5H760M127.1 678.5H172.3M353.2 678.5H443.6M714.8 678.5H805.2M1031.3 678.5H1076.5M36.7 679.5H81.9M127.1 679.5H217.5M262.7 679.5H307.9M398.4 679.5H443.6M850.5 679.5H940.9M1031.3 679.5H1076.5M36.7 680.5H172.3M534 680.5H579.2M986.1 680.5H1031.3M127.1 681.5H217.5M850.5 681.5H986.1M307.9 682.5H353.2M398.4 682.5H443.6M579.2 682.5H669.6M714.8 682.5H760M850.5 682.5H895.7M36.7 684.5H81.9M127.1 684.5H172.3M217.5 684.5H262.7M398.4 684.5H443.6M81.9 685.5H127.1M534 685.5H579.2M172.3 686.5H217.5M805.2 687.5H850.5M895.7 687.5H940.9M986.1 687.5H1031.3M534 688.5H579.2M669.6 688.5H714.8M850.5 688.5H940.9M1031.3 688.5H1076.5M986.1 689.5H1031.3M81.9 692.5H127.1M262.7 692.5H307.9M940.9 693.5H986.1M488.8 694.5H534M443.6 695.5H579.2M172.3 696.5H217.5M127.1 698.5H172.3M669.6 698.5H714.8M1076.5 698.5H1121.7M895.7 699.5H940.9M986.1 699.5H1031.3M262.7 701.5H353.2M398.4 701.5H488.8M217.5 702.5H307.9M534 702.5H579.2M624.4 702.5H669.6M534 703.5H579.2M172.3 704.5H217.5M534 704.5H760M986.1 704.5H1031.3M172.3 705.5H217.5M534 705.5H579.2M760 705.5H805.2M1076.5 705.5H1121.7M217.5 706.5H262.7M307.9 706.5H353.2M443.6 706.5H488.8M669.6 706.5H714.8M850.5 706.5H940.9M579.2 707.5H669.6M398.4 709.5H443.6M714.8 709.5H760M1031.3 709.5H1076.5M172.3 710.5H217.5M714.8 710.5H805.2M986.1 710.5H1031.3M714.8 711.5H760M1031.3 711.5H1076.5M850.5 713.5H895.7M36.7 715.5H81.9M217.5 715.5H262.7M353.2 715.5H398.4M443.6 715.5H488.8M36.7 716.5H81.9M624.4 716.5H669.6M940.9 716.5H986.1M307.9 717.5H353.2M488.8 717.5H534M579.2 717.5H624.4M986.1 717.5H1031.3M217.5 718.5H307.9M353.2 718.5H398.4M850.5 718.5H895.7M940.9 718.5H986.1M669.6 719.5H714.8M940.9 719.5H986.1M36.7 720.5H81.9M217.5 720.5H262.7M81.9 721.5H172.3M36.7 722.5H81.9M127.1 722.5H217.5M398.4 722.5H443.6M488.8 722.5H579.2M579.2 723.5H624.4M36.7 724.5H81.9M172.3 724.5H217.5M262.7 724.5H353.2M986.1 724.5H1031.3M579.2 725.5H624.4M850.5 725.5H895.7M986.1 725.5H1121.7M488.8 726.5H534M714.8 726.5H760M805.2 726.5H850.5M579.2 730.5H714.8M760 730.5H805.2M986.1 730.5H1031.3M443.6 731.5H488.8M714.8 739.5H760M81.9 740.5H262.7M307.9 740.5H398.4M534 740.5H579.2M760 740.5H805.2M262.7 741.5H307.9M624.4 741.5H669.6M986.1 741.5H1031.3M81.9 742.5H127.1M217.5 742.5H262.7M669.6 742.5H714.8M805.2 742.5H850.5M986.1 742.5H1031.3M81.9 743.5H127.1M307.9 743.5H353.2M36.7 744.5H81.9M353.2 744.5H443.6M534 744.5H579.2M1076.5 744.5H1121.7M1031.3 745.5H1076.5M81.9 746.5H127.1M307.9 746.5H353.2M1076.5 746.5H1121.7M895.7 747.5H1031.3M81.9 748.5H127.1M353.2 748.5H443.6M805.2 748.5H850.5M986.1 748.5H1076.5M895.7 749.5H940.9M1076.5 749.5H1121.7M398.4 750.5H443.6M624.4 750.5H669.6M714.8 750.5H760M850.5 750.5H940.9M217.5 751.5H307.9M398.4 751.5H443.6M579.2 751.5H624.4M714.8 751.5H760M850.5 751.5H940.9M1031.3 751.5H1076.5M81.9 752.5H127.1M579.2 752.5H624.4M669.6 752.5H714.8M986.1 752.5H1031.3M1076.5 753.5H1121.7M307.9 754.5H353.2M624.4 755.5H714.8M850.5 755.5H986.1M986.1 756.5H1076.5M307.9 757.5H353.2M850.5 757.5H895.7M398.4 758.5H443.6M1031.3 758.5H1121.7M624.4 759.5H669.6M262.7 762.5H307.9M398.4 762.5H488.8M579.2 762.5H669.6M714.8 762.5H760M805.2 762.5H850.5M1031.3 762.5H1076.5M488.8 763.5H534M488.8 765.5H534M488.8 766.5H534M398.4 767.5H443.6M624.4 767.5H895.7M986.1 767.5H1031.3M669.6 769.5H714.8M760 769.5H850.5M714.8 770.5H805.2M895.7 770.5H986.1M669.6 771.5H714.8M805.2 771.5H850.5M895.7 771.5H940.9M398.4 772.5H443.6M443.6 773.5H488.8M262.7 774.5H353.2M534 774.5H579.2M579.2 776.5H624.4M805.2 776.5H850.5M986.1 776.5H1031.3M624.4 777.5H669.6M895.7 777.5H940.9M986.1 777.5H1031.3M579.2 778.5H669.6M760 778.5H805.2M850.5 778.5H940.9M36.7 779.5H81.9M669.6 779.5H714.8M36.7 781.5H217.5M262.7 781.5H307.9M669.6 782.5H714.8M805.2 782.5H850.5M81.9 783.5H127.1M353.2 784.5H443.6M534 784.5H579.2M579.2 785.5H669.6M714.8 785.5H760M940.9 785.5H986.1M398.4 786.5H443.6M81.9 787.5H127.1M488.8 787.5H534M579.2 788.5H624.4M669.6 788.5H714.8M760 788.5H850.5M579.2 789.5H624.4M669.6 789.5H714.8M760 789.5H895.7M1031.3 789.5H1076.5M217.5 790.5H262.7M760 790.5H805.2M850.5 790.5H895.7M940.9 790.5H986.1M172.3 792.5H217.5M262.7 792.5H307.9M398.4 792.5H443.6M534 792.5H579.2M624.4 792.5H669.6M760 792.5H805.2M895.7 792.5H940.9M217.5 793.5H262.7M398.4 793.5H443.6M36.7 794.5H127.1M217.5 794.5H262.7M307.9 794.5H353.2M534 794.5H579.2M36.7 798.5H172.3M217.5 798.5H262.7M307.9 798.5H443.6M488.8 798.5H534M624.4 799.5H669.6M353.2 800.5H398.4M172.3 801.5H217.5M534 801.5H579.2M36.7 802.5H81.9M127.1 802.5H172.3M262.7 802.5H307.9M443.6 802.5H488.8M217.5 803.5H307.9M443.6 803.5H488.8M624.4 803.5H669.6M895.7 803.5H940.9M307.9 804.5H353.2M353.2 805.5H398.4M488.8 809.5H534M217.5 810.5H262.7M488.8 810.5H534M36.7 811.5H127.1M262.7 811.5H307.9M81.9 812.5H127.1M172.3 812.5H217.5M353.2 812.5H398.4M488.8 812.5H534M81.9 813.5H127.1M262.7 813.5H307.9M443.6 813.5H488.8M36.7 815.5H81.9M127.1 815.5H172.3M307.9 815.5H353.2M805.2 815.5H850.5M986.1 815.5H1076.5M1031.3 816.5H1076.5M127.1 817.5H172.3M353.2 817.5H398.4M488.8 819.5H534M669.6 819.5H714.8M36.7 820.5H127.1M262.7 820.5H307.9M127.1 822.5H172.3M217.5 822.5H307.9M353.2 822.5H398.4M488.8 822.5H579.2M669.6 822.5H714.8M217.5 823.5H262.7M398.4 823.5H443.6M669.6 823.5H714.8M172.3 824.5H262.7M353.2 824.5H398.4M127.1 825.5H172.3M262.7 825.5H307.9M714.8 826.5H760M36.7 827.5H81.9M172.3 827.5H262.7M353.2 827.5H398.4M443.6 827.5H488.8M353.2 828.5H398.4M307.9 829.5H353.2M398.4 829.5H443.6M488.8 829.5H579.2M127.1 831.5H172.3M443.6 831.5H488.8M714.8 831.5H760M805.2 831.5H850.5M940.9 831.5H986.1M172.3 832.5H217.5M443.6 832.5H488.8M534 832.5H579.2M940.9 832.5H1076.5M217.5 837.5H262.7M217.5 838.5H262.7M669.6 839.5H714.8M81.9 840.5H127.1M353.2 840.5H488.8M669.6 840.5H714.8M986.1 840.5H1031.3M172.3 842.5H262.7M398.4 842.5H443.6M1031.3 842.5H1076.5M850.5 843.5H895.7M624.4 844.5H669.6M805.2 844.5H850.5M986.1 844.5H1031.3M669.6 845.5H714.8M895.7 845.5H986.1M1076.5 845.5H1121.7M36.7 846.5H81.9M172.3 846.5H217.5M353.2 846.5H398.4M443.6 846.5H488.8M534 846.5H579.2M1076.5 846.5H1121.7M81.9 847.5H127.1M217.5 847.5H262.7M398.4 847.5H443.6M534 847.5H579.2M624.4 847.5H669.6M1076.5 847.5H1121.7M172.3 848.5H217.5M850.5 848.5H895.7M760 850.5H805.2M895.7 850.5H940.9M940.9 851.5H1031.3M172.3 852.5H217.5M307.9 852.5H353.2M398.4 852.5H443.6M669.6 852.5H714.8M805.2 852.5H895.7M488.8 860.5H534M262.7 867.5H307.9M217.5 868.5H307.9M353.2 868.5H398.4M443.6 868.5H488.8M36.7 880.5H172.3M217.5 880.5H262.7M353.2 880.5H443.6M488.8 880.5H534M36.7 883.5H81.9M127.1 883.5H172.3M488.8 883.5H534M443.6 884.5H488.8M172.3 888.5H217.5M353.2 892.5H398.4M443.6 892.5H488.8M172.3 898.5H307.9M398.4 898.5H534M443.6 900.5H488.8M127.1 903.5H172.3M217.5 903.5H307.9M262.7 904.5H307.9M443.6 904.5H488.8M534 904.5H579.2M127.1 905.5H217.5M127.1 906.5H307.9M353.2 906.5H488.8M534 906.5H579.2M81.9 908.5H127.1M172.3 908.5H217.5M398.4 908.5H443.6M488.8 908.5H579.2M81.9 909.5H127.1M172.3 909.5H262.7M307.9 909.5H398.4M443.6 909.5H488.8M127.1 910.5H217.5M36.7 911.5H81.9M398.4 911.5H488.8M534 911.5H579.2M172.3 913.5H217.5M398.4 913.5H443.6M534 913.5H579.2M217.5 915.5H262.7M398.4 915.5H443.6M443.6 916.5H488.8M534 916.5H579.2M624.4 917.5H714.8M760 917.5H805.2M850.5 917.5H895.7M805.2 921.5H850.5M805.2 923.5H850.5M760 924.5H805.2M1031.3 925.5H1076.5M714.8 926.5H805.2M895.7 926.5H940.9M986.1 926.5H1031.3M624.4 927.5H669.6M714.8 927.5H760M850.5 927.5H895.7M624.4 928.5H669.6M805.2 928.5H850.5M1031.3 928.5H1121.7M986.1 929.5H1031.3M624.4 930.5H714.8M895.7 930.5H940.9M805.2 931.5H850.5M669.6 932.5H714.8M760 932.5H805.2M1031.3 932.5H1076.5M805.2 933.5H850.5M579.2 935.5H624.4M1076.5 935.5H1121.7M579.2 936.5H624.4M714.8 937.5H760M1076.5 937.5H1121.7M805.2 941.5H850.5M986.1 941.5H1031.3M669.6 942.5H760M940.9 943.5H986.1M850.5 945.5H895.7M714.8 946.5H760M1076.5 949.5H1121.7M714.8 953.5H760M760 954.5H805.2M895.7 954.5H940.9M986.1 954.5H1031.3M353.2 972.5H398.4M488.8 972.5H534M81.9 973.5H172.3M217.5 973.5H353.2M217.5 975.5H262.7M443.6 975.5H488.8M850.5 975.5H986.1M1031.3 975.5H1121.7M579.2 976.5H624.4M669.6 976.5H850.5M940.9 976.5H1076.5M850.5 977.5H895.7M1076.5 979.5H1121.7M353.2 1014.5H398.4M1031.3 1014.5H1076.5M398.4 1015.5H443.6M624.4 1016.5H669.6M714.8 1016.5H760M805.2 1016.5H850.5M217.5 1017.5H262.7M669.6 1017.5H714.8M895.7 1017.5H940.9M81.9 1018.5H127.1M217.5 1018.5H262.7M307.9 1018.5H353.2M398.4 1018.5H443.6M669.6 1018.5H714.8M940.9 1018.5H1031.3M624.4 1023.5H669.6M714.8 1023.5H760M81.9 1026.5H127.1M760 1027.5H805.2M36.7 1029.5H81.9M579.2 1030.5H624.4M669.6 1030.5H714.8M895.7 1030.5H940.9M1031.3 1030.5H1121.7M36.7 1032.5H81.9M217.5 1032.5H307.9M443.6 1032.5H488.8M669.6 1032.5H714.8M172.3 1037.5H217.5M579.2 1043.5H624.4M1076.5 1043.5H1121.7M805.2 1044.5H850.5M624.4 1045.5H669.6M850.5 1045.5H940.9M714.8 1046.5H760M805.2 1046.5H850.5M1076.5 1046.5H1121.7M760 1054.5H805.2M669.6 1064.5H714.8M760 1064.5H805.2M579.2 1065.5H624.4M760 1065.5H805.2M850.5 1067.5H895.7M940.9 1067.5H986.1M940.9 1068.5H986.1M669.6 1073.5H760M850.5 1073.5H895.7M986.1 1073.5H1031.3M669.6 1074.5H760M805.2 1074.5H850.5M940.9 1074.5H986.1M624.4 1077.5H669.6M850.5 1077.5H940.9M805.2 1079.5H895.7M579.2 1080.5H760M850.5 1080.5H1076.5M714.8 1083.5H760M850.5 1083.5H940.9M714.8 1084.5H895.7M805.2 1100.5H850.5M986.1 1100.5H1031.3M36.7 1101.5H81.9M307.9 1101.5H353.2M534 1101.5H579.2M805.2 1101.5H850.5M36.7 1102.5H127.1M307.9 1102.5H353.2M398.4 1102.5H443.6M895.7 1102.5H940.9M81.9 1103.5H172.3M940.9 1103.5H986.1M579.2 1105.5H714.8M805.2 1105.5H850.5M986.1 1105.5H1031.3M262.7 1108.5H307.9M398.4 1108.5H443.6M488.8 1108.5H534M127.1 1109.5H172.3M488.8 1109.5H534M443.6 1110.5H488.8M172.3 1111.5H262.7M307.9 1111.5H353.2M534 1111.5H579.2M714.8 1111.5H760M36.7 1112.5H81.9M217.5 1112.5H262.7M534 1112.5H579.2M714.8 1112.5H760M940.9 1112.5H986.1M1076.5 1112.5H1121.7M534 1113.5H579.2M714.8 1113.5H760M1076.5 1113.5H1121.7M81.9 1114.5H127.1M398.4 1114.5H443.6M262.7 1115.5H353.2M714.8 1116.5H760M217.5 1117.5H262.7M443.6 1117.5H488.8M579.2 1117.5H624.4M940.9 1117.5H986.1M1076.5 1117.5H1121.7M669.6 1118.5H714.8M760 1118.5H805.2M895.7 1118.5H940.9M986.1 1118.5H1031.3M714.8 1120.5H760M895.7 1120.5H940.9M669.6 1121.5H714.8M940.9 1123.5H986.1M1031.3 1123.5H1076.5M307.9 1125.5H353.2M760 1125.5H805.2M1076.5 1125.5H1121.7M760 1126.5H805.2M81.9 1127.5H127.1M172.3 1127.5H217.5M262.7 1127.5H307.9M398.4 1127.5H443.6M36.7 1128.5H81.9M534 1128.5H579.2M714.8 1128.5H760M895.7 1128.5H986.1M1076.5 1128.5H1121.7M81.9 1129.5H127.1M217.5 1129.5H262.7M307.9 1129.5H353.2M443.6 1129.5H488.8M36.7 1130.5H81.9M760 1131.5H805.2M1031.3 1131.5H1121.7M579.2 1135.5H624.4M714.8 1135.5H760M940.9 1135.5H986.1M1076.5 1135.5H1121.7M579.2 1137.5H669.6M714.8 1137.5H760M805.2 1137.5H850.5M1076.5 1137.5H1121.7M172.3 1138.5H217.5M398.4 1138.5H443.6M534 1138.5H579.2M805.2 1144.5H850.5M986.1 1144.5H1031.3M579.2 1149.5H714.8M1076.5 1149.5H1121.7M850.5 1150.5H895.7M443.6 1152.5H488.8M217.5 1158.5H262.7M81.9 1163.5H127.1M217.5 1163.5H262.7M307.9 1163.5H398.4M443.6 1163.5H488.8M127.1 1164.5H172.3M217.5 1164.5H307.9M217.5 1167.5H307.9M262.7 1168.5H307.9M443.6 1168.5H488.8M986.1 1195.5H1031.3M714.8 1196.5H760M488.8 1199.5H534M36.7 1207.5H81.9M172.3 1207.5H217.5M443.6 1207.5H488.8M36.7 1223.5H81.9M307.9 1224.5H353.2M307.9 1226.5H353.2M36.7 1227.5H81.9M172.3 1227.5H217.5M262.7 1227.5H398.4M217.5 1228.5H262.7M307.9 1228.5H353.2M443.6 1228.5H488.8M81.9 1231.5H172.3M81.9 1232.5H127.1M217.5 1232.5H262.7M307.9 1232.5H353.2M669.6 1232.5H714.8M172.3 1233.5H217.5M262.7 1233.5H307.9M443.6 1233.5H488.8M579.2 1233.5H624.4"/>
<path stroke="#b2b2ff" d="M36.7 380.5H81.9M127.1 380.5H172.3M262.7 380.5H307.9M353.2 380.5H398.4M488.8 380.5H579.2M262.7 381.5H307.9M534 381.5H579.2M443.6 383.5H488.8M81.9 384.5H127.1M307.9 384.5H353.2M443.6 384.5H488.8M443.6 385.5H488.8M81.9 386.5H127.1M353.2 386.5H398.4M443.6 386.5H534M36.7 387.5H81.9M353.2 387.5H443.6M534 387.5H579.2M81.9 388.5H127.1M353.2 388.5H443.6M534 388.5H579.2M36.7 389.5H81.9M217.5 389.5H353.2M443.6 389.5H488.8M127.1 400.5H172.3M262.7 400.5H307.9M353.2 400.5H398.4M36.7 401.5H81.9M81.9 402.5H127.1M488.8 402.5H579.2M36.7 403.5H81.9M127.1 403.5H172.3M217.5 403.5H262.7M488.8 403.5H579.2M81.9 404.5H127.1M36.7 405.5H127.1M127.1 406.5H172.3M353.2 406.5H398.4M36.7 407.5H81.9M262.7 407.5H353.2M36.7 408.5H81.9M353.2 408.5H398.4M81.9 409.5H127.1M172.3 409.5H217.5M307.9 409.5H353.2M534 409.5H579.2M127.1 410.5H172.3M307.9 410.5H353.2M398.4 410.5H443.6M488.8 410.5H534M172.3 412.5H217.5M307.9 412.5H353.2M398.4 412.5H488.8M172.3 413.5H217.5M36.7 417.5H81.9M217.5 417.5H262.7M307.9 417.5H398.4M443.6 417.5H488.8M36.7 418.5H81.9M172.3 418.5H217.5M398.4 418.5H488.8M534 418.5H579.2M36.7 419.5H81.9M262.7 419.5H307.9M353.2 419.5H488.8M262.7 420.5H307.9M895.7 420.5H940.9M36.7 422.5H81.9M262.7 422.5H353.2M36.7 423.5H81.9M353.2 423.5H398.4M443.6 423.5H488.8M534 423.5H579.2M36.7 424.5H81.9M127.1 424.5H217.5M262.7 424.5H398.4M443.6 424.5H579.2M81.9 426.5H127.1M217.5 426.5H262.7M398.4 426.5H443.6M488.8 426.5H534M217.5 427.5H262.7M488.8 427.5H534M36.7 428.5H81.9M307.9 428.5H398.4M534 428.5H579.2M127.1 430.5H172.3M217.5 430.5H262.7M307.9 430.5H398.4M81.9 432.5H127.1M217.5 432.5H398.4M443.6 432.5H488.8M36.7 433.5H172.3M353.2 433.5H398.4M443.6 433.5H488.8M81.9 434.5H127.1M262.7 434.5H307.9M443.6 434.5H488.8M534 434.5H579.2M81.9 436.5H127.1M353.2 436.5H398.4M443.6 436.5H488.8M534 436.5H579.2M36.7 437.5H127.1M81.9 438.5H127.1M217.5 438.5H353.2M127.1 439.5H217.5M36.7 440.5H127.1M443.6 440.5H488.8M353.2 441.5H398.4M488.8 441.5H534M579.2 442.5H624.4M760 442.5H850.5M940.9 442.5H986.1M534 443.5H579.2M669.6 443.5H760M805.2 443.5H895.7M986.1 443.5H1076.5M760 444.5H805.2M760 445.5H805.2M940.9 445.5H986.1M805.2 446.5H850.5M1076.5 446.5H1121.7M1031.3 447.5H1076.5M624.4 448.5H669.6M714.8 448.5H760M1031.3 448.5H1076.5M986.1 450.5H1031.3M579.2 451.5H624.4M669.6 451.5H714.8M760 451.5H805.2M986.1 451.5H1076.5M850.5 453.5H895.7M986.1 454.5H1031.3M579.2 455.5H669.6M760 455.5H805.2M895.7 455.5H940.9M579.2 456.5H624.4M1031.3 456.5H1121.7M624.4 457.5H669.6M986.1 457.5H1031.3M579.2 459.5H624.4M1031.3 459.5H1076.5M579.2 460.5H624.4M805.2 460.5H850.5M895.7 460.5H940.9M1076.5 460.5H1121.7M579.2 461.5H669.6M714.8 461.5H805.2M895.7 461.5H986.1M805.2 462.5H850.5M895.7 462.5H940.9M624.4 464.5H669.6M714.8 464.5H805.2M940.9 465.5H986.1M669.6 466.5H760M940.9 466.5H986.1M1076.5 466.5H1121.7M579.2 467.5H624.4M669.6 468.5H714.8M895.7 468.5H940.9M1031.3 468.5H1076.5M624.4 469.5H669.6M986.1 469.5H1031.3M669.6 470.5H714.8M895.7 470.5H940.9M579.2 471.5H624.4M669.6 471.5H714.8M895.7 471.5H940.9M579.2 472.5H624.4M760 472.5H805.2M940.9 472.5H986.1M895.7 474.5H940.9M669.6 476.5H714.8M895.7 476.5H986.1M669.6 479.5H714.8M805.2 479.5H850.5M624.4 480.5H669.6M760 480.5H805.2M850.5 480.5H986.1M760 481.5H805.2M895.7 481.5H940.9M1031.3 481.5H1076.5M760 483.5H805.2M895.7 483.5H940.9M986.1 483.5H1031.3M850.5 484.5H895.7M940.9 485.5H986.1M714.8 488.5H760M805.2 488.5H850.5M940.9 488.5H986.1M36.7 489.5H398.4M443.6 489.5H579.2M940.9 490.5H986.1M1076.5 490.5H1121.7M760 496.5H850.5M36.7 502.5H172.3M217.5 502.5H262.7M307.9 502.5H353.2M398.4 502.5H488.8M534 502.5H579.2M36.7 504.5H127.1M217.5 504.5H262.7M488.8 504.5H534M579.2 504.5H624.4M669.6 504.5H714.8M760 506.5H805.2M669.6 507.5H760M895.7 507.5H940.9M986.1 507.5H1031.3M1076.5 507.5H1121.7M443.6 508.5H488.8M1031.3 508.5H1076.5M217.5 509.5H307.9M443.6 509.5H534M579.2 535.5H760M805.2 535.5H850.5M940.9 535.5H986.1M579.2 538.5H714.8M760 538.5H850.5M940.9 538.5H1031.3M624.4 637.5H669.6M850.5 637.5H895.7M986.1 645.5H1031.3M624.4 670.5H669.6M714.8 670.5H760M805.2 670.5H940.9M986.1 670.5H1031.3M81.9 672.5H127.1M262.7 672.5H353.2M398.4 672.5H443.6M714.8 672.5H760M895.7 672.5H986.1M1031.3 672.5H1076.5M353.2 674.5H443.6M488.8 674.5H534M624.4 674.5H669.6M895.7 674.5H940.9M1076.5 674.5H1121.7M443.6 675.5H488.8M669.6 675.5H714.8M850.5 675.5H895.7M940.9 675.5H986.1M1076.5 675.5H1121.7M81.9 679.5H127.1M217.5 679.5H262.7M714.8 679.5H760M986.1 679.5H1031.3M36.7 681.5H127.1M217.5 681.5H262.7M443.6 681.5H488.8M534 681.5H579.2M624.4 681.5H669.6M1031.3 681.5H1076.5M36.7 682.5H81.9M172.3 682.5H217.5M353.2 682.5H398.4M986.1 682.5H1031.3M443.6 683.5H488.8M172.3 684.5H217.5M262.7 684.5H307.9M488.8 684.5H534M488.8 685.5H534M307.9 686.5H353.2M398.4 686.5H443.6M940.9 687.5H986.1M36.7 688.5H81.9M127.1 688.5H172.3M262.7 688.5H307.9M488.8 688.5H534M940.9 688.5H986.1M81.9 689.5H127.1M262.7 689.5H307.9M534 689.5H579.2M443.6 692.5H488.8M262.7 693.5H307.9M353.2 693.5H398.4M172.3 694.5H262.7M127.1 695.5H172.3M307.9 695.5H353.2M36.7 696.5H81.9M1031.3 699.5H1076.5M81.9 700.5H127.1M488.8 700.5H534M36.7 701.5H81.9M172.3 701.5H217.5M353.2 701.5H398.4M398.4 704.5H443.6M895.7 704.5H940.9M1076.5 704.5H1121.7M398.4 705.5H443.6M579.2 705.5H624.4M353.2 706.5H398.4M534 706.5H579.2M986.1 706.5H1031.3M534 709.5H579.2M895.7 709.5H986.1M1076.5 709.5H1121.7M36.7 710.5H81.9M307.9 710.5H443.6M805.2 710.5H850.5M1031.3 710.5H1121.7M36.7 711.5H81.9M624.4 711.5H669.6M805.2 711.5H850.5M624.4 713.5H669.6M760 713.5H805.2M940.9 713.5H986.1M579.2 714.5H714.8M895.7 714.5H940.9M986.1 714.5H1031.3M127.1 715.5H172.3M398.4 716.5H443.6M534 716.5H579.2M36.7 717.5H81.9M127.1 717.5H217.5M760 717.5H805.2M895.7 717.5H986.1M669.6 718.5H714.8M760 718.5H805.2M624.4 719.5H669.6M1076.5 719.5H1121.7M172.3 720.5H217.5M262.7 720.5H307.9M850.5 720.5H895.7M940.9 720.5H1076.5M307.9 721.5H353.2M398.4 721.5H488.8M534 721.5H579.2M850.5 721.5H895.7M1076.5 721.5H1121.7M217.5 722.5H262.7M353.2 722.5H398.4M895.7 722.5H940.9M895.7 723.5H940.9M986.1 723.5H1031.3M353.2 724.5H398.4M488.8 724.5H534M624.4 724.5H669.6M714.8 724.5H760M850.5 724.5H895.7M669.6 725.5H714.8M760 725.5H805.2M895.7 725.5H940.9M895.7 730.5H940.9M1031.3 730.5H1076.5M81.9 731.5H217.5M307.9 731.5H353.2M534 731.5H579.2M36.7 739.5H81.9M579.2 740.5H624.4M714.8 740.5H760M850.5 740.5H895.7M1031.3 740.5H1076.5M579.2 741.5H624.4M714.8 741.5H760M805.2 741.5H850.5M895.7 741.5H940.9M1076.5 741.5H1121.7M36.7 742.5H81.9M262.7 742.5H307.9M398.4 742.5H443.6M488.8 742.5H579.2M1076.5 742.5H1121.7M353.2 743.5H398.4M307.9 744.5H353.2M579.2 745.5H624.4M262.7 746.5H307.9M488.8 746.5H534M579.2 750.5H624.4M940.9 750.5H986.1M1031.3 750.5H1121.7M624.4 751.5H669.6M940.9 751.5H1031.3M1076.5 751.5H1121.7M895.7 752.5H940.9M1031.3 752.5H1121.7M624.4 753.5H669.6M760 753.5H805.2M81.9 754.5H127.1M443.6 754.5H488.8M760 754.5H805.2M398.4 755.5H443.6M488.8 755.5H534M1076.5 755.5H1121.7M669.6 757.5H714.8M805.2 757.5H850.5M940.9 757.5H1031.3M1076.5 757.5H1121.7M443.6 758.5H488.8M579.2 759.5H624.4M760 759.5H805.2M850.5 759.5H895.7M986.1 759.5H1031.3M624.4 760.5H669.6M714.8 760.5H760M669.6 761.5H714.8M805.2 761.5H850.5M488.8 762.5H534M669.6 762.5H714.8M624.4 764.5H669.6M850.5 764.5H895.7M81.9 765.5H127.1M398.4 765.5H443.6M172.3 767.5H217.5M488.8 767.5H534M895.7 767.5H986.1M1031.3 767.5H1076.5M624.4 768.5H669.6M805.2 768.5H850.5M579.2 769.5H624.4M714.8 769.5H760M895.7 769.5H986.1M1031.3 769.5H1121.7M1076.5 770.5H1121.7M760 771.5H805.2M850.5 771.5H895.7M940.9 771.5H1031.3M805.2 772.5H850.5M986.1 772.5H1031.3M579.2 773.5H624.4M624.4 776.5H669.6M1031.3 776.5H1121.7M850.5 777.5H895.7M1031.3 777.5H1121.7M1031.3 778.5H1121.7M850.5 779.5H895.7M579.2 782.5H669.6M714.8 782.5H760M850.5 782.5H1031.3M624.4 783.5H669.6M714.8 783.5H850.5M940.9 783.5H986.1M36.7 784.5H127.1M307.9 784.5H353.2M805.2 784.5H850.5M940.9 784.5H986.1M669.6 785.5H714.8M760 785.5H805.2M850.5 785.5H895.7M986.1 785.5H1031.3M579.2 786.5H624.4M669.6 786.5H760M805.2 786.5H850.5M940.9 786.5H986.1M36.7 787.5H81.9M127.1 787.5H172.3M217.5 787.5H262.7M353.2 787.5H398.4M534 787.5H579.2M850.5 787.5H895.7M534 788.5H579.2M624.4 788.5H669.6M714.8 788.5H760M895.7 788.5H940.9M1031.3 788.5H1076.5M624.4 789.5H669.6M36.7 790.5H81.9M127.1 790.5H217.5M353.2 790.5H398.4M443.6 790.5H714.8M986.1 790.5H1076.5M217.5 792.5H262.7M353.2 792.5H398.4M443.6 792.5H488.8M714.8 792.5H760M262.7 793.5H307.9M353.2 793.5H398.4M443.6 793.5H488.8M353.2 794.5H398.4M443.6 794.5H488.8M172.3 797.5H217.5M534 797.5H579.2M172.3 798.5H217.5M262.7 798.5H307.9M36.7 799.5H81.9M172.3 800.5H217.5M36.7 801.5H81.9M127.1 801.5H172.3M262.7 801.5H353.2M488.8 801.5H534M81.9 802.5H127.1M217.5 802.5H262.7M398.4 802.5H443.6M488.8 802.5H534M127.1 803.5H172.3M36.7 804.5H81.9M172.3 804.5H217.5M443.6 804.5H488.8M534 804.5H579.2M398.4 805.5H443.6M353.2 806.5H398.4M534 806.5H579.2M353.2 807.5H398.4M488.8 807.5H579.2M81.9 809.5H127.1M217.5 809.5H262.7M443.6 811.5H488.8M127.1 812.5H172.3M217.5 812.5H307.9M534 813.5H579.2M172.3 815.5H217.5M353.2 815.5H398.4M534 815.5H579.2M669.6 815.5H760M895.7 815.5H986.1M1076.5 815.5H1121.7M36.7 816.5H81.9M127.1 816.5H172.3M353.2 816.5H488.8M624.4 816.5H760M172.3 817.5H217.5M172.3 820.5H262.7M443.6 820.5H579.2M669.6 820.5H714.8M127.1 821.5H172.3M669.6 821.5H714.8M172.3 823.5H217.5M36.7 825.5H127.1M172.3 825.5H217.5M398.4 825.5H488.8M217.5 828.5H262.7M760 828.5H850.5M940.9 828.5H986.1M1031.3 828.5H1076.5M81.9 829.5H127.1M217.5 829.5H262.7M353.2 829.5H398.4M172.3 831.5H217.5M805.2 832.5H850.5M217.5 835.5H262.7M534 835.5H579.2M805.2 839.5H850.5M624.4 840.5H669.6M1031.3 840.5H1121.7M443.6 842.5H488.8M669.6 843.5H714.8M1031.3 843.5H1076.5M850.5 844.5H895.7M940.9 844.5H986.1M1076.5 844.5H1121.7M1031.3 845.5H1076.5M81.9 846.5H127.1M307.9 846.5H353.2M398.4 846.5H443.6M217.5 848.5H262.7M398.4 848.5H443.6M579.2 848.5H624.4M986.1 848.5H1031.3M624.4 850.5H714.8M1031.3 850.5H1076.5M624.4 851.5H669.6M714.8 851.5H895.7M534 852.5H579.2M172.3 860.5H217.5M307.9 860.5H353.2M172.3 880.5H217.5M262.7 880.5H307.9M307.9 883.5H353.2M443.6 883.5H488.8M534 883.5H579.2M172.3 892.5H217.5M398.4 892.5H443.6M81.9 898.5H172.3M353.2 898.5H398.4M36.7 899.5H81.9M307.9 899.5H353.2M217.5 900.5H307.9M398.4 900.5H443.6M127.1 908.5H172.3M36.7 909.5H81.9M398.4 909.5H443.6M534 909.5H579.2M534 910.5H579.2M81.9 911.5H172.3M172.3 912.5H307.9M353.2 912.5H443.6M36.7 913.5H127.1M353.2 913.5H398.4M36.7 915.5H81.9M127.1 915.5H217.5M262.7 915.5H307.9M353.2 915.5H398.4M488.8 915.5H534M986.1 917.5H1031.3M895.7 921.5H940.9M805.2 924.5H850.5M850.5 926.5H895.7M940.9 926.5H986.1M1076.5 926.5H1121.7M940.9 927.5H986.1M805.2 929.5H850.5M940.9 929.5H986.1M1031.3 930.5H1076.5M850.5 931.5H895.7M805.2 932.5H850.5M579.2 934.5H669.6M850.5 934.5H895.7M1031.3 934.5H1121.7M624.4 941.5H714.8M760 941.5H805.2M850.5 941.5H895.7M1031.3 941.5H1076.5M850.5 942.5H895.7M1031.3 942.5H1076.5M624.4 943.5H669.6M850.5 943.5H940.9M1076.5 943.5H1121.7M850.5 944.5H895.7M624.4 945.5H714.8M760 945.5H850.5M579.2 949.5H624.4M669.6 949.5H714.8M895.7 950.5H940.9M714.8 954.5H760M1031.3 954.5H1076.5M36.7 972.5H172.3M217.5 972.5H262.7M36.7 975.5H81.9M398.4 975.5H443.6M895.7 976.5H940.9M624.4 1011.5H669.6M850.5 1011.5H895.7M579.2 1014.5H624.4M669.6 1014.5H714.8M1031.3 1016.5H1076.5M443.6 1018.5H579.2M714.8 1018.5H760M805.2 1018.5H850.5M850.5 1030.5H895.7M940.9 1030.5H986.1M127.1 1032.5H217.5M307.9 1032.5H353.2M398.4 1032.5H443.6M534 1032.5H579.2M895.7 1032.5H986.1M1031.3 1032.5H1076.5M850.5 1037.5H895.7M1031.3 1037.5H1076.5M986.1 1043.5H1031.3M669.6 1045.5H714.8M940.9 1045.5H986.1M1076.5 1045.5H1121.7M579.2 1046.5H624.4M760 1046.5H805.2M850.5 1046.5H895.7M1031.3 1046.5H1076.5M624.4 1054.5H669.6M760 1055.5H805.2M805.2 1064.5H850.5M940.9 1064.5H986.1M1031.3 1064.5H1121.7M1031.3 1065.5H1076.5M940.9 1073.5H986.1M1076.5 1073.5H1121.7M579.2 1075.5H624.4M850.5 1075.5H895.7M1076.5 1075.5H1121.7M579.2 1077.5H624.4M714.8 1077.5H760M805.2 1077.5H850.5M986.1 1077.5H1121.7M850.5 1078.5H895.7M940.9 1078.5H1031.3M1076.5 1080.5H1121.7M805.2 1083.5H850.5M940.9 1083.5H986.1M624.4 1084.5H669.6M986.1 1084.5H1031.3M895.7 1100.5H940.9M398.4 1101.5H443.6M940.9 1101.5H986.1M127.1 1102.5H217.5M488.8 1102.5H534M940.9 1102.5H986.1M850.5 1105.5H895.7M307.9 1107.5H353.2M127.1 1110.5H172.3M488.8 1110.5H534M36.7 1111.5H81.9M262.7 1111.5H307.9M353.2 1111.5H443.6M262.7 1114.5H307.9M443.6 1114.5H488.8M127.1 1115.5H172.3M443.6 1115.5H488.8M127.1 1116.5H172.3M805.2 1117.5H850.5M1031.3 1117.5H1076.5M36.7 1118.5H81.9M850.5 1118.5H895.7M1031.3 1118.5H1121.7M850.5 1120.5H895.7M714.8 1121.5H760M805.2 1121.5H850.5M986.1 1121.5H1031.3M1076.5 1121.5H1121.7M1076.5 1122.5H1121.7M36.7 1125.5H81.9M127.1 1125.5H217.5M443.6 1125.5H534M940.9 1125.5H986.1M307.9 1126.5H353.2M940.9 1126.5H986.1M217.5 1127.5H262.7M353.2 1127.5H398.4M805.2 1127.5H850.5M262.7 1128.5H307.9M36.7 1129.5H81.9M172.3 1129.5H217.5M353.2 1129.5H398.4M579.2 1131.5H624.4M850.5 1137.5H940.9M986.1 1137.5H1031.3M1076.5 1145.5H1121.7M36.7 1167.5H81.9M127.1 1167.5H172.3M307.9 1167.5H353.2M398.4 1167.5H488.8M127.1 1228.5H172.3M353.2 1228.5H443.6M127.1 1232.5H172.3M262.7 1232.5H307.9M81.9 1233.5H172.3M217.5 1233.5H262.7M307.9 1233.5H353.2M534 1233.5H579.2"/>
<path stroke="#ccccff" d="M307.9 381.5H353.2M488.8 381.5H534M36.7 386.5H81.9M127.1 386.5H353.2M398.4 386.5H443.6M127.1 387.5H172.3M307.9 387.5H353.2M36.7 388.5H81.9M127.1 388.5H307.9M488.8 388.5H534M127.1 389.5H172.3M36.7 400.5H127.1M307.9 400.5H353.2M398.4 400.5H443.6M534 400.5H579.2M127.1 401.5H172.3M262.7 401.5H353.2M36.7 402.5H81.9M217.5 402.5H262.7M307.9 402.5H353.2M262.7 403.5H353.2M172.3 404.5H217.5M262.7 404.5H307.9M353.2 404.5H398.4M172.3 405.5H307.9M443.6 405.5H488.8M217.5 407.5H262.7M488.8 407.5H534M217.5 408.5H262.7M398.4 408.5H443.6M488.8 409.5H534M81.9 412.5H172.3M262.7 412.5H307.9M488.8 412.5H534M172.3 417.5H217.5M262.7 417.5H307.9M398.4 417.5H443.6M488.8 417.5H534M127.1 418.5H172.3M307.9 418.5H353.2M488.8 418.5H534M127.1 419.5H262.7M307.9 419.5H353.2M488.8 419.5H534M579.2 420.5H805.2M940.9 420.5H986.1M1031.3 420.5H1121.7M579.2 421.5H669.6M760 421.5H850.5M895.7 421.5H940.9M986.1 421.5H1031.3M1076.5 421.5H1121.7M81.9 422.5H127.1M217.5 422.5H262.7M398.4 422.5H443.6M217.5 423.5H353.2M81.9 424.5H127.1M217.5 424.5H262.7M398.4 424.5H443.6M534 425.5H579.2M172.3 426.5H217.5M81.9 427.5H127.1M172.3 427.5H217.5M398.4 427.5H443.6M127.1 428.5H172.3M262.7 428.5H307.9M307.9 429.5H353.2M81.9 430.5H127.1M172.3 430.5H217.5M443.6 430.5H488.8M534 430.5H579.2M36.7 431.5H81.9M217.5 431.5H262.7M307.9 431.5H353.2M488.8 432.5H579.2M172.3 433.5H262.7M307.9 433.5H353.2M488.8 433.5H579.2M353.2 434.5H443.6M488.8 434.5H534M398.4 436.5H443.6M127.1 437.5H217.5M262.7 437.5H353.2M443.6 437.5H488.8M534 437.5H579.2M172.3 438.5H217.5M353.2 438.5H579.2M262.7 439.5H353.2M398.4 439.5H443.6M488.8 439.5H579.2M127.1 440.5H217.5M669.6 442.5H714.8M895.7 442.5H940.9M1031.3 442.5H1076.5M940.9 444.5H986.1M579.2 445.5H714.8M805.2 445.5H850.5M1031.3 445.5H1076.5M579.2 446.5H669.6M895.7 446.5H940.9M986.1 446.5H1031.3M895.7 450.5H940.9M1076.5 450.5H1121.7M624.4 451.5H669.6M714.8 451.5H760M940.9 451.5H986.1M714.8 453.5H805.2M895.7 453.5H940.9M1076.5 453.5H1121.7M669.6 454.5H714.8M850.5 454.5H940.9M805.2 455.5H850.5M1076.5 455.5H1121.7M714.8 456.5H760M850.5 457.5H895.7M714.8 459.5H805.2M940.9 459.5H986.1M1076.5 459.5H1121.7M805.2 461.5H850.5M579.2 462.5H624.4M1031.3 464.5H1076.5M895.7 466.5H940.9M714.8 467.5H850.5M895.7 467.5H940.9M1031.3 467.5H1076.5M579.2 468.5H624.4M805.2 470.5H850.5M940.9 470.5H986.1M805.2 471.5H850.5M895.7 472.5H940.9M850.5 473.5H895.7M760 474.5H850.5M579.2 476.5H624.4M986.1 476.5H1076.5M624.4 477.5H714.8M760 477.5H805.2M895.7 477.5H986.1M1031.3 477.5H1121.7M579.2 479.5H669.6M1031.3 479.5H1076.5M669.6 484.5H714.8M760 484.5H805.2M895.7 484.5H940.9M36.7 487.5H81.9M217.5 487.5H262.7M36.7 488.5H81.9M760 488.5H805.2M1076.5 488.5H1121.7M398.4 489.5H443.6M36.7 490.5H172.3M307.9 490.5H353.2M398.4 490.5H488.8M534 490.5H579.2M81.9 491.5H127.1M488.8 491.5H534M36.7 492.5H127.1M172.3 492.5H217.5M262.7 492.5H353.2M398.4 492.5H579.2M172.3 493.5H217.5M172.3 495.5H217.5M443.6 495.5H488.8M36.7 497.5H81.9M172.3 497.5H217.5M36.7 498.5H81.9M172.3 498.5H217.5M262.7 498.5H307.9M353.2 498.5H398.4M488.8 498.5H579.2M127.1 499.5H217.5M81.9 501.5H127.1M172.3 501.5H217.5M353.2 502.5H398.4M488.8 502.5H534M36.7 503.5H81.9M172.3 504.5H217.5M262.7 504.5H488.8M534 504.5H579.2M534 505.5H579.2M579.2 507.5H624.4M850.5 507.5H895.7M940.9 507.5H986.1M1031.3 507.5H1076.5M262.7 508.5H307.9M353.2 508.5H398.4M488.8 508.5H534M36.7 509.5H172.3M307.9 509.5H443.6M534 509.5H579.2M262.7 510.5H307.9M895.7 527.5H940.9M760 535.5H805.2M850.5 535.5H940.9M986.1 535.5H1031.3M1076.5 535.5H1121.7M714.8 537.5H760M850.5 538.5H940.9M1076.5 538.5H1121.7M624.4 636.5H669.6M579.2 637.5H624.4M669.6 637.5H805.2M940.9 637.5H986.1M1076.5 637.5H1121.7M624.4 638.5H669.6M624.4 643.5H714.8M760 643.5H805.2M940.9 643.5H1121.7M624.4 644.5H669.6M624.4 645.5H760M850.5 645.5H986.1M1031.3 645.5H1121.7M986.1 646.5H1031.3M1076.5 646.5H1121.7M986.1 653.5H1076.5M488.8 672.5H534M488.8 673.5H534M669.6 674.5H714.8M760 674.5H805.2M36.7 675.5H81.9M127.1 675.5H172.3M353.2 675.5H398.4M534 675.5H624.4M714.8 675.5H760M895.7 675.5H940.9M986.1 675.5H1031.3M172.3 678.5H262.7M307.9 678.5H353.2M307.9 679.5H398.4M624.4 679.5H669.6M760 679.5H805.2M217.5 680.5H307.9M353.2 680.5H398.4M760 680.5H805.2M262.7 681.5H307.9M398.4 681.5H443.6M760 682.5H805.2M1031.3 682.5H1076.5M36.7 683.5H172.3M217.5 683.5H307.9M172.3 685.5H217.5M307.9 685.5H353.2M81.9 688.5H127.1M217.5 688.5H262.7M443.6 688.5H488.8M986.1 688.5H1031.3M353.2 689.5H398.4M488.8 689.5H534M398.4 691.5H443.6M36.7 692.5H81.9M172.3 692.5H217.5M307.9 692.5H353.2M488.8 693.5H579.2M36.7 694.5H81.9M307.9 694.5H353.2M398.4 694.5H443.6M940.9 694.5H986.1M36.7 695.5H81.9M217.5 695.5H262.7M398.4 696.5H443.6M760 698.5H805.2M940.9 698.5H1031.3M488.8 699.5H534M217.5 701.5H262.7M534 701.5H579.2M36.7 702.5H81.9M172.3 702.5H217.5M398.4 706.5H443.6M579.2 706.5H669.6M714.8 706.5H760M1031.3 706.5H1076.5M760 709.5H805.2M986.1 709.5H1031.3M534 710.5H579.2M669.6 710.5H714.8M850.5 710.5H940.9M398.4 711.5H443.6M850.5 711.5H895.7M1076.5 711.5H1121.7M579.2 713.5H624.4M669.6 713.5H760M805.2 713.5H850.5M1031.3 713.5H1121.7M714.8 714.5H895.7M940.9 714.5H986.1M172.3 715.5H217.5M1076.5 715.5H1121.7M172.3 716.5H217.5M262.7 717.5H307.9M353.2 717.5H443.6M624.4 717.5H669.6M805.2 717.5H850.5M1076.5 717.5H1121.7M534 718.5H579.2M624.4 718.5H669.6M714.8 718.5H760M1031.3 718.5H1121.7M760 719.5H805.2M624.4 720.5H669.6M760 720.5H805.2M36.7 721.5H81.9M217.5 721.5H307.9M488.8 721.5H534M669.6 721.5H760M986.1 721.5H1076.5M579.2 722.5H624.4M714.8 722.5H760M714.8 723.5H760M1031.3 723.5H1121.7M579.2 724.5H624.4M669.6 724.5H714.8M895.7 724.5H940.9M1031.3 724.5H1121.7M714.8 725.5H760M262.7 731.5H307.9M488.8 731.5H534M262.7 740.5H307.9M669.6 740.5H714.8M895.7 740.5H940.9M1076.5 740.5H1121.7M307.9 742.5H353.2M850.5 742.5H895.7M940.9 742.5H986.1M81.9 744.5H127.1M262.7 744.5H307.9M488.8 744.5H534M398.4 746.5H443.6M805.2 750.5H850.5M669.6 751.5H714.8M805.2 751.5H850.5M624.4 752.5H669.6M714.8 752.5H760M805.2 752.5H895.7M579.2 753.5H624.4M669.6 753.5H760M805.2 753.5H850.5M895.7 753.5H940.9M986.1 753.5H1031.3M669.6 754.5H760M986.1 754.5H1031.3M307.9 755.5H353.2M579.2 755.5H624.4M986.1 755.5H1076.5M940.9 756.5H986.1M579.2 757.5H624.4M760 757.5H805.2M895.7 757.5H940.9M669.6 759.5H714.8M805.2 759.5H850.5M579.2 760.5H624.4M669.6 760.5H714.8M805.2 760.5H895.7M579.2 761.5H624.4M760 761.5H805.2M940.9 761.5H1031.3M850.5 762.5H1031.3M624.4 763.5H714.8M805.2 763.5H850.5M1031.3 763.5H1076.5M579.2 764.5H624.4M669.6 764.5H760M940.9 764.5H986.1M1031.3 764.5H1076.5M624.4 766.5H669.6M850.5 766.5H895.7M579.2 767.5H624.4M1076.5 767.5H1121.7M579.2 768.5H624.4M669.6 768.5H714.8M760 768.5H805.2M850.5 768.5H1076.5M850.5 769.5H895.7M1031.3 770.5H1076.5M579.2 771.5H624.4M714.8 771.5H760M1031.3 771.5H1076.5M579.2 772.5H714.8M760 772.5H805.2M895.7 772.5H986.1M669.6 773.5H714.8M669.6 774.5H714.8M579.2 775.5H624.4M895.7 775.5H940.9M714.8 776.5H805.2M850.5 776.5H895.7M940.9 778.5H986.1M624.4 779.5H669.6M714.8 779.5H760M805.2 779.5H850.5M895.7 779.5H940.9M760 780.5H805.2M760 782.5H805.2M1076.5 782.5H1121.7M579.2 783.5H624.4M986.1 783.5H1121.7M172.3 784.5H217.5M443.6 784.5H488.8M624.4 784.5H669.6M760 784.5H805.2M895.7 785.5H940.9M1031.3 785.5H1121.7M624.4 786.5H669.6M850.5 786.5H895.7M1031.3 786.5H1076.5M398.4 787.5H443.6M669.6 787.5H714.8M760 787.5H850.5M940.9 787.5H1076.5M262.7 788.5H307.9M488.8 788.5H534M714.8 789.5H760M895.7 789.5H940.9M1076.5 789.5H1121.7M81.9 790.5H127.1M714.8 790.5H760M805.2 790.5H850.5M895.7 790.5H940.9M1076.5 790.5H1121.7M579.2 791.5H624.4M669.6 791.5H714.8M307.9 795.5H353.2M488.8 795.5H534M36.7 797.5H127.1M217.5 797.5H262.7M443.6 797.5H488.8M443.6 798.5H488.8M81.9 799.5H172.3M217.5 799.5H307.9M353.2 799.5H443.6M488.8 799.5H579.2M127.1 800.5H172.3M398.4 800.5H443.6M488.8 800.5H579.2M81.9 801.5H127.1M398.4 801.5H488.8M81.9 803.5H127.1M217.5 804.5H262.7M398.4 804.5H443.6M488.8 804.5H534M36.7 805.5H81.9M172.3 805.5H217.5M534 805.5H579.2M36.7 806.5H81.9M172.3 806.5H217.5M307.9 806.5H353.2M488.8 806.5H534M36.7 807.5H172.3M398.4 807.5H443.6M217.5 811.5H262.7M488.8 811.5H579.2M398.4 812.5H443.6M81.9 815.5H127.1M217.5 815.5H262.7M398.4 815.5H534M624.4 815.5H669.6M81.9 816.5H127.1M172.3 816.5H217.5M488.8 816.5H534M81.9 817.5H127.1M398.4 820.5H443.6M36.7 821.5H127.1M217.5 821.5H262.7M307.9 821.5H353.2M398.4 821.5H443.6M534 821.5H579.2M488.8 825.5H534M624.4 828.5H669.6M850.5 828.5H895.7M714.8 832.5H760M940.9 840.5H986.1M669.6 844.5H714.8M127.1 846.5H172.3M488.8 846.5H534M1031.3 847.5H1076.5M624.4 848.5H714.8M895.7 848.5H940.9M1076.5 848.5H1121.7M1076.5 850.5H1121.7M669.6 851.5H714.8M895.7 851.5H940.9M1031.3 851.5H1076.5M217.5 899.5H262.7M353.2 899.5H398.4M488.8 899.5H534M172.3 900.5H217.5M353.2 908.5H398.4M127.1 909.5H172.3M488.8 911.5H534M36.7 912.5H127.1M262.7 913.5H307.9M534 915.5H579.2M579.2 920.5H624.4M714.8 920.5H760M805.2 920.5H850.5M624.4 924.5H669.6M760 925.5H805.2M669.6 926.5H714.8M805.2 926.5H850.5M579.2 927.5H624.4M895.7 927.5H940.9M1076.5 927.5H1121.7M579.2 929.5H624.4M669.6 929.5H714.8M850.5 929.5H895.7M760 930.5H805.2M1031.3 933.5H1076.5M624.4 937.5H669.6M624.4 942.5H669.6M760 943.5H805.2M624.4 944.5H669.6M895.7 944.5H940.9M1076.5 944.5H1121.7M714.8 945.5H760M760 949.5H805.2M895.7 949.5H940.9M624.4 950.5H669.6M940.9 950.5H986.1M805.2 954.5H850.5M307.9 972.5H353.2M443.6 972.5H488.8M398.4 973.5H443.6M579.2 1016.5H624.4M669.6 1016.5H714.8M895.7 1016.5H940.9M353.2 1018.5H398.4M579.2 1018.5H669.6M850.5 1018.5H895.7M1031.3 1018.5H1121.7M805.2 1030.5H850.5M986.1 1030.5H1031.3M353.2 1032.5H398.4M488.8 1032.5H534M1076.5 1032.5H1121.7M624.4 1044.5H669.6M940.9 1044.5H986.1M1076.5 1044.5H1121.7M986.1 1045.5H1076.5M895.7 1046.5H940.9M986.1 1046.5H1031.3M669.6 1054.5H760M850.5 1054.5H895.7M986.1 1054.5H1121.7M669.6 1055.5H714.8M986.1 1055.5H1031.3M579.2 1064.5H669.6M940.9 1065.5H986.1M986.1 1074.5H1031.3M624.4 1075.5H669.6M760 1075.5H805.2M895.7 1075.5H940.9M986.1 1075.5H1031.3M760 1077.5H805.2M940.9 1077.5H986.1M986.1 1079.5H1031.3M850.5 1082.5H895.7M760 1083.5H805.2M579.2 1100.5H624.4M940.9 1100.5H986.1M127.1 1101.5H172.3M488.8 1101.5H534M534 1102.5H579.2M940.9 1105.5H986.1M127.1 1107.5H172.3M81.9 1108.5H127.1M307.9 1108.5H353.2M443.6 1108.5H488.8M81.9 1111.5H127.1M443.6 1111.5H534M172.3 1112.5H217.5M398.4 1112.5H443.6M488.8 1112.5H534M624.4 1112.5H669.6M36.7 1113.5H81.9M217.5 1113.5H262.7M353.2 1113.5H398.4M307.9 1114.5H353.2M127.1 1117.5H172.3M262.7 1117.5H353.2M488.8 1117.5H534M624.4 1117.5H669.6M714.8 1117.5H760M172.3 1118.5H217.5M624.4 1118.5H669.6M714.8 1118.5H760M940.9 1118.5H986.1M217.5 1119.5H262.7M624.4 1120.5H669.6M805.2 1120.5H850.5M940.9 1120.5H986.1M1031.3 1120.5H1121.7M579.2 1121.5H669.6M760 1121.5H805.2M850.5 1121.5H986.1M81.9 1125.5H127.1M534 1125.5H579.2M1031.3 1125.5H1076.5M443.6 1126.5H488.8M624.4 1127.5H669.6M760 1127.5H805.2M850.5 1127.5H940.9M1031.3 1128.5H1076.5M760 1149.5H805.2M850.5 1149.5H986.1M36.7 1163.5H81.9M36.7 1164.5H81.9M353.2 1167.5H398.4M36.7 1232.5H81.9M36.7 1233.5H81.9"/>
<path stroke="#e6e6ff" d="M36.7 374.5H81.9M534 374.5H579.2M172.3 387.5H217.5M262.7 387.5H307.9M443.6 387.5H488.8M307.9 388.5H353.2M443.6 388.5H488.8M36.7 390.5H443.6M488.8 390.5H579.2M81.9 391.5H172.3M217.5 391.5H262.7M353.2 391.5H443.6M488.8 391.5H534M36.7 395.5H579.2M262.7 396.5H353.2M443.6 396.5H579.2M172.3 399.5H262.7M307.9 399.5H353.2M488.8 399.5H534M443.6 400.5H488.8M127.1 402.5H172.3M262.7 402.5H307.9M36.7 404.5H81.9M127.1 404.5H172.3M217.5 404.5H262.7M307.9 404.5H353.2M398.4 404.5H488.8M353.2 405.5H443.6M488.8 405.5H534M81.9 407.5H127.1M172.3 407.5H217.5M398.4 407.5H443.6M534 407.5H579.2M172.3 408.5H217.5M262.7 408.5H353.2M534 408.5H579.2M127.1 409.5H172.3M534 417.5H579.2M714.8 418.5H760M895.7 419.5H940.9M805.2 420.5H895.7M986.1 420.5H1031.3M669.6 421.5H760M850.5 421.5H895.7M940.9 421.5H986.1M1031.3 421.5H1076.5M127.1 422.5H217.5M488.8 422.5H534M81.9 423.5H217.5M398.4 423.5H443.6M488.8 423.5H534M579.2 424.5H624.4M895.7 424.5H940.9M36.7 425.5H81.9M127.1 425.5H217.5M262.7 425.5H307.9M353.2 425.5H398.4M443.6 425.5H534M217.5 428.5H262.7M398.4 428.5H488.8M36.7 429.5H81.9M353.2 429.5H398.4M262.7 430.5H307.9M488.8 430.5H534M127.1 431.5H172.3M353.2 431.5H398.4M443.6 431.5H488.8M172.3 432.5H217.5M262.7 433.5H307.9M217.5 434.5H262.7M760 435.5H805.2M1076.5 435.5H1121.7M353.2 437.5H443.6M353.2 439.5H398.4M488.8 440.5H534M895.7 441.5H940.9M1076.5 441.5H1121.7M624.4 442.5H669.6M714.8 442.5H760M850.5 444.5H940.9M1076.5 444.5H1121.7M714.8 445.5H760M1076.5 445.5H1121.7M940.9 448.5H986.1M624.4 449.5H714.8M850.5 449.5H940.9M1076.5 449.5H1121.7M624.4 450.5H714.8M850.5 450.5H895.7M579.2 453.5H624.4M805.2 453.5H850.5M1031.3 453.5H1076.5M579.2 454.5H669.6M760 454.5H850.5M1031.3 455.5H1076.5M760 457.5H850.5M895.7 457.5H940.9M624.4 458.5H669.6M986.1 458.5H1076.5M895.7 464.5H986.1M1076.5 464.5H1121.7M353.2 466.5H398.4M488.8 466.5H534M669.6 467.5H714.8M940.9 467.5H986.1M127.1 468.5H172.3M217.5 468.5H262.7M353.2 468.5H398.4M443.6 468.5H579.2M714.8 469.5H805.2M850.5 469.5H895.7M81.9 470.5H127.1M579.2 470.5H624.4M624.4 473.5H669.6M986.1 473.5H1121.7M579.2 474.5H624.4M940.9 474.5H986.1M127.1 475.5H172.3M262.7 475.5H398.4M307.9 476.5H353.2M1076.5 476.5H1121.7M127.1 477.5H172.3M805.2 477.5H850.5M986.1 477.5H1031.3M307.9 478.5H353.2M624.4 478.5H669.6M714.8 478.5H760M760 479.5H805.2M850.5 479.5H1031.3M1076.5 480.5H1121.7M940.9 483.5H986.1M579.2 484.5H624.4M805.2 484.5H850.5M986.1 484.5H1121.7M127.1 486.5H172.3M217.5 486.5H353.2M81.9 487.5H217.5M262.7 487.5H398.4M443.6 487.5H579.2M127.1 488.5H262.7M307.9 488.5H398.4M443.6 488.5H579.2M895.7 488.5H940.9M172.3 490.5H262.7M353.2 490.5H398.4M488.8 490.5H534M36.7 491.5H81.9M127.1 491.5H488.8M534 491.5H579.2M127.1 492.5H172.3M217.5 492.5H262.7M353.2 492.5H398.4M127.1 493.5H172.3M307.9 493.5H353.2M488.8 493.5H534M172.3 494.5H217.5M443.6 494.5H488.8M36.7 495.5H81.9M127.1 495.5H172.3M398.4 495.5H443.6M488.8 495.5H579.2M36.7 496.5H81.9M172.3 496.5H217.5M353.2 496.5H398.4M443.6 496.5H488.8M81.9 497.5H172.3M262.7 497.5H579.2M81.9 498.5H172.3M217.5 498.5H262.7M398.4 498.5H488.8M36.7 499.5H127.1M217.5 499.5H398.4M443.6 499.5H534M172.3 500.5H217.5M307.9 500.5H398.4M534 500.5H579.2M36.7 501.5H81.9M262.7 501.5H398.4M443.6 501.5H579.2M81.9 503.5H127.1M172.3 503.5H307.9M353.2 503.5H488.8M534 503.5H579.2M127.1 504.5H172.3M36.7 505.5H172.3M217.5 505.5H307.9M353.2 505.5H398.4M443.6 505.5H534M172.3 507.5H217.5M488.8 507.5H534M760 507.5H805.2M36.7 508.5H262.7M307.9 508.5H353.2M398.4 508.5H443.6M534 508.5H579.2M172.3 509.5H217.5M443.6 510.5H534M579.2 526.5H624.4M805.2 526.5H850.5M895.7 526.5H940.9M1076.5 526.5H1121.7M579.2 527.5H669.6M714.8 527.5H850.5M1031.3 527.5H1121.7M1031.3 535.5H1076.5M579.2 536.5H624.4M940.9 536.5H986.1M579.2 537.5H669.6M940.9 537.5H986.1M1031.3 538.5H1076.5M624.4 539.5H669.6M805.2 539.5H850.5M940.9 539.5H986.1M127.1 582.5H217.5M398.4 582.5H443.6M488.8 582.5H579.2M81.9 590.5H127.1M36.7 596.5H127.1M172.3 596.5H217.5M262.7 596.5H398.4M488.8 596.5H579.2M81.9 600.5H127.1M262.7 600.5H307.9M262.7 601.5H307.9M81.9 602.5H127.1M443.6 602.5H488.8M36.7 607.5H81.9M262.7 607.5H307.9M353.2 607.5H398.4M217.5 610.5H262.7M398.4 610.5H443.6M36.7 612.5H81.9M127.1 612.5H172.3M217.5 612.5H398.4M579.2 636.5H624.4M669.6 636.5H1121.7M805.2 637.5H850.5M895.7 637.5H940.9M986.1 637.5H1076.5M579.2 638.5H624.4M669.6 638.5H805.2M850.5 638.5H1121.7M624.4 639.5H669.6M579.2 643.5H624.4M714.8 643.5H760M805.2 643.5H940.9M714.8 644.5H1121.7M579.2 645.5H624.4M760 645.5H850.5M624.4 646.5H760M850.5 646.5H895.7M940.9 646.5H986.1M1076.5 647.5H1121.7M669.6 651.5H714.8M714.8 653.5H760M850.5 653.5H895.7M940.9 653.5H986.1M624.4 654.5H669.6M714.8 654.5H805.2M940.9 654.5H1031.3M1076.5 654.5H1121.7M986.1 660.5H1031.3M940.9 662.5H986.1M760 663.5H805.2M714.8 668.5H895.7M940.9 668.5H1031.3M1076.5 668.5H1121.7M624.4 669.5H669.6M760 672.5H805.2M1031.3 674.5H1076.5M81.9 675.5H127.1M217.5 675.5H262.7M398.4 675.5H443.6M488.8 675.5H534M805.2 675.5H850.5M488.8 678.5H534M488.8 679.5H534M940.9 679.5H986.1M172.3 680.5H217.5M307.9 680.5H353.2M488.8 680.5H534M353.2 681.5H398.4M760 681.5H805.2M488.8 682.5H534M940.9 682.5H986.1M353.2 683.5H398.4M534 683.5H579.2M307.9 684.5H353.2M127.1 685.5H172.3M307.9 688.5H353.2M127.1 689.5H172.3M217.5 689.5H262.7M443.6 689.5H488.8M398.4 692.5H443.6M81.9 693.5H172.3M172.3 695.5H217.5M398.4 695.5H443.6M81.9 697.5H127.1M488.8 698.5H624.4M805.2 698.5H850.5M1031.3 698.5H1076.5M81.9 699.5H127.1M307.9 699.5H353.2M127.1 700.5H172.3M262.7 700.5H307.9M443.6 700.5H488.8M534 700.5H579.2M36.7 706.5H81.9M579.2 709.5H624.4M669.6 709.5H714.8M805.2 709.5H850.5M624.4 710.5H669.6M579.2 711.5H624.4M1031.3 714.5H1076.5M398.4 715.5H443.6M534 715.5H579.2M262.7 716.5H307.9M217.5 717.5H262.7M534 717.5H579.2M669.6 717.5H714.8M805.2 720.5H850.5M172.3 721.5H217.5M850.5 722.5H895.7M986.1 722.5H1031.3M624.4 723.5H669.6M940.9 723.5H986.1M127.1 724.5H172.3M940.9 724.5H986.1M624.4 725.5H669.6M805.2 725.5H850.5M1076.5 730.5H1121.7M36.7 731.5H81.9M217.5 731.5H262.7M353.2 731.5H443.6M36.7 740.5H81.9M624.4 740.5H669.6M805.2 740.5H850.5M1031.3 742.5H1076.5M940.9 752.5H986.1M850.5 753.5H895.7M1031.3 753.5H1076.5M624.4 754.5H669.6M805.2 754.5H986.1M1031.3 757.5H1076.5M895.7 759.5H940.9M1031.3 759.5H1076.5M895.7 760.5H940.9M1076.5 760.5H1121.7M895.7 761.5H940.9M1076.5 761.5H1121.7M714.8 763.5H760M850.5 763.5H895.7M760 764.5H850.5M986.1 764.5H1031.3M1076.5 764.5H1121.7M624.4 765.5H669.6M714.8 766.5H760M714.8 768.5H760M1076.5 771.5H1121.7M714.8 772.5H760M850.5 772.5H895.7M1031.3 772.5H1121.7M714.8 773.5H895.7M940.9 773.5H986.1M1031.3 773.5H1121.7M579.2 774.5H624.4M624.4 775.5H895.7M986.1 775.5H1121.7M940.9 776.5H986.1M579.2 779.5H624.4M760 779.5H805.2M940.9 779.5H986.1M1031.3 779.5H1121.7M579.2 780.5H760M805.2 780.5H895.7M940.9 780.5H1121.7M1031.3 782.5H1076.5M669.6 783.5H714.8M850.5 783.5H940.9M579.2 784.5H624.4M669.6 784.5H760M850.5 784.5H895.7M986.1 786.5H1031.3M1076.5 786.5H1121.7M172.3 787.5H217.5M624.4 787.5H669.6M895.7 787.5H940.9M36.7 788.5H81.9M127.1 788.5H172.3M217.5 788.5H262.7M307.9 788.5H398.4M443.6 788.5H488.8M1076.5 788.5H1121.7M262.7 789.5H398.4M443.6 789.5H579.2M262.7 790.5H353.2M398.4 790.5H443.6M36.7 791.5H81.9M624.4 791.5H669.6M850.5 791.5H895.7M1031.3 791.5H1121.7M127.1 795.5H172.3M217.5 795.5H262.7M36.7 796.5H81.9M127.1 796.5H262.7M307.9 796.5H353.2M488.8 796.5H534M262.7 797.5H353.2M398.4 797.5H443.6M488.8 797.5H534M172.3 799.5H217.5M307.9 799.5H353.2M443.6 799.5H488.8M36.7 800.5H127.1M217.5 800.5H307.9M443.6 800.5H488.8M81.9 804.5H172.3M262.7 804.5H307.9M217.5 805.5H262.7M307.9 805.5H353.2M443.6 805.5H534M127.1 806.5H172.3M262.7 806.5H307.9M398.4 806.5H488.8M172.3 807.5H353.2M443.6 807.5H488.8M443.6 812.5H488.8M534 812.5H579.2M217.5 816.5H262.7M534 816.5H579.2M353.2 820.5H398.4M172.3 821.5H217.5M262.7 821.5H307.9M353.2 821.5H398.4M443.6 821.5H534M353.2 825.5H398.4M534 825.5H579.2M579.2 828.5H624.4M714.8 828.5H760M895.7 828.5H940.9M986.1 828.5H1031.3M1076.5 828.5H1121.7M1031.3 844.5H1076.5M217.5 846.5H262.7M1031.3 848.5H1076.5M1076.5 851.5H1121.7M443.6 880.5H488.8M127.1 899.5H172.3M262.7 899.5H307.9M443.6 899.5H488.8M534 899.5H579.2M488.8 912.5H579.2M81.9 915.5H127.1M624.4 920.5H669.6M760 920.5H805.2M1031.3 920.5H1076.5M760 923.5H805.2M1031.3 923.5H1076.5M1031.3 926.5H1076.5M669.6 927.5H714.8M760 927.5H850.5M1031.3 927.5H1076.5M805.2 930.5H850.5M805.2 942.5H850.5M805.2 943.5H850.5M1031.3 943.5H1076.5M579.2 944.5H624.4M669.6 944.5H714.8M940.9 944.5H1031.3M805.2 949.5H850.5M986.1 949.5H1031.3M850.5 950.5H895.7M850.5 976.5H895.7M624.4 1030.5H669.6M624.4 1032.5H669.6M714.8 1032.5H760M805.2 1032.5H895.7M986.1 1032.5H1031.3M1031.3 1043.5H1076.5M760 1044.5H805.2M850.5 1044.5H895.7M669.6 1046.5H714.8M579.2 1054.5H624.4M895.7 1054.5H940.9M850.5 1055.5H895.7M714.8 1064.5H760M850.5 1064.5H940.9M669.6 1075.5H760M805.2 1080.5H850.5M127.1 1108.5H172.3M262.7 1112.5H398.4M81.9 1113.5H217.5M398.4 1113.5H443.6M488.8 1113.5H534M127.1 1114.5H172.3M353.2 1118.5H398.4M534 1118.5H579.2M805.2 1118.5H850.5M81.9 1119.5H127.1M353.2 1119.5H443.6M172.3 1120.5H262.7M398.4 1120.5H443.6M127.1 1121.5H217.5M353.2 1121.5H488.8M534 1121.5H579.2M1031.3 1121.5H1076.5M217.5 1125.5H307.9M353.2 1125.5H398.4M986.1 1127.5H1031.3M262.7 1129.5H307.9M488.8 1129.5H534M805.2 1149.5H850.5M36.7 1228.5H81.9"/>
<path stroke="#ffffff" d="M127.1 364.5H172.3M36.7 370.5H262.7M307.9 370.5H443.6M534 370.5H579.2M36.7 371.5H579.2M36.7 372.5H262.7M307.9 372.5H488.8M534 372.5H579.2M36.7 373.5H398.4M488.8 373.5H579.2M81.9 374.5H534M36.7 375.5H217.5M262.7 375.5H443.6M534 375.5H579.2M36.7 376.5H172.3M217.5 376.5H262.7M353.2 376.5H488.8M534 376.5H579.2M36.7 377.5H81.9M127.1 377.5H172.3M398.4 377.5H443.6M534 377.5H579.2M36.7 378.5H579.2M398.4 379.5H443.6M443.6 390.5H488.8M36.7 391.5H81.9M172.3 391.5H217.5M262.7 391.5H353.2M443.6 391.5H488.8M534 391.5H579.2M36.7 392.5H579.2M81.9 393.5H127.1M217.5 393.5H262.7M398.4 393.5H443.6M488.8 393.5H579.2M36.7 394.5H127.1M217.5 394.5H262.7M398.4 394.5H443.6M579.2 395.5H850.5M940.9 395.5H986.1M1031.3 395.5H1076.5M36.7 396.5H127.1M172.3 396.5H262.7M398.4 396.5H443.6M940.9 396.5H986.1M81.9 397.5H127.1M398.4 397.5H443.6M488.8 397.5H534M36.7 398.5H217.5M262.7 398.5H579.2M36.7 399.5H172.3M262.7 399.5H307.9M353.2 399.5H488.8M534 399.5H579.2M488.8 404.5H579.2M127.1 405.5H172.3M307.9 405.5H353.2M534 405.5H579.2M81.9 408.5H127.1M443.6 408.5H534M127.1 417.5H172.3M579.2 418.5H714.8M760 418.5H850.5M895.7 418.5H1076.5M579.2 419.5H850.5M1031.3 419.5H1121.7M579.2 422.5H669.6M760 422.5H850.5M895.7 422.5H940.9M986.1 422.5H1031.3M1076.5 422.5H1121.7M895.7 423.5H940.9M624.4 424.5H669.6M760 424.5H805.2M850.5 424.5H895.7M940.9 424.5H986.1M1076.5 424.5H1121.7M217.5 425.5H262.7M307.9 425.5H353.2M398.4 425.5H443.6M624.4 425.5H669.6M760 425.5H805.2M805.2 427.5H850.5M81.9 428.5H127.1M488.8 428.5H534M895.7 428.5H940.9M217.5 429.5H307.9M443.6 429.5H488.8M534 429.5H579.2M398.4 430.5H443.6M81.9 431.5H127.1M262.7 431.5H307.9M760 432.5H805.2M850.5 432.5H940.9M1076.5 432.5H1121.7M624.4 433.5H669.6M895.7 433.5H940.9M986.1 433.5H1031.3M1076.5 433.5H1121.7M579.2 435.5H760M850.5 435.5H940.9M986.1 435.5H1031.3M488.8 436.5H534M217.5 437.5H262.7M217.5 440.5H353.2M398.4 440.5H443.6M534 440.5H579.2M760 441.5H805.2M1031.3 441.5H1076.5M579.2 444.5H669.6M1031.3 444.5H1076.5M895.7 445.5H940.9M714.8 449.5H805.2M940.9 449.5H986.1M1031.3 449.5H1076.5M714.8 450.5H850.5M1031.3 450.5H1076.5M940.9 453.5H986.1M940.9 454.5H986.1M1031.3 454.5H1076.5M714.8 455.5H760M81.9 456.5H127.1M579.2 457.5H624.4M714.8 457.5H760M1031.3 457.5H1121.7M669.6 458.5H714.8M760 458.5H940.9M579.2 464.5H624.4M36.7 465.5H81.9M127.1 465.5H217.5M307.9 465.5H398.4M534 465.5H579.2M36.7 466.5H353.2M443.6 466.5H488.8M534 466.5H579.2M534 467.5H579.2M81.9 468.5H127.1M172.3 468.5H217.5M262.7 468.5H307.9M307.9 469.5H398.4M488.8 469.5H534M1031.3 469.5H1076.5M127.1 470.5H398.4M443.6 470.5H579.2M81.9 471.5H217.5M262.7 471.5H307.9M488.8 471.5H534M127.1 472.5H172.3M488.8 472.5H534M669.6 472.5H714.8M805.2 472.5H850.5M579.2 473.5H624.4M714.8 473.5H760M81.9 474.5H127.1M307.9 474.5H398.4M36.7 475.5H127.1M172.3 475.5H262.7M398.4 475.5H579.2M36.7 476.5H172.3M217.5 476.5H307.9M353.2 476.5H398.4M443.6 476.5H534M36.7 477.5H127.1M172.3 477.5H579.2M81.9 478.5H307.9M353.2 478.5H398.4M534 478.5H579.2M850.5 478.5H895.7M1031.3 478.5H1076.5M1076.5 479.5H1121.7M307.9 480.5H353.2M307.9 482.5H353.2M624.4 484.5H669.6M36.7 486.5H127.1M172.3 486.5H217.5M353.2 486.5H579.2M398.4 487.5H443.6M81.9 488.5H127.1M262.7 488.5H307.9M398.4 488.5H443.6M262.7 490.5H307.9M36.7 493.5H127.1M217.5 493.5H307.9M353.2 493.5H488.8M534 493.5H579.2M36.7 494.5H81.9M127.1 494.5H172.3M217.5 494.5H262.7M353.2 494.5H443.6M488.8 494.5H579.2M81.9 495.5H127.1M217.5 495.5H398.4M217.5 496.5H307.9M398.4 496.5H443.6M488.8 496.5H579.2M217.5 497.5H262.7M307.9 498.5H353.2M398.4 499.5H443.6M534 499.5H579.2M36.7 500.5H172.3M217.5 500.5H307.9M398.4 500.5H534M127.1 501.5H172.3M217.5 501.5H262.7M398.4 501.5H443.6M127.1 503.5H172.3M307.9 503.5H353.2M488.8 503.5H534M172.3 505.5H217.5M307.9 505.5H353.2M398.4 505.5H443.6M36.7 506.5H81.9M443.6 506.5H488.8M36.7 507.5H172.3M262.7 507.5H307.9M353.2 507.5H398.4M443.6 507.5H488.8M534 507.5H579.2M36.7 510.5H262.7M307.9 510.5H443.6M940.9 523.5H986.1M579.2 525.5H624.4M805.2 525.5H850.5M1031.3 525.5H1076.5M624.4 526.5H714.8M760 526.5H805.2M850.5 526.5H895.7M940.9 526.5H1076.5M669.6 527.5H714.8M850.5 527.5H895.7M940.9 527.5H1031.3M624.4 530.5H669.6M714.8 530.5H760M940.9 530.5H1031.3M1076.5 530.5H1121.7M579.2 531.5H624.4M805.2 531.5H850.5M624.4 532.5H714.8M805.2 532.5H850.5M895.7 532.5H986.1M1031.3 532.5H1121.7M624.4 533.5H714.8M850.5 533.5H986.1M1076.5 533.5H1121.7M624.4 536.5H940.9M986.1 536.5H1121.7M669.6 537.5H714.8M760 537.5H850.5M895.7 537.5H940.9M986.1 537.5H1031.3M1076.5 537.5H1121.7M579.2 539.5H624.4M669.6 539.5H760M895.7 539.5H940.9M986.1 539.5H1031.3M1076.5 539.5H1121.7M36.7 582.5H81.9M217.5 582.5H398.4M443.6 582.5H488.8M81.9 583.5H217.5M262.7 583.5H307.9M353.2 583.5H579.2M127.1 584.5H217.5M262.7 584.5H307.9M353.2 584.5H488.8M534 584.5H579.2M127.1 585.5H217.5M127.1 586.5H262.7M398.4 586.5H443.6M488.8 586.5H534M127.1 587.5H307.9M443.6 587.5H488.8M36.7 590.5H81.9M127.1 590.5H398.4M443.6 590.5H488.8M534 590.5H579.2M81.9 591.5H172.3M262.7 591.5H353.2M81.9 592.5H127.1M262.7 592.5H307.9M353.2 593.5H398.4M81.9 594.5H127.1M353.2 594.5H398.4M36.7 595.5H127.1M262.7 595.5H488.8M127.1 596.5H172.3M217.5 596.5H262.7M398.4 596.5H488.8M81.9 597.5H127.1M262.7 597.5H307.9M353.2 597.5H579.2M262.7 598.5H307.9M534 598.5H579.2M81.9 599.5H127.1M262.7 599.5H307.9M353.2 599.5H443.6M36.7 600.5H81.9M127.1 600.5H262.7M307.9 600.5H579.2M36.7 601.5H262.7M307.9 601.5H579.2M36.7 602.5H81.9M127.1 602.5H443.6M488.8 602.5H579.2M36.7 603.5H172.3M262.7 603.5H307.9M398.4 603.5H579.2M127.1 604.5H172.3M262.7 604.5H353.2M398.4 604.5H443.6M488.8 604.5H534M36.7 605.5H262.7M307.9 605.5H579.2M36.7 606.5H127.1M217.5 606.5H262.7M353.2 606.5H534M81.9 607.5H262.7M307.9 607.5H353.2M398.4 607.5H579.2M81.9 608.5H127.1M262.7 608.5H307.9M353.2 608.5H398.4M443.6 608.5H488.8M36.7 610.5H217.5M262.7 610.5H398.4M443.6 610.5H579.2M36.7 611.5H172.3M217.5 611.5H307.9M353.2 611.5H534M81.9 612.5H127.1M172.3 612.5H217.5M398.4 612.5H579.2M307.9 613.5H353.2M398.4 613.5H443.6M488.8 613.5H534M398.4 614.5H443.6M940.9 617.5H986.1M940.9 618.5H986.1M940.9 623.5H986.1M714.8 626.5H805.2M940.9 626.5H1076.5M624.4 627.5H669.6M805.2 627.5H850.5M895.7 627.5H1121.7M1076.5 628.5H1121.7M624.4 634.5H714.8M850.5 634.5H895.7M986.1 634.5H1031.3M805.2 638.5H850.5M579.2 639.5H624.4M669.6 639.5H1121.7M624.4 640.5H850.5M1031.3 640.5H1076.5M624.4 641.5H669.6M714.8 641.5H760M624.4 642.5H669.6M850.5 642.5H895.7M940.9 642.5H1076.5M579.2 644.5H624.4M669.6 644.5H714.8M760 646.5H850.5M895.7 646.5H940.9M1031.3 646.5H1076.5M760 647.5H805.2M850.5 647.5H1031.3M624.4 648.5H805.2M850.5 648.5H1121.7M624.4 649.5H760M805.2 649.5H1076.5M624.4 650.5H805.2M850.5 650.5H895.7M940.9 650.5H1121.7M714.8 651.5H805.2M850.5 651.5H1121.7M669.6 652.5H714.8M850.5 652.5H895.7M940.9 652.5H1076.5M579.2 653.5H714.8M760 653.5H850.5M895.7 653.5H940.9M1076.5 653.5H1121.7M579.2 654.5H624.4M669.6 654.5H714.8M805.2 654.5H940.9M1031.3 654.5H1076.5M624.4 655.5H805.2M850.5 655.5H895.7M940.9 655.5H1121.7M986.1 656.5H1031.3M1076.5 658.5H1121.7M579.2 660.5H895.7M940.9 660.5H986.1M1031.3 660.5H1121.7M714.8 661.5H850.5M940.9 661.5H1076.5M714.8 662.5H940.9M986.1 662.5H1076.5M940.9 663.5H986.1M669.6 667.5H805.2M850.5 667.5H895.7M940.9 667.5H1121.7M579.2 668.5H624.4M669.6 668.5H714.8M895.7 668.5H940.9M1031.3 668.5H1076.5M172.3 675.5H217.5M262.7 675.5H353.2M760 675.5H805.2M1031.3 675.5H1076.5M307.9 681.5H353.2M488.8 681.5H534M307.9 683.5H353.2M398.4 683.5H443.6M398.4 685.5H443.6M172.3 688.5H217.5M398.4 688.5H443.6M36.7 689.5H81.9M307.9 689.5H353.2M172.3 693.5H262.7M307.9 693.5H353.2M443.6 693.5H488.8M353.2 697.5H398.4M81.9 698.5H127.1M262.7 698.5H398.4M624.4 698.5H669.6M895.7 698.5H940.9M127.1 699.5H172.3M353.2 699.5H398.4M534 699.5H579.2M307.9 700.5H353.2M172.3 706.5H217.5M850.5 709.5H895.7M579.2 710.5H624.4M895.7 715.5H940.9M1031.3 717.5H1076.5M805.2 718.5H850.5M805.2 719.5H850.5M1031.3 719.5H1076.5M579.2 721.5H669.6M760 722.5H805.2M940.9 722.5H986.1M1031.3 722.5H1121.7M669.6 723.5H714.8M760 723.5H895.7M760 724.5H805.2M940.9 740.5H1031.3M940.9 753.5H986.1M579.2 754.5H624.4M1076.5 754.5H1121.7M940.9 759.5H986.1M1076.5 759.5H1121.7M760 760.5H805.2M940.9 760.5H1076.5M760 762.5H805.2M1076.5 762.5H1121.7M579.2 763.5H624.4M895.7 763.5H1031.3M1076.5 763.5H1121.7M895.7 764.5H940.9M760 766.5H850.5M895.7 766.5H940.9M986.1 766.5H1031.3M1076.5 766.5H1121.7M1076.5 768.5H1121.7M624.4 773.5H669.6M895.7 773.5H940.9M986.1 773.5H1031.3M624.4 774.5H669.6M805.2 774.5H850.5M940.9 775.5H986.1M895.7 780.5H940.9M895.7 784.5H940.9M986.1 784.5H1121.7M760 786.5H805.2M895.7 786.5H940.9M579.2 787.5H624.4M714.8 787.5H760M1076.5 787.5H1121.7M81.9 788.5H127.1M172.3 788.5H217.5M36.7 789.5H262.7M488.8 791.5H534M940.9 791.5H986.1M36.7 795.5H81.9M172.3 795.5H217.5M443.6 795.5H488.8M81.9 796.5H127.1M398.4 796.5H488.8M534 796.5H579.2M127.1 797.5H172.3M353.2 797.5H398.4M307.9 800.5H353.2M217.5 801.5H262.7M81.9 805.5H172.3M262.7 805.5H307.9M81.9 806.5H127.1M217.5 806.5H262.7M217.5 825.5H262.7M172.3 899.5H217.5M398.4 899.5H443.6M669.6 920.5H714.8M850.5 920.5H895.7M986.1 920.5H1031.3M1031.3 929.5H1121.7M714.8 941.5H760M669.6 943.5H760M805.2 944.5H850.5M714.8 949.5H760M579.2 950.5H624.4M1031.3 950.5H1121.7M262.7 972.5H307.9M398.4 972.5H443.6M172.3 1018.5H217.5M895.7 1018.5H940.9M760 1032.5H805.2M669.6 1043.5H714.8M669.6 1044.5H760M895.7 1044.5H940.9M805.2 1054.5H850.5M940.9 1054.5H986.1M579.2 1055.5H669.6M1031.3 1055.5H1121.7M805.2 1075.5H850.5M624.4 1083.5H669.6M986.1 1083.5H1031.3M127.1 1111.5H172.3M81.9 1112.5H172.3M262.7 1113.5H307.9M443.6 1113.5H488.8M81.9 1118.5H127.1M217.5 1118.5H262.7M443.6 1118.5H488.8M172.3 1119.5H217.5M262.7 1119.5H307.9M443.6 1119.5H534M36.7 1120.5H81.9M127.1 1120.5H172.3M262.7 1120.5H307.9M534 1120.5H579.2M36.7 1121.5H127.1M488.8 1121.5H534M36.7 1126.5H81.9M172.3 1126.5H307.9M353.2 1126.5H443.6M488.8 1126.5H579.2M579.2 1127.5H624.4M714.8 1127.5H760"/>
<path stroke="#ffe6e6" d="M217.5 356.5H262.7M36.7 357.5H81.9M127.1 357.5H172.3M217.5 357.5H262.7M307.9 357.5H353.2M534 357.5H579.2M36.7 358.5H81.9M36.7 360.5H81.9M127.1 360.5H172.3M217.5 360.5H307.9M443.6 360.5H488.8M36.7 361.5H81.9M127.1 361.5H353.2M443.6 361.5H488.8M534 361.5H579.2M534 362.5H579.2M36.7 363.5H81.9M127.1 363.5H172.3M217.5 363.5H262.7M307.9 363.5H353.2M443.6 363.5H488.8M534 363.5H579.2M36.7 364.5H127.1M172.3 364.5H579.2M36.7 365.5H81.9M172.3 365.5H217.5M353.2 365.5H398.4M534 365.5H579.2M36.7 366.5H488.8M534 366.5H579.2M36.7 367.5H172.3M217.5 367.5H579.2M81.9 368.5H127.1M353.2 368.5H443.6M534 368.5H579.2M127.1 369.5H217.5M353.2 369.5H398.4M534 369.5H579.2M262.7 370.5H307.9M443.6 370.5H534M262.7 372.5H307.9M488.8 372.5H534M398.4 373.5H488.8M217.5 375.5H262.7M443.6 375.5H534M172.3 376.5H217.5M262.7 376.5H353.2M488.8 376.5H534M81.9 377.5H127.1M172.3 377.5H398.4M443.6 377.5H534M36.7 379.5H398.4M443.6 379.5H579.2M579.2 389.5H895.7M940.9 389.5H1031.3M1076.5 389.5H1121.7M714.8 391.5H805.2M36.7 393.5H81.9M127.1 393.5H217.5M262.7 393.5H398.4M443.6 393.5H488.8M579.2 393.5H624.4M669.6 393.5H850.5M895.7 393.5H940.9M1031.3 393.5H1121.7M127.1 394.5H217.5M262.7 394.5H398.4M443.6 394.5H624.4M714.8 394.5H760M940.9 394.5H986.1M1031.3 394.5H1076.5M850.5 395.5H940.9M986.1 395.5H1031.3M1076.5 395.5H1121.7M127.1 396.5H172.3M353.2 396.5H398.4M579.2 396.5H895.7M986.1 396.5H1121.7M36.7 397.5H81.9M127.1 397.5H398.4M443.6 397.5H488.8M534 397.5H624.4M669.6 397.5H714.8M850.5 397.5H895.7M940.9 397.5H986.1M217.5 398.5H262.7M669.6 398.5H714.8M760 398.5H805.2M850.5 398.5H895.7M353.2 402.5H398.4M579.2 406.5H624.4M714.8 406.5H760M986.1 406.5H1031.3M127.1 407.5H172.3M986.1 413.5H1031.3M714.8 414.5H760M850.5 418.5H895.7M1076.5 418.5H1121.7M850.5 419.5H895.7M940.9 419.5H1031.3M669.6 422.5H760M850.5 422.5H895.7M940.9 422.5H986.1M1031.3 422.5H1076.5M579.2 423.5H669.6M760 423.5H850.5M1076.5 423.5H1121.7M669.6 424.5H760M805.2 424.5H850.5M986.1 424.5H1076.5M81.9 425.5H127.1M579.2 425.5H624.4M669.6 425.5H714.8M805.2 425.5H940.9M1031.3 425.5H1121.7M805.2 426.5H850.5M895.7 426.5H940.9M624.4 427.5H669.6M714.8 427.5H805.2M850.5 427.5H940.9M1076.5 427.5H1121.7M172.3 428.5H217.5M579.2 428.5H669.6M714.8 428.5H895.7M986.1 428.5H1031.3M1076.5 428.5H1121.7M81.9 429.5H172.3M488.8 429.5H534M714.8 429.5H760M805.2 429.5H850.5M895.7 429.5H940.9M986.1 429.5H1031.3M624.4 430.5H714.8M895.7 430.5H940.9M1076.5 430.5H1121.7M1076.5 431.5H1121.7M579.2 432.5H760M805.2 432.5H850.5M986.1 432.5H1076.5M579.2 433.5H624.4M669.6 433.5H895.7M940.9 433.5H986.1M1031.3 433.5H1076.5M579.2 434.5H669.6M714.8 434.5H805.2M850.5 434.5H1121.7M805.2 435.5H850.5M940.9 435.5H986.1M1031.3 435.5H1076.5M579.2 436.5H624.4M669.6 436.5H714.8M760 436.5H805.2M850.5 436.5H940.9M986.1 436.5H1031.3M1076.5 436.5H1121.7M488.8 437.5H534M579.2 437.5H624.4M1076.5 437.5H1121.7M624.4 438.5H669.6M1031.3 438.5H1076.5M353.2 440.5H398.4M669.6 441.5H714.8M805.2 441.5H895.7M940.9 441.5H986.1M986.1 442.5H1031.3M36.7 444.5H262.7M307.9 444.5H353.2M398.4 444.5H488.8M534 444.5H579.2M669.6 444.5H760M805.2 444.5H850.5M986.1 445.5H1031.3M81.9 447.5H127.1M443.6 447.5H488.8M81.9 448.5H172.3M534 448.5H579.2M579.2 449.5H624.4M805.2 449.5H850.5M986.1 449.5H1031.3M579.2 450.5H624.4M940.9 450.5H986.1M262.7 451.5H307.9M534 451.5H579.2M488.8 452.5H534M1076.5 454.5H1121.7M36.7 455.5H127.1M488.8 455.5H579.2M36.7 456.5H81.9M353.2 456.5H443.6M488.8 456.5H579.2M81.9 457.5H127.1M940.9 457.5H986.1M940.9 458.5H986.1M36.7 459.5H127.1M217.5 459.5H307.9M353.2 459.5H443.6M488.8 459.5H579.2M81.9 465.5H127.1M217.5 465.5H307.9M398.4 465.5H534M398.4 466.5H443.6M36.7 467.5H398.4M443.6 467.5H534M36.7 468.5H81.9M307.9 468.5H353.2M398.4 468.5H443.6M81.9 469.5H307.9M443.6 469.5H488.8M534 469.5H579.2M669.6 469.5H714.8M805.2 469.5H850.5M895.7 469.5H940.9M1076.5 469.5H1121.7M36.7 470.5H81.9M398.4 470.5H443.6M36.7 471.5H81.9M217.5 471.5H262.7M307.9 471.5H488.8M534 471.5H579.2M81.9 472.5H127.1M172.3 472.5H488.8M534 472.5H579.2M534 473.5H579.2M669.6 473.5H714.8M760 473.5H850.5M895.7 473.5H986.1M36.7 474.5H81.9M127.1 474.5H307.9M398.4 474.5H579.2M172.3 476.5H217.5M398.4 476.5H443.6M534 476.5H579.2M36.7 478.5H81.9M398.4 478.5H534M579.2 478.5H624.4M669.6 478.5H714.8M805.2 478.5H850.5M895.7 478.5H940.9M1076.5 478.5H1121.7M36.7 479.5H217.5M307.9 479.5H353.2M443.6 479.5H488.8M534 479.5H579.2M172.3 480.5H217.5M443.6 480.5H488.8M534 480.5H579.2M36.7 482.5H81.9M127.1 482.5H172.3M217.5 482.5H307.9M353.2 482.5H579.2M940.9 484.5H986.1M127.1 485.5H172.3M217.5 485.5H262.7M307.9 485.5H353.2M534 485.5H579.2M81.9 494.5H127.1M262.7 494.5H353.2M81.9 496.5H172.3M307.9 496.5H353.2M81.9 506.5H127.1M172.3 506.5H307.9M353.2 506.5H443.6M488.8 506.5H579.2M217.5 507.5H262.7M307.9 507.5H353.2M398.4 507.5H443.6M534 510.5H579.2M940.9 514.5H986.1M805.2 518.5H850.5M895.7 518.5H940.9M805.2 521.5H850.5M579.2 523.5H940.9M986.1 523.5H1121.7M579.2 524.5H624.4M850.5 524.5H895.7M1031.3 524.5H1076.5M624.4 525.5H805.2M850.5 525.5H1031.3M1076.5 525.5H1121.7M714.8 526.5H760M579.2 528.5H760M805.2 528.5H850.5M895.7 528.5H940.9M986.1 528.5H1121.7M579.2 529.5H850.5M895.7 529.5H1031.3M1076.5 529.5H1121.7M579.2 530.5H624.4M669.6 530.5H714.8M760 530.5H940.9M1031.3 530.5H1076.5M669.6 531.5H714.8M760 531.5H805.2M895.7 531.5H1121.7M579.2 532.5H624.4M714.8 532.5H805.2M850.5 532.5H895.7M986.1 532.5H1031.3M579.2 533.5H624.4M714.8 533.5H850.5M986.1 533.5H1076.5M579.2 534.5H805.2M850.5 534.5H1031.3M1076.5 534.5H1121.7M850.5 537.5H895.7M1031.3 537.5H1076.5M760 539.5H805.2M850.5 539.5H895.7M1031.3 539.5H1076.5M714.8 542.5H760M714.8 550.5H760M895.7 550.5H940.9M714.8 560.5H805.2M624.4 561.5H669.6M714.8 561.5H760M805.2 561.5H850.5M895.7 561.5H940.9M805.2 562.5H850.5M940.9 562.5H986.1M81.9 582.5H127.1M36.7 583.5H81.9M217.5 583.5H262.7M307.9 583.5H353.2M36.7 584.5H127.1M217.5 584.5H262.7M307.9 584.5H353.2M488.8 584.5H534M36.7 585.5H127.1M217.5 585.5H307.9M353.2 585.5H579.2M36.7 586.5H127.1M262.7 586.5H307.9M353.2 586.5H398.4M443.6 586.5H488.8M534 586.5H579.2M36.7 587.5H127.1M307.9 587.5H443.6M488.8 587.5H579.2M81.9 588.5H217.5M398.4 588.5H579.2M398.4 590.5H443.6M488.8 590.5H534M36.7 591.5H81.9M172.3 591.5H262.7M353.2 591.5H579.2M36.7 592.5H81.9M127.1 592.5H262.7M307.9 592.5H443.6M534 592.5H579.2M36.7 593.5H127.1M172.3 593.5H307.9M398.4 593.5H443.6M488.8 593.5H534M36.7 594.5H81.9M127.1 594.5H353.2M398.4 594.5H579.2M127.1 595.5H262.7M488.8 595.5H579.2M36.7 597.5H81.9M127.1 597.5H262.7M307.9 597.5H353.2M36.7 598.5H127.1M172.3 598.5H217.5M307.9 598.5H488.8M36.7 599.5H81.9M127.1 599.5H262.7M307.9 599.5H353.2M443.6 599.5H579.2M172.3 603.5H262.7M307.9 603.5H398.4M36.7 604.5H127.1M172.3 604.5H262.7M353.2 604.5H398.4M443.6 604.5H488.8M534 604.5H579.2M262.7 605.5H307.9M127.1 606.5H217.5M262.7 606.5H353.2M534 606.5H579.2M36.7 608.5H81.9M127.1 608.5H262.7M307.9 608.5H353.2M398.4 608.5H443.6M488.8 608.5H534M36.7 609.5H172.3M217.5 609.5H488.8M172.3 611.5H217.5M307.9 611.5H353.2M534 611.5H579.2M36.7 613.5H307.9M353.2 613.5H398.4M443.6 613.5H488.8M534 613.5H579.2M36.7 614.5H398.4M443.6 614.5H534M579.2 614.5H895.7M940.9 614.5H1121.7M940.9 615.5H986.1M1076.5 615.5H1121.7M579.2 616.5H805.2M940.9 616.5H986.1M1076.5 616.5H1121.7M579.2 617.5H940.9M986.1 617.5H1121.7M669.6 618.5H714.8M760 618.5H940.9M1031.3 618.5H1121.7M669.6 620.5H714.8M760 620.5H850.5M940.9 620.5H1121.7M940.9 621.5H986.1M1031.3 621.5H1076.5M760 622.5H805.2M1031.3 622.5H1076.5M579.2 623.5H940.9M986.1 623.5H1121.7M760 624.5H805.2M714.8 625.5H895.7M940.9 625.5H1076.5M579.2 626.5H714.8M805.2 626.5H940.9M1076.5 626.5H1121.7M579.2 627.5H624.4M669.6 627.5H805.2M850.5 627.5H895.7M579.2 628.5H1076.5M940.9 629.5H986.1M624.4 630.5H760M805.2 630.5H986.1M1031.3 630.5H1076.5M624.4 632.5H669.6M940.9 632.5H986.1M624.4 633.5H714.8M760 633.5H805.2M850.5 633.5H895.7M579.2 634.5H624.4M714.8 634.5H850.5M895.7 634.5H986.1M1031.3 634.5H1121.7M624.4 635.5H669.6M714.8 635.5H805.2M850.5 635.5H1031.3M579.2 640.5H624.4M850.5 640.5H1031.3M1076.5 640.5H1121.7M579.2 641.5H624.4M669.6 641.5H714.8M760 641.5H1031.3M1076.5 641.5H1121.7M579.2 642.5H624.4M669.6 642.5H850.5M895.7 642.5H940.9M1076.5 642.5H1121.7M36.7 644.5H81.9M172.3 645.5H217.5M534 646.5H624.4M624.4 647.5H760M805.2 647.5H850.5M1031.3 647.5H1076.5M579.2 648.5H624.4M805.2 648.5H850.5M579.2 649.5H624.4M760 649.5H805.2M1076.5 649.5H1121.7M36.7 650.5H127.1M217.5 650.5H262.7M353.2 650.5H443.6M579.2 650.5H624.4M805.2 650.5H850.5M895.7 650.5H940.9M36.7 651.5H127.1M172.3 651.5H217.5M353.2 651.5H398.4M488.8 651.5H534M579.2 651.5H669.6M805.2 651.5H850.5M307.9 652.5H353.2M579.2 652.5H669.6M714.8 652.5H850.5M895.7 652.5H940.9M1076.5 652.5H1121.7M36.7 653.5H127.1M217.5 653.5H353.2M398.4 653.5H534M579.2 655.5H624.4M805.2 655.5H850.5M895.7 655.5H940.9M217.5 656.5H262.7M624.4 656.5H805.2M850.5 656.5H895.7M940.9 656.5H986.1M1031.3 656.5H1076.5M624.4 657.5H669.6M714.8 657.5H760M850.5 657.5H895.7M940.9 657.5H1031.3M624.4 658.5H1076.5M579.2 659.5H624.4M669.6 659.5H805.2M850.5 659.5H895.7M940.9 659.5H1121.7M895.7 660.5H940.9M579.2 661.5H714.8M850.5 661.5H940.9M1076.5 661.5H1121.7M579.2 662.5H714.8M1076.5 662.5H1121.7M579.2 663.5H760M805.2 663.5H940.9M986.1 663.5H1121.7M940.9 664.5H986.1M1031.3 664.5H1076.5M579.2 665.5H624.4M669.6 665.5H714.8M760 665.5H895.7M940.9 665.5H1121.7M760 666.5H805.2M850.5 666.5H895.7M940.9 666.5H1121.7M579.2 667.5H669.6M805.2 667.5H850.5M895.7 667.5H940.9M624.4 668.5H669.6M172.3 683.5H217.5M488.8 683.5H534M172.3 689.5H217.5M398.4 689.5H443.6M36.7 693.5H81.9M398.4 693.5H443.6M217.5 697.5H262.7M443.6 697.5H534M36.7 698.5H81.9M443.6 698.5H488.8M172.3 699.5H307.9M217.5 700.5H262.7M624.4 709.5H669.6M262.7 715.5H307.9M850.5 715.5H895.7M986.1 715.5H1031.3M760 721.5H805.2M624.4 722.5H714.8M805.2 724.5H850.5M1031.3 754.5H1076.5M760 763.5H805.2M986.1 765.5H1031.3M579.2 766.5H624.4M669.6 766.5H714.8M940.9 766.5H986.1M1031.3 766.5H1076.5M714.8 774.5H805.2M850.5 774.5H895.7M986.1 774.5H1121.7M986.1 779.5H1031.3M714.8 781.5H760M850.5 781.5H895.7M986.1 781.5H1076.5M398.4 788.5H443.6M398.4 789.5H443.6M172.3 791.5H353.2M534 791.5H579.2M760 791.5H850.5M895.7 791.5H940.9M986.1 791.5H1031.3M81.9 795.5H127.1M262.7 795.5H307.9M353.2 795.5H443.6M262.7 796.5H307.9M940.9 848.5H986.1M81.9 899.5H127.1M127.1 912.5H172.3M895.7 920.5H940.9M760 929.5H805.2M895.7 929.5H940.9M714.8 944.5H805.2M1031.3 944.5H1076.5M714.8 1055.5H760M940.9 1055.5H986.1M940.9 1075.5H986.1M443.6 1112.5H488.8M307.9 1113.5H353.2M398.4 1118.5H443.6M36.7 1119.5H81.9M534 1119.5H579.2M353.2 1120.5H398.4M443.6 1120.5H534M217.5 1121.5H262.7M940.9 1127.5H986.1M1031.3 1127.5H1076.5"/>
<path stroke="#ffcccc" d="M81.9 327.5H172.3M217.5 327.5H262.7M307.9 327.5H353.2M398.4 327.5H443.6M488.8 327.5H579.2M127.1 329.5H172.3M307.9 329.5H353.2M398.4 329.5H443.6M81.9 333.5H172.3M217.5 333.5H262.7M398.4 333.5H443.6M534 333.5H579.2M127.1 335.5H172.3M217.5 335.5H262.7M307.9 335.5H353.2M36.7 336.5H81.9M127.1 336.5H262.7M307.9 336.5H353.2M398.4 336.5H443.6M398.4 337.5H443.6M81.9 343.5H127.1M217.5 343.5H262.7M398.4 343.5H488.8M172.3 344.5H262.7M443.6 344.5H488.8M127.1 348.5H172.3M307.9 348.5H353.2M81.9 349.5H172.3M307.9 349.5H398.4M443.6 349.5H488.8M307.9 350.5H353.2M127.1 351.5H172.3M307.9 351.5H353.2M534 351.5H579.2M36.7 352.5H81.9M443.6 352.5H488.8M36.7 353.5H127.1M217.5 353.5H262.7M307.9 353.5H353.2M398.4 353.5H443.6M534 353.5H579.2M36.7 355.5H81.9M127.1 355.5H172.3M217.5 355.5H262.7M307.9 355.5H353.2M443.6 355.5H579.2M36.7 356.5H217.5M307.9 356.5H579.2M81.9 357.5H127.1M172.3 357.5H217.5M262.7 357.5H307.9M353.2 357.5H534M81.9 358.5H579.2M36.7 359.5H398.4M443.6 359.5H579.2M81.9 360.5H127.1M172.3 360.5H217.5M307.9 360.5H443.6M488.8 360.5H579.2M81.9 361.5H127.1M353.2 361.5H443.6M488.8 361.5H534M36.7 362.5H534M81.9 363.5H127.1M172.3 363.5H217.5M262.7 363.5H307.9M353.2 363.5H443.6M488.8 363.5H534M81.9 365.5H172.3M217.5 365.5H353.2M398.4 365.5H534M488.8 366.5H534M172.3 367.5H217.5M36.7 368.5H81.9M127.1 368.5H353.2M443.6 368.5H534M36.7 369.5H127.1M217.5 369.5H353.2M398.4 369.5H534M895.7 389.5H940.9M1031.3 389.5H1076.5M714.8 390.5H805.2M1031.3 390.5H1076.5M579.2 391.5H714.8M805.2 391.5H895.7M940.9 391.5H1031.3M1076.5 391.5H1121.7M579.2 392.5H805.2M850.5 392.5H895.7M940.9 392.5H1031.3M1076.5 392.5H1121.7M624.4 393.5H669.6M850.5 393.5H895.7M940.9 393.5H1031.3M624.4 394.5H714.8M760 394.5H940.9M986.1 394.5H1031.3M1076.5 394.5H1121.7M895.7 396.5H940.9M624.4 397.5H669.6M714.8 397.5H850.5M986.1 397.5H1121.7M579.2 398.5H669.6M714.8 398.5H760M940.9 398.5H1121.7M579.2 399.5H624.4M669.6 399.5H714.8M760 399.5H805.2M850.5 399.5H895.7M940.9 399.5H1121.7M579.2 401.5H624.4M940.9 401.5H986.1M579.2 402.5H624.4M669.6 404.5H714.8M624.4 406.5H714.8M760 406.5H986.1M1031.3 406.5H1121.7M579.2 407.5H1121.7M127.1 408.5H172.3M760 408.5H805.2M624.4 409.5H669.6M714.8 409.5H760M805.2 409.5H850.5M895.7 409.5H940.9M986.1 409.5H1031.3M579.2 412.5H669.6M850.5 412.5H940.9M986.1 412.5H1031.3M579.2 413.5H850.5M895.7 413.5H986.1M1031.3 413.5H1121.7M579.2 414.5H714.8M760 414.5H850.5M895.7 414.5H1121.7M669.6 423.5H760M850.5 423.5H895.7M940.9 423.5H1076.5M714.8 425.5H760M940.9 425.5H1031.3M579.2 426.5H714.8M760 426.5H805.2M850.5 426.5H895.7M940.9 426.5H1031.3M1076.5 426.5H1121.7M579.2 427.5H624.4M669.6 427.5H714.8M940.9 427.5H1076.5M669.6 428.5H714.8M940.9 428.5H986.1M1031.3 428.5H1076.5M172.3 429.5H217.5M579.2 429.5H669.6M760 429.5H805.2M850.5 429.5H895.7M1031.3 429.5H1121.7M579.2 430.5H624.4M714.8 430.5H895.7M940.9 430.5H1076.5M172.3 431.5H217.5M398.4 431.5H443.6M488.8 431.5H1076.5M940.9 432.5H986.1M669.6 434.5H714.8M805.2 434.5H850.5M624.4 436.5H669.6M714.8 436.5H760M805.2 436.5H850.5M940.9 436.5H986.1M1031.3 436.5H1076.5M624.4 437.5H805.2M850.5 437.5H1076.5M579.2 438.5H624.4M669.6 438.5H1031.3M1076.5 438.5H1121.7M714.8 439.5H760M805.2 439.5H895.7M1031.3 439.5H1121.7M669.6 440.5H760M895.7 440.5H940.9M1076.5 440.5H1121.7M579.2 441.5H624.4M714.8 441.5H760M262.7 444.5H307.9M353.2 444.5H398.4M488.8 444.5H534M986.1 444.5H1031.3M127.1 445.5H172.3M443.6 445.5H488.8M534 445.5H579.2M81.9 446.5H172.3M217.5 446.5H262.7M443.6 446.5H488.8M534 446.5H579.2M36.7 447.5H81.9M127.1 447.5H443.6M488.8 447.5H579.2M36.7 448.5H81.9M172.3 448.5H262.7M307.9 448.5H534M36.7 450.5H172.3M262.7 450.5H353.2M534 450.5H579.2M36.7 451.5H262.7M307.9 451.5H534M36.7 452.5H217.5M262.7 452.5H488.8M534 452.5H579.2M81.9 453.5H127.1M353.2 453.5H443.6M488.8 453.5H579.2M36.7 454.5H127.1M307.9 454.5H398.4M443.6 454.5H579.2M714.8 454.5H760M127.1 455.5H488.8M127.1 456.5H353.2M443.6 456.5H488.8M36.7 457.5H81.9M127.1 457.5H172.3M217.5 457.5H262.7M307.9 457.5H579.2M36.7 458.5H172.3M217.5 458.5H262.7M307.9 458.5H443.6M488.8 458.5H624.4M1076.5 458.5H1121.7M127.1 459.5H217.5M307.9 459.5H353.2M443.6 459.5H488.8M81.9 460.5H127.1M172.3 460.5H217.5M353.2 460.5H398.4M488.8 460.5H579.2M81.9 461.5H127.1M36.7 462.5H172.3M217.5 462.5H262.7M353.2 462.5H398.4M443.6 462.5H579.2M36.7 463.5H172.3M217.5 463.5H398.4M443.6 463.5H579.2M81.9 464.5H217.5M307.9 464.5H398.4M488.8 464.5H579.2M398.4 467.5H443.6M36.7 469.5H81.9M398.4 469.5H443.6M579.2 469.5H624.4M940.9 469.5H986.1M36.7 472.5H81.9M81.9 473.5H172.3M307.9 473.5H398.4M488.8 473.5H534M760 478.5H805.2M940.9 478.5H1031.3M217.5 479.5H307.9M353.2 479.5H443.6M488.8 479.5H534M36.7 480.5H172.3M217.5 480.5H307.9M353.2 480.5H443.6M488.8 480.5H534M217.5 481.5H262.7M307.9 481.5H353.2M534 481.5H579.2M81.9 482.5H127.1M172.3 482.5H217.5M36.7 485.5H81.9M172.3 485.5H217.5M262.7 485.5H307.9M353.2 485.5H534M127.1 506.5H172.3M624.4 511.5H669.6M895.7 511.5H986.1M624.4 512.5H669.6M805.2 512.5H850.5M895.7 512.5H940.9M624.4 513.5H669.6M579.2 514.5H940.9M986.1 514.5H1121.7M579.2 516.5H669.6M714.8 516.5H760M940.9 516.5H986.1M1076.5 516.5H1121.7M624.4 517.5H714.8M760 517.5H805.2M850.5 517.5H1121.7M624.4 518.5H760M850.5 518.5H895.7M940.9 518.5H1121.7M579.2 519.5H1121.7M579.2 520.5H714.8M760 520.5H895.7M940.9 520.5H1031.3M1076.5 520.5H1121.7M579.2 521.5H805.2M850.5 521.5H1121.7M579.2 522.5H624.4M669.6 522.5H714.8M850.5 522.5H986.1M1076.5 522.5H1121.7M624.4 524.5H850.5M895.7 524.5H1031.3M1076.5 524.5H1121.7M760 528.5H805.2M850.5 528.5H895.7M940.9 528.5H986.1M850.5 529.5H895.7M1031.3 529.5H1076.5M624.4 531.5H669.6M714.8 531.5H760M850.5 531.5H895.7M805.2 534.5H850.5M1031.3 534.5H1076.5M669.6 540.5H760M895.7 540.5H1031.3M1076.5 540.5H1121.7M714.8 541.5H760M624.4 542.5H714.8M760 542.5H940.9M1076.5 542.5H1121.7M669.6 545.5H714.8M805.2 545.5H850.5M940.9 545.5H986.1M1076.5 545.5H1121.7M579.2 550.5H714.8M760 550.5H895.7M940.9 550.5H1121.7M669.6 552.5H850.5M895.7 552.5H1121.7M624.4 553.5H669.6M714.8 553.5H805.2M895.7 553.5H940.9M986.1 553.5H1031.3M669.6 555.5H714.8M760 555.5H805.2M940.9 555.5H986.1M760 556.5H805.2M895.7 556.5H940.9M986.1 556.5H1031.3M714.8 558.5H760M669.6 559.5H760M850.5 559.5H940.9M624.4 560.5H714.8M805.2 560.5H1121.7M579.2 561.5H624.4M669.6 561.5H714.8M760 561.5H805.2M850.5 561.5H895.7M940.9 561.5H1121.7M579.2 562.5H805.2M850.5 562.5H940.9M986.1 562.5H1031.3M1076.5 562.5H1121.7M307.9 585.5H353.2M307.9 586.5H353.2M36.7 588.5H81.9M217.5 588.5H398.4M36.7 589.5H353.2M534 589.5H579.2M443.6 592.5H534M127.1 593.5H172.3M307.9 593.5H353.2M443.6 593.5H488.8M534 593.5H579.2M624.4 595.5H669.6M714.8 595.5H850.5M940.9 595.5H1031.3M1076.5 595.5H1121.7M714.8 596.5H805.2M986.1 596.5H1031.3M1076.5 596.5H1121.7M127.1 598.5H172.3M217.5 598.5H262.7M488.8 598.5H534M534 608.5H579.2M172.3 609.5H217.5M488.8 609.5H579.2M534 614.5H579.2M895.7 614.5H940.9M579.2 615.5H940.9M986.1 615.5H1076.5M805.2 616.5H940.9M986.1 616.5H1076.5M579.2 618.5H669.6M714.8 618.5H760M986.1 618.5H1031.3M669.6 619.5H714.8M760 619.5H895.7M940.9 619.5H986.1M1031.3 619.5H1121.7M579.2 620.5H669.6M714.8 620.5H760M850.5 620.5H940.9M579.2 621.5H624.4M669.6 621.5H714.8M760 621.5H940.9M986.1 621.5H1031.3M1076.5 621.5H1121.7M579.2 622.5H624.4M669.6 622.5H714.8M805.2 622.5H1031.3M1076.5 622.5H1121.7M579.2 624.5H624.4M669.6 624.5H760M805.2 624.5H850.5M895.7 624.5H1121.7M579.2 625.5H714.8M895.7 625.5H940.9M1076.5 625.5H1121.7M398.4 627.5H488.8M534 627.5H579.2M579.2 629.5H940.9M986.1 629.5H1121.7M579.2 630.5H624.4M760 630.5H805.2M986.1 630.5H1031.3M1076.5 630.5H1121.7M443.6 631.5H488.8M624.4 631.5H1121.7M669.6 632.5H940.9M986.1 632.5H1031.3M1076.5 632.5H1121.7M579.2 633.5H624.4M714.8 633.5H760M805.2 633.5H850.5M895.7 633.5H1031.3M1076.5 633.5H1121.7M127.1 634.5H172.3M217.5 634.5H262.7M307.9 634.5H353.2M398.4 634.5H488.8M579.2 635.5H624.4M669.6 635.5H714.8M805.2 635.5H850.5M1031.3 635.5H1121.7M81.9 637.5H172.3M534 637.5H579.2M217.5 639.5H262.7M398.4 639.5H443.6M534 639.5H579.2M1031.3 641.5H1076.5M81.9 644.5H262.7M307.9 644.5H353.2M398.4 644.5H488.8M534 644.5H579.2M36.7 645.5H81.9M127.1 645.5H172.3M217.5 645.5H353.2M398.4 645.5H488.8M534 645.5H579.2M36.7 646.5H534M579.2 647.5H624.4M36.7 649.5H81.9M172.3 649.5H217.5M127.1 650.5H217.5M262.7 650.5H353.2M443.6 650.5H579.2M127.1 651.5H172.3M217.5 651.5H353.2M398.4 651.5H488.8M534 651.5H579.2M81.9 652.5H307.9M353.2 652.5H579.2M127.1 653.5H217.5M353.2 653.5H398.4M534 653.5H579.2M36.7 655.5H262.7M398.4 655.5H579.2M36.7 656.5H217.5M262.7 656.5H307.9M353.2 656.5H624.4M805.2 656.5H850.5M895.7 656.5H940.9M1076.5 656.5H1121.7M172.3 657.5H262.7M443.6 657.5H488.8M534 657.5H624.4M669.6 657.5H714.8M760 657.5H850.5M895.7 657.5H940.9M1031.3 657.5H1121.7M579.2 658.5H624.4M624.4 659.5H669.6M805.2 659.5H850.5M895.7 659.5H940.9M36.7 660.5H81.9M217.5 660.5H307.9M443.6 660.5H488.8M579.2 664.5H669.6M714.8 664.5H940.9M986.1 664.5H1031.3M1076.5 664.5H1121.7M624.4 665.5H669.6M714.8 665.5H760M895.7 665.5H940.9M579.2 666.5H760M805.2 666.5H850.5M895.7 666.5H940.9M127.1 697.5H172.3M262.7 697.5H307.9M172.3 698.5H262.7M36.7 699.5H81.9M398.4 699.5H488.8M172.3 700.5H217.5M353.2 700.5H443.6M714.8 715.5H805.2M940.9 715.5H986.1M1031.3 715.5H1076.5M805.2 721.5H850.5M940.9 721.5H986.1M714.8 765.5H760M805.2 765.5H895.7M940.9 765.5H986.1M1031.3 765.5H1076.5M895.7 774.5H986.1M669.6 781.5H714.8M760 781.5H850.5M895.7 781.5H940.9M1076.5 781.5H1121.7M81.9 791.5H127.1M353.2 791.5H398.4M443.6 791.5H488.8M714.8 791.5H760M534 795.5H579.2M353.2 796.5H398.4M624.4 929.5H669.6M714.8 929.5H760M669.6 950.5H714.8M760 950.5H805.2M986.1 950.5H1031.3M986.1 1044.5H1031.3M805.2 1055.5H850.5M895.7 1055.5H940.9M307.9 1118.5H353.2M488.8 1118.5H534M127.1 1119.5H172.3M307.9 1119.5H353.2M81.9 1120.5H127.1M307.9 1120.5H353.2M262.7 1121.5H353.2M81.9 1126.5H172.3M1076.5 1127.5H1121.7"/>
<path stroke="#ffb2b2" d="M36.7 318.5H81.9M172.3 318.5H262.7M36.7 319.5H127.1M172.3 319.5H307.9M398.4 319.5H579.2M534 321.5H579.2M127.1 324.5H217.5M307.9 324.5H353.2M398.4 324.5H443.6M488.8 324.5H534M36.7 326.5H172.3M217.5 326.5H262.7M398.4 326.5H443.6M488.8 326.5H534M36.7 327.5H81.9M172.3 327.5H217.5M262.7 327.5H307.9M353.2 327.5H398.4M443.6 327.5H488.8M36.7 329.5H127.1M172.3 329.5H262.7M353.2 329.5H398.4M443.6 329.5H579.2M36.7 330.5H172.3M307.9 330.5H353.2M488.8 330.5H534M127.1 332.5H172.3M398.4 332.5H443.6M36.7 333.5H81.9M172.3 333.5H217.5M262.7 333.5H398.4M443.6 333.5H534M127.1 334.5H172.3M398.4 334.5H443.6M36.7 335.5H127.1M172.3 335.5H217.5M262.7 335.5H307.9M353.2 335.5H579.2M81.9 336.5H127.1M262.7 336.5H307.9M353.2 336.5H398.4M443.6 336.5H579.2M36.7 337.5H262.7M307.9 337.5H398.4M443.6 337.5H579.2M172.3 338.5H262.7M398.4 338.5H443.6M81.9 339.5H172.3M217.5 339.5H262.7M398.4 339.5H443.6M81.9 340.5H172.3M217.5 340.5H262.7M353.2 340.5H398.4M81.9 341.5H307.9M353.2 341.5H488.8M81.9 342.5H579.2M36.7 343.5H81.9M127.1 343.5H217.5M262.7 343.5H398.4M488.8 343.5H579.2M36.7 344.5H172.3M262.7 344.5H443.6M534 344.5H579.2M760 344.5H805.2M81.9 345.5H262.7M353.2 345.5H488.8M534 345.5H579.2M81.9 346.5H262.7M307.9 346.5H353.2M398.4 346.5H579.2M81.9 347.5H217.5M262.7 347.5H488.8M534 347.5H579.2M36.7 348.5H127.1M172.3 348.5H307.9M353.2 348.5H488.8M534 348.5H579.2M36.7 349.5H81.9M172.3 349.5H307.9M398.4 349.5H443.6M488.8 349.5H579.2M36.7 350.5H262.7M353.2 350.5H579.2M36.7 351.5H127.1M172.3 351.5H307.9M353.2 351.5H534M81.9 352.5H443.6M488.8 352.5H579.2M127.1 353.5H217.5M262.7 353.5H307.9M353.2 353.5H398.4M443.6 353.5H534M36.7 354.5H579.2M81.9 355.5H127.1M172.3 355.5H217.5M262.7 355.5H307.9M353.2 355.5H443.6M262.7 356.5H307.9M398.4 359.5H443.6M669.6 361.5H714.8M579.2 390.5H714.8M805.2 390.5H895.7M940.9 390.5H1031.3M1076.5 390.5H1121.7M895.7 391.5H940.9M1031.3 391.5H1076.5M805.2 392.5H850.5M895.7 392.5H940.9M1031.3 392.5H1076.5M895.7 397.5H940.9M805.2 398.5H850.5M895.7 398.5H940.9M624.4 399.5H669.6M714.8 399.5H760M805.2 399.5H850.5M895.7 399.5H940.9M579.2 400.5H624.4M669.6 400.5H714.8M805.2 400.5H850.5M940.9 400.5H986.1M1031.3 400.5H1121.7M624.4 401.5H805.2M850.5 401.5H940.9M986.1 401.5H1121.7M624.4 402.5H805.2M850.5 402.5H1121.7M579.2 403.5H624.4M579.2 404.5H669.6M714.8 404.5H760M805.2 404.5H850.5M895.7 404.5H1121.7M714.8 405.5H760M579.2 408.5H760M805.2 408.5H1121.7M579.2 409.5H624.4M669.6 409.5H714.8M760 409.5H805.2M850.5 409.5H895.7M940.9 409.5H986.1M1031.3 409.5H1121.7M669.6 412.5H850.5M940.9 412.5H986.1M1031.3 412.5H1121.7M850.5 413.5H895.7M850.5 414.5H895.7M579.2 415.5H624.4M669.6 415.5H850.5M895.7 415.5H1121.7M579.2 416.5H624.4M714.8 416.5H805.2M895.7 416.5H940.9M986.1 416.5H1076.5M579.2 417.5H624.4M669.6 417.5H850.5M895.7 417.5H940.9M986.1 417.5H1076.5M714.8 426.5H760M1031.3 426.5H1076.5M398.4 429.5H443.6M669.6 429.5H714.8M940.9 429.5H986.1M805.2 437.5H850.5M579.2 439.5H714.8M760 439.5H805.2M895.7 439.5H986.1M579.2 440.5H669.6M760 440.5H805.2M850.5 440.5H895.7M624.4 441.5H669.6M36.7 445.5H127.1M172.3 445.5H443.6M488.8 445.5H534M36.7 446.5H81.9M172.3 446.5H217.5M262.7 446.5H443.6M488.8 446.5H534M262.7 448.5H307.9M36.7 449.5H172.3M307.9 449.5H353.2M398.4 449.5H443.6M534 449.5H579.2M172.3 450.5H262.7M353.2 450.5H534M217.5 452.5H262.7M36.7 453.5H81.9M127.1 453.5H353.2M443.6 453.5H488.8M127.1 454.5H307.9M398.4 454.5H443.6M172.3 457.5H217.5M262.7 457.5H307.9M172.3 458.5H217.5M262.7 458.5H307.9M443.6 458.5H488.8M714.8 458.5H760M36.7 460.5H81.9M127.1 460.5H172.3M217.5 460.5H353.2M398.4 460.5H488.8M36.7 461.5H81.9M127.1 461.5H579.2M172.3 462.5H217.5M262.7 462.5H353.2M398.4 462.5H443.6M172.3 463.5H217.5M398.4 463.5H443.6M36.7 464.5H81.9M217.5 464.5H307.9M398.4 464.5H488.8M36.7 473.5H81.9M172.3 473.5H307.9M398.4 473.5H488.8M36.7 481.5H217.5M262.7 481.5H307.9M353.2 481.5H534M36.7 483.5H353.2M443.6 483.5H488.8M534 483.5H579.2M36.7 484.5H398.4M443.6 484.5H488.8M534 484.5H579.2M81.9 485.5H127.1M307.9 506.5H353.2M579.2 511.5H624.4M669.6 511.5H895.7M986.1 511.5H1031.3M1076.5 511.5H1121.7M579.2 512.5H624.4M669.6 512.5H805.2M850.5 512.5H895.7M940.9 512.5H1121.7M579.2 513.5H624.4M760 513.5H850.5M895.7 513.5H986.1M579.2 515.5H1031.3M1076.5 515.5H1121.7M669.6 516.5H714.8M760 516.5H940.9M986.1 516.5H1076.5M579.2 517.5H624.4M714.8 517.5H760M805.2 517.5H850.5M579.2 518.5H624.4M760 518.5H805.2M714.8 520.5H760M895.7 520.5H940.9M1031.3 520.5H1076.5M624.4 522.5H669.6M714.8 522.5H850.5M986.1 522.5H1076.5M579.2 540.5H669.6M760 540.5H850.5M579.2 541.5H669.6M805.2 541.5H850.5M895.7 541.5H1031.3M1076.5 541.5H1121.7M579.2 542.5H624.4M940.9 542.5H1076.5M669.6 543.5H714.8M624.4 544.5H714.8M579.2 545.5H669.6M714.8 545.5H805.2M850.5 545.5H940.9M986.1 545.5H1031.3M579.2 546.5H940.9M986.1 546.5H1031.3M1076.5 546.5H1121.7M579.2 547.5H624.4M669.6 547.5H850.5M895.7 547.5H940.9M986.1 547.5H1031.3M669.6 548.5H760M805.2 548.5H850.5M986.1 548.5H1031.3M669.6 549.5H760M805.2 549.5H850.5M895.7 549.5H940.9M986.1 549.5H1031.3M669.6 551.5H1031.3M127.1 552.5H217.5M534 552.5H669.6M850.5 552.5H895.7M579.2 553.5H624.4M669.6 553.5H714.8M805.2 553.5H895.7M940.9 553.5H986.1M1031.3 553.5H1121.7M624.4 554.5H850.5M895.7 554.5H1121.7M579.2 555.5H669.6M714.8 555.5H760M805.2 555.5H940.9M986.1 555.5H1121.7M579.2 556.5H760M805.2 556.5H895.7M940.9 556.5H986.1M1031.3 556.5H1121.7M579.2 557.5H1121.7M579.2 558.5H714.8M760 558.5H1121.7M579.2 559.5H669.6M760 559.5H850.5M940.9 559.5H1121.7M579.2 560.5H624.4M1031.3 562.5H1076.5M895.7 563.5H940.9M805.2 570.5H850.5M579.2 574.5H805.2M850.5 574.5H1031.3M1076.5 574.5H1121.7M669.6 575.5H760M940.9 575.5H1031.3M1076.5 575.5H1121.7M579.2 577.5H850.5M895.7 577.5H1121.7M1076.5 583.5H1121.7M940.9 584.5H1031.3M1076.5 584.5H1121.7M1076.5 585.5H1121.7M353.2 589.5H534M579.2 590.5H669.6M714.8 590.5H805.2M850.5 590.5H895.7M940.9 590.5H1121.7M624.4 591.5H669.6M986.1 591.5H1031.3M1076.5 591.5H1121.7M714.8 592.5H760M940.9 592.5H986.1M760 594.5H805.2M895.7 594.5H940.9M986.1 594.5H1121.7M579.2 595.5H624.4M669.6 595.5H714.8M850.5 595.5H940.9M1031.3 595.5H1076.5M579.2 596.5H714.8M805.2 596.5H986.1M1031.3 596.5H1076.5M1076.5 597.5H1121.7M714.8 600.5H805.2M1076.5 600.5H1121.7M579.2 602.5H760M940.9 602.5H986.1M1031.3 602.5H1121.7M714.8 603.5H760M1076.5 603.5H1121.7M579.2 604.5H714.8M805.2 604.5H850.5M940.9 604.5H986.1M1076.5 604.5H1121.7M579.2 605.5H850.5M895.7 605.5H1121.7M940.9 607.5H986.1M714.8 612.5H760M36.7 615.5H127.1M172.3 615.5H217.5M307.9 615.5H398.4M443.6 615.5H534M81.9 617.5H172.3M534 617.5H579.2M36.7 618.5H127.1M172.3 618.5H217.5M262.7 618.5H398.4M443.6 618.5H579.2M36.7 619.5H127.1M172.3 619.5H669.6M714.8 619.5H760M895.7 619.5H940.9M986.1 619.5H1031.3M81.9 620.5H127.1M217.5 620.5H262.7M307.9 620.5H488.8M36.7 621.5H127.1M172.3 621.5H488.8M624.4 621.5H669.6M714.8 621.5H760M81.9 622.5H127.1M172.3 622.5H262.7M307.9 622.5H398.4M443.6 622.5H579.2M624.4 622.5H669.6M714.8 622.5H760M36.7 623.5H127.1M217.5 623.5H262.7M307.9 623.5H398.4M443.6 623.5H488.8M534 623.5H579.2M81.9 624.5H127.1M624.4 624.5H669.6M850.5 624.5H895.7M36.7 626.5H81.9M307.9 626.5H398.4M443.6 626.5H488.8M534 626.5H579.2M36.7 627.5H398.4M488.8 627.5H534M307.9 628.5H353.2M443.6 628.5H488.8M534 628.5H579.2M81.9 630.5H127.1M443.6 630.5H488.8M36.7 631.5H443.6M488.8 631.5H624.4M36.7 632.5H81.9M172.3 632.5H217.5M262.7 632.5H353.2M398.4 632.5H488.8M534 632.5H624.4M1031.3 632.5H1076.5M1031.3 633.5H1076.5M36.7 634.5H127.1M172.3 634.5H217.5M262.7 634.5H307.9M353.2 634.5H398.4M488.8 634.5H579.2M81.9 635.5H172.3M217.5 635.5H262.7M353.2 635.5H398.4M443.6 635.5H488.8M534 635.5H579.2M81.9 636.5H262.7M307.9 636.5H353.2M398.4 636.5H579.2M172.3 637.5H534M398.4 638.5H443.6M534 638.5H579.2M36.7 639.5H217.5M262.7 639.5H398.4M443.6 639.5H534M81.9 640.5H127.1M262.7 640.5H353.2M398.4 640.5H443.6M488.8 640.5H579.2M217.5 642.5H262.7M36.7 643.5H579.2M262.7 644.5H307.9M353.2 644.5H398.4M488.8 644.5H534M81.9 645.5H127.1M353.2 645.5H398.4M488.8 645.5H534M172.3 647.5H217.5M81.9 648.5H127.1M172.3 648.5H398.4M443.6 648.5H488.8M534 648.5H579.2M81.9 649.5H172.3M217.5 649.5H579.2M36.7 652.5H81.9M36.7 654.5H172.3M217.5 654.5H262.7M307.9 654.5H579.2M262.7 655.5H398.4M307.9 656.5H353.2M36.7 657.5H172.3M262.7 657.5H443.6M488.8 657.5H534M36.7 658.5H81.9M127.1 658.5H217.5M443.6 658.5H488.8M534 658.5H579.2M443.6 659.5H488.8M81.9 660.5H217.5M307.9 660.5H443.6M488.8 660.5H579.2M669.6 664.5H714.8M443.6 666.5H488.8M443.6 668.5H488.8M36.7 697.5H81.9M307.9 697.5H353.2M398.4 697.5H443.6M398.4 698.5H443.6M36.7 700.5H81.9M579.2 715.5H624.4M669.6 715.5H714.8M805.2 715.5H850.5M805.2 722.5H850.5M669.6 765.5H714.8M760 765.5H805.2M1076.5 765.5H1121.7M579.2 781.5H669.6M940.9 781.5H986.1M127.1 791.5H172.3M398.4 791.5H443.6M714.8 950.5H760M579.2 1044.5H624.4M1031.3 1044.5H1076.5M127.1 1118.5H172.3"/>
<path stroke="#ff9999" d="M127.1 140.5H172.3M353.2 140.5H443.6M534 140.5H579.2M262.7 148.5H307.9M217.5 160.5H262.7M760 182.5H805.2M986.1 197.5H1031.3M940.9 198.5H1031.3M307.9 236.5H353.2M36.7 303.5H127.1M172.3 303.5H262.7M353.2 303.5H398.4M443.6 303.5H488.8M443.6 307.5H488.8M81.9 308.5H127.1M172.3 308.5H262.7M36.7 311.5H127.1M172.3 311.5H398.4M443.6 311.5H579.2M534 312.5H579.2M36.7 313.5H81.9M172.3 313.5H217.5M262.7 313.5H307.9M443.6 313.5H579.2M262.7 314.5H307.9M443.6 314.5H488.8M262.7 315.5H307.9M534 317.5H579.2M81.9 318.5H172.3M262.7 318.5H579.2M127.1 319.5H172.3M307.9 319.5H398.4M36.7 320.5H81.9M172.3 320.5H262.7M398.4 320.5H488.8M36.7 321.5H81.9M172.3 321.5H217.5M307.9 321.5H353.2M443.6 321.5H534M36.7 323.5H81.9M172.3 323.5H443.6M534 323.5H579.2M36.7 324.5H127.1M217.5 324.5H307.9M353.2 324.5H398.4M443.6 324.5H488.8M534 324.5H579.2M36.7 325.5H172.3M353.2 325.5H534M172.3 326.5H217.5M262.7 326.5H398.4M443.6 326.5H488.8M534 326.5H579.2M81.9 328.5H172.3M217.5 328.5H262.7M307.9 328.5H353.2M398.4 328.5H443.6M262.7 329.5H307.9M172.3 330.5H307.9M353.2 330.5H488.8M534 330.5H579.2M36.7 331.5H443.6M488.8 331.5H534M81.9 332.5H127.1M172.3 332.5H398.4M443.6 332.5H534M36.7 334.5H127.1M217.5 334.5H398.4M443.6 334.5H488.8M534 334.5H579.2M262.7 337.5H307.9M36.7 338.5H172.3M262.7 338.5H398.4M443.6 338.5H579.2M36.7 339.5H81.9M172.3 339.5H217.5M307.9 339.5H398.4M443.6 339.5H579.2M36.7 340.5H81.9M172.3 340.5H217.5M262.7 340.5H353.2M398.4 340.5H488.8M534 340.5H579.2M36.7 341.5H81.9M307.9 341.5H353.2M488.8 341.5H579.2M36.7 342.5H81.9M579.2 343.5H850.5M1031.3 343.5H1121.7M488.8 344.5H534M579.2 344.5H669.6M714.8 344.5H760M805.2 344.5H850.5M895.7 344.5H940.9M1031.3 344.5H1121.7M36.7 345.5H81.9M262.7 345.5H353.2M488.8 345.5H534M36.7 346.5H81.9M262.7 346.5H307.9M353.2 346.5H398.4M36.7 347.5H81.9M217.5 347.5H262.7M488.8 347.5H534M488.8 348.5H534M262.7 350.5H307.9M669.6 350.5H714.8M940.9 350.5H986.1M940.9 357.5H986.1M895.7 358.5H940.9M1031.3 358.5H1076.5M1031.3 359.5H1076.5M669.6 360.5H714.8M760 361.5H805.2M850.5 361.5H986.1M1031.3 361.5H1121.7M669.6 362.5H714.8M940.9 363.5H986.1M1076.5 364.5H1121.7M760 365.5H805.2M1031.3 365.5H1121.7M895.7 370.5H940.9M1076.5 370.5H1121.7M669.6 372.5H714.8M1076.5 372.5H1121.7M895.7 390.5H940.9M624.4 400.5H669.6M714.8 400.5H805.2M850.5 400.5H895.7M986.1 400.5H1031.3M805.2 401.5H850.5M805.2 402.5H850.5M624.4 403.5H805.2M850.5 403.5H895.7M940.9 403.5H1121.7M760 404.5H805.2M850.5 404.5H895.7M579.2 405.5H714.8M760 405.5H1121.7M579.2 410.5H669.6M714.8 410.5H805.2M940.9 410.5H1031.3M579.2 411.5H669.6M714.8 411.5H850.5M895.7 411.5H1076.5M624.4 415.5H669.6M850.5 415.5H895.7M624.4 416.5H714.8M805.2 416.5H895.7M940.9 416.5H986.1M1076.5 416.5H1121.7M624.4 417.5H669.6M850.5 417.5H895.7M940.9 417.5H986.1M1076.5 417.5H1121.7M986.1 439.5H1031.3M805.2 440.5H850.5M940.9 440.5H986.1M1031.3 440.5H1076.5M986.1 441.5H1031.3M172.3 449.5H307.9M353.2 449.5H398.4M443.6 449.5H534M353.2 483.5H443.6M488.8 483.5H534M398.4 484.5H443.6M488.8 484.5H534M1031.3 511.5H1076.5M669.6 513.5H760M850.5 513.5H895.7M986.1 513.5H1121.7M1031.3 515.5H1076.5M850.5 540.5H895.7M1031.3 540.5H1076.5M669.6 541.5H714.8M760 541.5H805.2M850.5 541.5H895.7M1031.3 541.5H1076.5M579.2 543.5H669.6M714.8 543.5H760M895.7 543.5H1121.7M579.2 544.5H624.4M714.8 544.5H1031.3M1076.5 544.5H1121.7M1031.3 545.5H1076.5M81.9 546.5H262.7M353.2 546.5H534M940.9 546.5H986.1M1031.3 546.5H1076.5M81.9 547.5H127.1M624.4 547.5H669.6M850.5 547.5H895.7M940.9 547.5H986.1M1031.3 547.5H1121.7M579.2 548.5H669.6M760 548.5H805.2M850.5 548.5H986.1M1031.3 548.5H1121.7M624.4 549.5H669.6M760 549.5H805.2M850.5 549.5H895.7M940.9 549.5H986.1M1031.3 549.5H1121.7M172.3 550.5H217.5M443.6 550.5H488.8M534 550.5H579.2M579.2 551.5H669.6M1031.3 551.5H1121.7M81.9 552.5H127.1M217.5 552.5H307.9M398.4 552.5H534M127.1 553.5H172.3M217.5 553.5H262.7M443.6 553.5H534M81.9 554.5H217.5M353.2 554.5H398.4M443.6 554.5H488.8M579.2 554.5H624.4M850.5 554.5H895.7M443.6 556.5H488.8M534 556.5H579.2M81.9 557.5H127.1M172.3 557.5H217.5M262.7 557.5H307.9M443.6 557.5H488.8M534 557.5H579.2M127.1 558.5H172.3M443.6 558.5H488.8M36.7 559.5H81.9M127.1 559.5H262.7M307.9 559.5H353.2M398.4 559.5H534M398.4 562.5H443.6M579.2 563.5H760M805.2 563.5H895.7M940.9 563.5H1121.7M714.8 565.5H760M624.4 566.5H669.6M714.8 566.5H760M805.2 566.5H850.5M895.7 566.5H1031.3M1076.5 566.5H1121.7M624.4 567.5H669.6M714.8 567.5H760M1031.3 567.5H1121.7M624.4 568.5H669.6M850.5 568.5H986.1M579.2 570.5H669.6M714.8 570.5H760M850.5 570.5H1121.7M1076.5 571.5H1121.7M624.4 572.5H760M850.5 572.5H1031.3M1076.5 572.5H1121.7M669.6 573.5H760M895.7 573.5H940.9M986.1 573.5H1031.3M805.2 574.5H850.5M1031.3 574.5H1076.5M579.2 575.5H669.6M760 575.5H940.9M1031.3 575.5H1076.5M579.2 576.5H624.4M669.6 576.5H1076.5M850.5 577.5H895.7M579.2 578.5H669.6M714.8 578.5H1121.7M624.4 579.5H669.6M760 579.5H805.2M940.9 579.5H986.1M1076.5 579.5H1121.7M624.4 580.5H669.6M760 580.5H850.5M986.1 580.5H1076.5M579.2 582.5H1121.7M579.2 583.5H850.5M895.7 583.5H940.9M986.1 583.5H1031.3M579.2 584.5H940.9M1031.3 584.5H1076.5M579.2 585.5H669.6M714.8 585.5H1076.5M714.8 588.5H760M1076.5 589.5H1121.7M669.6 590.5H714.8M805.2 590.5H850.5M895.7 590.5H940.9M579.2 591.5H624.4M669.6 591.5H986.1M1031.3 591.5H1076.5M579.2 592.5H714.8M760 592.5H940.9M986.1 592.5H1121.7M579.2 593.5H624.4M669.6 593.5H850.5M1031.3 593.5H1121.7M579.2 594.5H760M805.2 594.5H895.7M940.9 594.5H986.1M624.4 597.5H669.6M714.8 597.5H850.5M895.7 597.5H1076.5M579.2 600.5H714.8M805.2 600.5H1076.5M579.2 601.5H1121.7M760 602.5H940.9M986.1 602.5H1031.3M579.2 603.5H714.8M760 603.5H850.5M940.9 603.5H1076.5M714.8 604.5H805.2M850.5 604.5H940.9M986.1 604.5H1076.5M850.5 605.5H895.7M579.2 606.5H850.5M895.7 606.5H1121.7M579.2 607.5H940.9M986.1 607.5H1121.7M579.2 608.5H624.4M669.6 608.5H805.2M850.5 608.5H986.1M714.8 611.5H805.2M579.2 612.5H714.8M760 612.5H895.7M940.9 612.5H1121.7M669.6 613.5H760M1076.5 613.5H1121.7M127.1 615.5H172.3M217.5 615.5H307.9M398.4 615.5H443.6M534 615.5H579.2M36.7 616.5H443.6M488.8 616.5H579.2M36.7 617.5H81.9M172.3 617.5H534M127.1 618.5H172.3M217.5 618.5H262.7M398.4 618.5H443.6M127.1 619.5H172.3M36.7 620.5H81.9M127.1 620.5H217.5M262.7 620.5H307.9M488.8 620.5H579.2M127.1 621.5H172.3M488.8 621.5H579.2M36.7 622.5H81.9M127.1 622.5H172.3M262.7 622.5H307.9M398.4 622.5H443.6M127.1 623.5H217.5M262.7 623.5H307.9M398.4 623.5H443.6M488.8 623.5H534M36.7 624.5H81.9M127.1 624.5H262.7M307.9 624.5H488.8M534 624.5H579.2M36.7 625.5H127.1M172.3 625.5H262.7M307.9 625.5H353.2M443.6 625.5H488.8M534 625.5H579.2M81.9 626.5H307.9M398.4 626.5H443.6M488.8 626.5H534M36.7 628.5H127.1M172.3 628.5H307.9M353.2 628.5H443.6M488.8 628.5H534M81.9 629.5H127.1M307.9 629.5H488.8M534 629.5H579.2M36.7 630.5H81.9M127.1 630.5H443.6M488.8 630.5H579.2M81.9 632.5H172.3M217.5 632.5H262.7M353.2 632.5H398.4M488.8 632.5H534M172.3 633.5H217.5M262.7 633.5H398.4M443.6 633.5H488.8M36.7 635.5H81.9M172.3 635.5H217.5M262.7 635.5H353.2M398.4 635.5H443.6M488.8 635.5H534M36.7 636.5H81.9M262.7 636.5H307.9M353.2 636.5H398.4M36.7 637.5H81.9M36.7 638.5H398.4M443.6 638.5H534M36.7 640.5H81.9M127.1 640.5H262.7M353.2 640.5H398.4M443.6 640.5H488.8M36.7 641.5H127.1M172.3 641.5H353.2M398.4 641.5H488.8M534 641.5H579.2M36.7 642.5H217.5M262.7 642.5H579.2M36.7 647.5H172.3M217.5 647.5H579.2M36.7 648.5H81.9M127.1 648.5H172.3M398.4 648.5H443.6M488.8 648.5H534M172.3 654.5H217.5M262.7 654.5H307.9M81.9 658.5H127.1M217.5 658.5H443.6M488.8 658.5H534M36.7 659.5H443.6M488.8 659.5H579.2M36.7 665.5H81.9M127.1 665.5H262.7M353.2 665.5H398.4M443.6 665.5H488.8M534 665.5H579.2M36.7 666.5H217.5M262.7 666.5H398.4M534 666.5H579.2M36.7 667.5H81.9M127.1 667.5H217.5M353.2 667.5H398.4M443.6 667.5H488.8M36.7 668.5H262.7M307.9 668.5H443.6M488.8 668.5H579.2M36.7 671.5H81.9M127.1 671.5H262.7M398.4 671.5H488.8M534 671.5H579.2M172.3 697.5H217.5M534 697.5H579.2M624.4 715.5H669.6M579.2 765.5H624.4M895.7 765.5H940.9M805.2 950.5H850.5"/>
<path stroke="#ff8080" d="M36.7 137.5H81.9M217.5 137.5H262.7M534 137.5H579.2M36.7 140.5H127.1M172.3 140.5H353.2M443.6 140.5H534M534 143.5H579.2M534 144.5H579.2M36.7 148.5H172.3M307.9 148.5H353.2M398.4 148.5H443.6M488.8 148.5H579.2M81.9 152.5H127.1M172.3 152.5H217.5M307.9 152.5H353.2M398.4 152.5H443.6M488.8 152.5H534M127.1 158.5H172.3M217.5 158.5H262.7M398.4 158.5H488.8M217.5 159.5H262.7M353.2 159.5H398.4M81.9 160.5H217.5M353.2 160.5H398.4M443.6 160.5H488.8M217.5 167.5H262.7M488.8 178.5H534M714.8 182.5H760M805.2 182.5H895.7M986.1 182.5H1031.3M579.2 187.5H669.6M986.1 187.5H1031.3M940.9 188.5H1031.3M986.1 190.5H1031.3M986.1 191.5H1031.3M714.8 195.5H760M850.5 195.5H895.7M986.1 195.5H1031.3M579.2 197.5H805.2M850.5 197.5H986.1M1031.3 197.5H1121.7M579.2 198.5H940.9M1031.3 198.5H1121.7M579.2 199.5H624.4M669.6 199.5H850.5M895.7 199.5H1121.7M36.7 236.5H81.9M127.1 236.5H217.5M262.7 236.5H307.9M488.8 236.5H579.2M36.7 237.5H81.9M36.7 238.5H81.9M307.9 238.5H353.2M488.8 238.5H534M81.9 243.5H127.1M127.1 303.5H172.3M262.7 303.5H353.2M398.4 303.5H443.6M488.8 303.5H579.2M36.7 304.5H579.2M36.7 305.5H81.9M127.1 305.5H579.2M307.9 306.5H353.2M36.7 307.5H443.6M488.8 307.5H579.2M36.7 308.5H81.9M127.1 308.5H172.3M262.7 308.5H353.2M398.4 308.5H579.2M36.7 309.5H81.9M172.3 309.5H307.9M488.8 309.5H579.2M36.7 310.5H127.1M172.3 310.5H217.5M262.7 310.5H307.9M443.6 310.5H534M127.1 311.5H172.3M398.4 311.5H443.6M36.7 312.5H127.1M172.3 312.5H217.5M262.7 312.5H534M81.9 313.5H172.3M217.5 313.5H262.7M307.9 313.5H443.6M36.7 314.5H127.1M172.3 314.5H262.7M307.9 314.5H443.6M488.8 314.5H579.2M36.7 315.5H81.9M172.3 315.5H262.7M307.9 315.5H579.2M172.3 316.5H217.5M262.7 316.5H307.9M443.6 316.5H488.8M534 316.5H579.2M36.7 317.5H534M940.9 318.5H986.1M805.2 319.5H850.5M81.9 320.5H172.3M262.7 320.5H398.4M488.8 320.5H579.2M81.9 321.5H172.3M217.5 321.5H307.9M353.2 321.5H443.6M36.7 322.5H81.9M127.1 322.5H262.7M307.9 322.5H353.2M398.4 322.5H579.2M81.9 323.5H172.3M443.6 323.5H534M172.3 325.5H353.2M534 325.5H579.2M36.7 328.5H81.9M172.3 328.5H217.5M262.7 328.5H307.9M353.2 328.5H398.4M443.6 328.5H579.2M443.6 331.5H488.8M534 331.5H579.2M36.7 332.5H81.9M534 332.5H579.2M172.3 334.5H217.5M488.8 334.5H534M262.7 339.5H307.9M488.8 340.5H534M850.5 343.5H1031.3M669.6 344.5H714.8M850.5 344.5H895.7M940.9 344.5H986.1M579.2 346.5H760M895.7 346.5H940.9M760 347.5H805.2M624.4 349.5H805.2M895.7 349.5H940.9M579.2 350.5H624.4M714.8 350.5H805.2M895.7 350.5H940.9M1031.3 350.5H1121.7M714.8 351.5H760M895.7 351.5H986.1M624.4 352.5H805.2M850.5 352.5H986.1M1031.3 352.5H1121.7M624.4 353.5H760M850.5 353.5H895.7M940.9 353.5H986.1M624.4 355.5H669.6M714.8 355.5H760M895.7 355.5H986.1M624.4 356.5H760M895.7 356.5H986.1M1076.5 356.5H1121.7M624.4 357.5H760M805.2 357.5H850.5M895.7 357.5H940.9M1031.3 357.5H1121.7M579.2 358.5H895.7M940.9 358.5H1031.3M1076.5 358.5H1121.7M669.6 359.5H760M895.7 359.5H940.9M624.4 360.5H669.6M714.8 360.5H986.1M1031.3 360.5H1121.7M579.2 361.5H669.6M714.8 361.5H760M805.2 361.5H850.5M986.1 361.5H1031.3M624.4 362.5H669.6M714.8 362.5H760M850.5 362.5H986.1M1031.3 362.5H1121.7M714.8 363.5H940.9M986.1 363.5H1031.3M1076.5 363.5H1121.7M714.8 364.5H805.2M850.5 364.5H1031.3M579.2 365.5H760M805.2 365.5H1031.3M669.6 366.5H714.8M579.2 370.5H624.4M714.8 370.5H850.5M940.9 370.5H986.1M1031.3 370.5H1076.5M624.4 371.5H805.2M895.7 371.5H940.9M1076.5 371.5H1121.7M714.8 372.5H805.2M850.5 372.5H895.7M940.9 372.5H1076.5M714.8 382.5H760M895.7 400.5H940.9M805.2 403.5H850.5M895.7 403.5H940.9M669.6 410.5H714.8M805.2 410.5H940.9M1031.3 410.5H1121.7M669.6 411.5H714.8M850.5 411.5H895.7M1076.5 411.5H1121.7M986.1 440.5H1031.3M81.9 541.5H127.1M262.7 541.5H307.9M488.8 541.5H534M36.7 542.5H353.2M398.4 542.5H534M81.9 543.5H127.1M760 543.5H895.7M1031.3 544.5H1076.5M36.7 545.5H172.3M217.5 545.5H262.7M398.4 545.5H443.6M534 545.5H579.2M36.7 546.5H81.9M262.7 546.5H353.2M534 546.5H579.2M127.1 547.5H262.7M307.9 547.5H353.2M398.4 547.5H579.2M127.1 548.5H172.3M81.9 549.5H262.7M398.4 549.5H624.4M81.9 550.5H172.3M217.5 550.5H307.9M353.2 550.5H443.6M488.8 550.5H534M81.9 551.5H217.5M443.6 551.5H534M36.7 552.5H81.9M307.9 552.5H398.4M36.7 553.5H127.1M172.3 553.5H217.5M262.7 553.5H443.6M534 553.5H579.2M36.7 554.5H81.9M217.5 554.5H353.2M398.4 554.5H443.6M488.8 554.5H579.2M81.9 555.5H262.7M353.2 555.5H488.8M534 555.5H579.2M36.7 556.5H443.6M488.8 556.5H534M36.7 557.5H81.9M127.1 557.5H172.3M217.5 557.5H262.7M307.9 557.5H443.6M488.8 557.5H534M36.7 558.5H127.1M172.3 558.5H443.6M488.8 558.5H579.2M81.9 559.5H127.1M262.7 559.5H307.9M353.2 559.5H398.4M534 559.5H579.2M36.7 560.5H307.9M398.4 560.5H534M36.7 561.5H307.9M353.2 561.5H534M36.7 562.5H217.5M262.7 562.5H307.9M353.2 562.5H398.4M443.6 562.5H534M760 563.5H805.2M624.4 565.5H714.8M805.2 565.5H850.5M895.7 565.5H986.1M1076.5 565.5H1121.7M579.2 566.5H624.4M669.6 566.5H714.8M760 566.5H805.2M850.5 566.5H895.7M1031.3 566.5H1076.5M579.2 567.5H624.4M669.6 567.5H714.8M760 567.5H1031.3M579.2 568.5H624.4M669.6 568.5H850.5M986.1 568.5H1121.7M579.2 569.5H760M805.2 569.5H1121.7M669.6 570.5H714.8M760 570.5H805.2M624.4 571.5H760M805.2 571.5H1031.3M579.2 572.5H624.4M760 572.5H850.5M1031.3 572.5H1076.5M579.2 573.5H669.6M805.2 573.5H895.7M940.9 573.5H986.1M1031.3 573.5H1121.7M624.4 576.5H669.6M1076.5 576.5H1121.7M669.6 578.5H714.8M579.2 579.5H624.4M669.6 579.5H760M805.2 579.5H940.9M986.1 579.5H1076.5M579.2 580.5H624.4M669.6 580.5H760M850.5 580.5H986.1M1076.5 580.5H1121.7M579.2 581.5H850.5M895.7 581.5H1121.7M850.5 583.5H895.7M940.9 583.5H986.1M1031.3 583.5H1076.5M669.6 585.5H714.8M760 586.5H805.2M895.7 586.5H940.9M986.1 586.5H1121.7M579.2 587.5H1121.7M624.4 588.5H714.8M760 588.5H895.7M940.9 588.5H1121.7M579.2 589.5H624.4M669.6 589.5H895.7M940.9 589.5H1076.5M624.4 593.5H669.6M850.5 593.5H1031.3M579.2 597.5H624.4M669.6 597.5H714.8M850.5 597.5H895.7M760 598.5H805.2M986.1 598.5H1121.7M624.4 599.5H669.6M714.8 599.5H850.5M895.7 599.5H1121.7M850.5 603.5H940.9M850.5 606.5H895.7M624.4 608.5H669.6M805.2 608.5H850.5M986.1 608.5H1121.7M624.4 609.5H1121.7M579.2 610.5H624.4M669.6 610.5H850.5M895.7 610.5H1031.3M1076.5 610.5H1121.7M579.2 611.5H714.8M805.2 611.5H1121.7M895.7 612.5H940.9M579.2 613.5H669.6M760 613.5H895.7M940.9 613.5H1031.3M443.6 616.5H488.8M262.7 624.5H307.9M488.8 624.5H534M127.1 625.5H172.3M262.7 625.5H307.9M353.2 625.5H443.6M488.8 625.5H534M127.1 628.5H172.3M36.7 629.5H81.9M127.1 629.5H307.9M488.8 629.5H534M36.7 633.5H172.3M217.5 633.5H262.7M398.4 633.5H443.6M488.8 633.5H579.2M127.1 641.5H172.3M353.2 641.5H398.4M488.8 641.5H534M36.7 661.5H81.9M127.1 661.5H262.7M307.9 661.5H579.2M36.7 662.5H262.7M307.9 662.5H488.8M534 662.5H579.2M36.7 663.5H81.9M127.1 663.5H488.8M534 663.5H579.2M36.7 664.5H81.9M127.1 664.5H262.7M307.9 664.5H579.2M81.9 665.5H127.1M262.7 665.5H353.2M398.4 665.5H443.6M488.8 665.5H534M217.5 666.5H262.7M398.4 666.5H443.6M488.8 666.5H534M81.9 667.5H127.1M217.5 667.5H353.2M398.4 667.5H443.6M488.8 667.5H579.2M262.7 668.5H307.9M36.7 669.5H81.9M172.3 669.5H217.5M353.2 669.5H398.4M443.6 669.5H488.8M534 669.5H579.2M36.7 670.5H172.3M307.9 670.5H488.8M534 670.5H579.2M81.9 671.5H127.1M262.7 671.5H398.4M488.8 671.5H534M262.7 1118.5H307.9"/>
<path stroke="#ff6666" d="M36.7 134.5H81.9M127.1 134.5H172.3M217.5 134.5H398.4M534 134.5H579.2M127.1 135.5H172.3M217.5 135.5H307.9M353.2 135.5H398.4M534 135.5H579.2M217.5 136.5H307.9M534 136.5H579.2M81.9 137.5H217.5M262.7 137.5H534M36.7 138.5H81.9M127.1 138.5H172.3M217.5 138.5H398.4M443.6 138.5H488.8M534 138.5H579.2M36.7 139.5H172.3M217.5 139.5H262.7M307.9 139.5H443.6M488.8 139.5H579.2M127.1 141.5H172.3M398.4 141.5H443.6M534 141.5H579.2M398.4 142.5H443.6M36.7 143.5H81.9M127.1 143.5H217.5M398.4 143.5H443.6M488.8 143.5H534M36.7 144.5H81.9M127.1 144.5H217.5M307.9 144.5H353.2M398.4 144.5H443.6M488.8 144.5H534M36.7 145.5H81.9M488.8 145.5H534M36.7 146.5H217.5M262.7 146.5H353.2M398.4 146.5H443.6M488.8 146.5H579.2M36.7 147.5H172.3M262.7 147.5H307.9M398.4 147.5H443.6M488.8 147.5H579.2M172.3 148.5H262.7M443.6 148.5H488.8M172.3 149.5H262.7M307.9 149.5H353.2M398.4 149.5H443.6M488.8 149.5H579.2M172.3 150.5H217.5M488.8 150.5H579.2M488.8 151.5H534M579.2 151.5H624.4M1076.5 151.5H1121.7M36.7 152.5H81.9M127.1 152.5H172.3M217.5 152.5H307.9M353.2 152.5H398.4M443.6 152.5H488.8M534 152.5H579.2M127.1 154.5H172.3M353.2 155.5H398.4M443.6 155.5H488.8M127.1 157.5H172.3M36.7 158.5H127.1M172.3 158.5H217.5M262.7 158.5H307.9M353.2 158.5H398.4M488.8 158.5H534M36.7 159.5H217.5M262.7 159.5H307.9M398.4 159.5H488.8M36.7 160.5H81.9M262.7 160.5H353.2M398.4 160.5H443.6M488.8 160.5H534M217.5 163.5H262.7M353.2 163.5H398.4M127.1 165.5H172.3M217.5 165.5H262.7M353.2 165.5H398.4M443.6 165.5H488.8M81.9 167.5H217.5M262.7 167.5H307.9M353.2 167.5H534M217.5 168.5H262.7M127.1 169.5H262.7M398.4 169.5H443.6M172.3 176.5H217.5M127.1 177.5H172.3M217.5 177.5H262.7M307.9 177.5H353.2M398.4 177.5H443.6M488.8 177.5H534M81.9 178.5H172.3M217.5 178.5H307.9M353.2 178.5H443.6M579.2 182.5H714.8M895.7 182.5H986.1M1031.3 182.5H1121.7M624.4 183.5H714.8M760 183.5H850.5M940.9 183.5H986.1M1031.3 183.5H1121.7M579.2 184.5H669.6M714.8 184.5H805.2M850.5 184.5H895.7M940.9 184.5H1076.5M579.2 185.5H669.6M714.8 185.5H805.2M850.5 185.5H940.9M986.1 185.5H1031.3M1076.5 185.5H1121.7M579.2 186.5H669.6M714.8 186.5H760M850.5 186.5H895.7M986.1 186.5H1031.3M1076.5 186.5H1121.7M669.6 187.5H986.1M1031.3 187.5H1121.7M579.2 188.5H805.2M850.5 188.5H940.9M1031.3 188.5H1076.5M579.2 189.5H714.8M760 189.5H805.2M850.5 189.5H895.7M940.9 189.5H1031.3M579.2 190.5H986.1M1076.5 190.5H1121.7M579.2 191.5H669.6M714.8 191.5H805.2M850.5 191.5H986.1M1031.3 191.5H1121.7M579.2 192.5H669.6M714.8 192.5H805.2M850.5 192.5H895.7M940.9 192.5H1076.5M624.4 193.5H669.6M986.1 193.5H1031.3M579.2 194.5H669.6M760 194.5H805.2M850.5 194.5H895.7M986.1 194.5H1031.3M1076.5 194.5H1121.7M579.2 195.5H714.8M760 195.5H850.5M895.7 195.5H986.1M1031.3 195.5H1121.7M714.8 196.5H760M805.2 196.5H850.5M986.1 196.5H1031.3M1076.5 196.5H1121.7M805.2 197.5H850.5M624.4 199.5H669.6M850.5 199.5H895.7M36.7 234.5H81.9M172.3 234.5H217.5M262.7 234.5H307.9M488.8 234.5H579.2M36.7 235.5H81.9M307.9 235.5H353.2M534 235.5H579.2M81.9 236.5H127.1M217.5 236.5H262.7M398.4 236.5H488.8M127.1 237.5H217.5M488.8 237.5H579.2M81.9 238.5H307.9M398.4 238.5H443.6M534 238.5H579.2M488.8 239.5H534M262.7 240.5H353.2M488.8 240.5H534M81.9 242.5H127.1M172.3 242.5H217.5M307.9 242.5H353.2M36.7 243.5H81.9M172.3 243.5H262.7M307.9 243.5H398.4M443.6 243.5H488.8M81.9 244.5H353.2M534 244.5H579.2M624.4 303.5H760M850.5 303.5H1121.7M895.7 304.5H940.9M1031.3 304.5H1076.5M81.9 305.5H127.1M624.4 305.5H805.2M850.5 305.5H1121.7M36.7 306.5H307.9M353.2 306.5H579.2M353.2 308.5H398.4M624.4 308.5H760M850.5 308.5H895.7M940.9 308.5H1121.7M81.9 309.5H172.3M307.9 309.5H488.8M579.2 309.5H669.6M714.8 309.5H805.2M940.9 309.5H986.1M1031.3 309.5H1076.5M127.1 310.5H172.3M217.5 310.5H262.7M307.9 310.5H443.6M534 310.5H579.2M127.1 312.5H172.3M217.5 312.5H262.7M127.1 314.5H172.3M81.9 315.5H172.3M36.7 316.5H172.3M217.5 316.5H262.7M307.9 316.5H443.6M488.8 316.5H534M579.2 318.5H850.5M895.7 318.5H940.9M986.1 318.5H1031.3M579.2 319.5H805.2M850.5 319.5H1076.5M81.9 322.5H127.1M262.7 322.5H307.9M353.2 322.5H398.4M624.4 327.5H669.6M760 327.5H805.2M850.5 327.5H940.9M624.4 328.5H669.6M850.5 328.5H940.9M986.1 344.5H1031.3M624.4 345.5H850.5M895.7 345.5H986.1M760 346.5H895.7M940.9 346.5H1121.7M624.4 347.5H760M805.2 347.5H850.5M579.2 348.5H669.6M714.8 348.5H850.5M895.7 348.5H986.1M1031.3 348.5H1076.5M579.2 349.5H624.4M805.2 349.5H895.7M940.9 349.5H986.1M1031.3 349.5H1121.7M624.4 350.5H669.6M805.2 350.5H895.7M986.1 350.5H1031.3M579.2 351.5H714.8M760 351.5H805.2M850.5 351.5H895.7M1031.3 351.5H1121.7M579.2 352.5H624.4M805.2 352.5H850.5M986.1 352.5H1031.3M760 353.5H850.5M895.7 353.5H940.9M986.1 353.5H1121.7M624.4 354.5H805.2M850.5 354.5H940.9M579.2 355.5H624.4M669.6 355.5H714.8M760 355.5H805.2M850.5 355.5H895.7M1031.3 355.5H1121.7M760 356.5H805.2M850.5 356.5H895.7M1031.3 356.5H1076.5M579.2 357.5H624.4M760 357.5H805.2M850.5 357.5H895.7M986.1 357.5H1031.3M624.4 359.5H669.6M760 359.5H850.5M940.9 359.5H1031.3M1076.5 359.5H1121.7M579.2 360.5H624.4M986.1 360.5H1031.3M579.2 362.5H624.4M760 362.5H850.5M986.1 362.5H1031.3M579.2 363.5H714.8M1031.3 363.5H1076.5M579.2 364.5H714.8M805.2 364.5H850.5M1031.3 364.5H1076.5M579.2 366.5H669.6M760 366.5H805.2M895.7 366.5H986.1M1031.3 366.5H1121.7M579.2 367.5H624.4M669.6 367.5H714.8M850.5 367.5H895.7M1031.3 367.5H1121.7M895.7 368.5H940.9M1076.5 368.5H1121.7M940.9 369.5H986.1M624.4 370.5H714.8M850.5 370.5H895.7M986.1 370.5H1031.3M579.2 371.5H624.4M805.2 371.5H895.7M940.9 371.5H1076.5M579.2 372.5H669.6M805.2 372.5H850.5M895.7 372.5H940.9M714.8 376.5H760M850.5 376.5H895.7M624.4 377.5H714.8M714.8 378.5H760M579.2 382.5H624.4M669.6 382.5H714.8M805.2 382.5H895.7M940.9 382.5H1031.3M1076.5 382.5H1121.7M805.2 384.5H850.5M36.7 541.5H81.9M127.1 541.5H262.7M307.9 541.5H488.8M534 541.5H579.2M353.2 542.5H398.4M534 542.5H579.2M36.7 543.5H81.9M127.1 543.5H353.2M398.4 543.5H579.2M81.9 544.5H172.3M398.4 544.5H443.6M172.3 545.5H217.5M262.7 545.5H398.4M443.6 545.5H534M36.7 547.5H81.9M262.7 547.5H307.9M353.2 547.5H398.4M36.7 548.5H127.1M172.3 548.5H307.9M398.4 548.5H579.2M36.7 549.5H81.9M262.7 549.5H398.4M36.7 550.5H81.9M307.9 550.5H353.2M36.7 551.5H81.9M217.5 551.5H443.6M534 551.5H579.2M36.7 555.5H81.9M262.7 555.5H353.2M488.8 555.5H534M307.9 560.5H398.4M534 560.5H579.2M307.9 561.5H353.2M534 561.5H579.2M217.5 562.5H262.7M307.9 562.5H353.2M534 562.5H579.2M579.2 564.5H669.6M714.8 564.5H760M895.7 564.5H986.1M1076.5 564.5H1121.7M579.2 565.5H624.4M760 565.5H805.2M850.5 565.5H895.7M986.1 565.5H1076.5M760 569.5H805.2M579.2 571.5H624.4M760 571.5H805.2M1031.3 571.5H1076.5M760 573.5H805.2M850.5 581.5H895.7M579.2 586.5H760M805.2 586.5H895.7M940.9 586.5H986.1M579.2 588.5H624.4M895.7 588.5H940.9M624.4 589.5H669.6M895.7 589.5H940.9M579.2 598.5H669.6M714.8 598.5H760M805.2 598.5H986.1M579.2 599.5H624.4M669.6 599.5H714.8M850.5 599.5H895.7M579.2 609.5H624.4M624.4 610.5H669.6M850.5 610.5H895.7M1031.3 610.5H1076.5M895.7 613.5H940.9M1031.3 613.5H1076.5M81.9 661.5H127.1M262.7 661.5H307.9M262.7 662.5H307.9M488.8 662.5H534M81.9 663.5H127.1M488.8 663.5H534M81.9 664.5H127.1M262.7 664.5H307.9M81.9 669.5H172.3M217.5 669.5H353.2M398.4 669.5H443.6M488.8 669.5H534M172.3 670.5H307.9M488.8 670.5H534"/>
<path stroke="#ff4d4d" d="M127.1 133.5H172.3M217.5 133.5H307.9M488.8 133.5H534M81.9 134.5H127.1M172.3 134.5H217.5M398.4 134.5H534M36.7 135.5H127.1M172.3 135.5H217.5M307.9 135.5H353.2M398.4 135.5H534M36.7 136.5H217.5M307.9 136.5H534M81.9 138.5H127.1M172.3 138.5H217.5M398.4 138.5H443.6M488.8 138.5H534M172.3 139.5H217.5M262.7 139.5H307.9M443.6 139.5H488.8M36.7 141.5H127.1M172.3 141.5H398.4M443.6 141.5H534M36.7 142.5H398.4M443.6 142.5H579.2M81.9 143.5H127.1M217.5 143.5H398.4M443.6 143.5H488.8M81.9 144.5H127.1M217.5 144.5H307.9M353.2 144.5H398.4M443.6 144.5H488.8M127.1 145.5H443.6M534 145.5H579.2M217.5 146.5H262.7M353.2 146.5H398.4M443.6 146.5H488.8M172.3 147.5H262.7M307.9 147.5H398.4M443.6 147.5H488.8M353.2 148.5H398.4M36.7 149.5H172.3M262.7 149.5H307.9M443.6 149.5H488.8M36.7 150.5H172.3M217.5 150.5H353.2M398.4 150.5H488.8M36.7 151.5H353.2M398.4 151.5H488.8M534 151.5H579.2M624.4 151.5H1076.5M579.2 152.5H624.4M669.6 152.5H1121.7M488.8 153.5H534M669.6 153.5H850.5M940.9 153.5H986.1M81.9 154.5H127.1M217.5 154.5H307.9M353.2 154.5H488.8M534 154.5H579.2M36.7 155.5H307.9M398.4 155.5H443.6M488.8 155.5H579.2M624.4 155.5H805.2M1076.5 155.5H1121.7M36.7 157.5H81.9M172.3 157.5H262.7M353.2 157.5H398.4M443.6 157.5H488.8M669.6 157.5H714.8M805.2 157.5H850.5M307.9 158.5H353.2M534 158.5H579.2M307.9 159.5H353.2M488.8 159.5H579.2M534 160.5H579.2M81.9 161.5H127.1M217.5 161.5H262.7M353.2 161.5H398.4M81.9 162.5H172.3M217.5 162.5H262.7M353.2 162.5H398.4M443.6 162.5H488.8M81.9 163.5H172.3M262.7 163.5H353.2M398.4 163.5H488.8M217.5 164.5H262.7M81.9 165.5H127.1M172.3 165.5H217.5M262.7 165.5H353.2M398.4 165.5H443.6M488.8 165.5H534M217.5 166.5H262.7M443.6 166.5H488.8M36.7 167.5H81.9M307.9 167.5H353.2M534 167.5H579.2M36.7 168.5H217.5M307.9 168.5H579.2M36.7 169.5H127.1M262.7 169.5H398.4M443.6 169.5H579.2M488.8 174.5H534M307.9 176.5H353.2M398.4 176.5H443.6M36.7 177.5H127.1M172.3 177.5H217.5M262.7 177.5H307.9M353.2 177.5H398.4M443.6 177.5H488.8M36.7 178.5H81.9M172.3 178.5H217.5M307.9 178.5H353.2M443.6 178.5H488.8M534 178.5H579.2M262.7 179.5H307.9M579.2 183.5H624.4M714.8 183.5H760M850.5 183.5H940.9M986.1 183.5H1031.3M669.6 184.5H714.8M805.2 184.5H850.5M895.7 184.5H940.9M1076.5 184.5H1121.7M669.6 185.5H714.8M805.2 185.5H850.5M940.9 185.5H986.1M1031.3 185.5H1076.5M669.6 186.5H714.8M760 186.5H850.5M895.7 186.5H986.1M1031.3 186.5H1076.5M805.2 188.5H850.5M1076.5 188.5H1121.7M714.8 189.5H760M805.2 189.5H850.5M895.7 189.5H940.9M1031.3 189.5H1121.7M1031.3 190.5H1076.5M669.6 191.5H714.8M805.2 191.5H850.5M669.6 192.5H714.8M805.2 192.5H850.5M895.7 192.5H940.9M1076.5 192.5H1121.7M579.2 193.5H624.4M669.6 193.5H714.8M760 193.5H805.2M850.5 193.5H986.1M1031.3 193.5H1076.5M669.6 194.5H760M805.2 194.5H850.5M895.7 194.5H986.1M1031.3 194.5H1076.5M579.2 196.5H714.8M760 196.5H805.2M850.5 196.5H986.1M1031.3 196.5H1076.5M81.9 234.5H172.3M217.5 234.5H262.7M307.9 234.5H488.8M81.9 235.5H217.5M262.7 235.5H307.9M353.2 235.5H398.4M443.6 235.5H534M353.2 236.5H398.4M81.9 237.5H127.1M217.5 237.5H488.8M353.2 238.5H398.4M443.6 238.5H488.8M81.9 239.5H217.5M262.7 239.5H398.4M36.7 240.5H262.7M353.2 240.5H398.4M534 240.5H579.2M81.9 241.5H127.1M172.3 241.5H217.5M36.7 242.5H81.9M127.1 242.5H172.3M217.5 242.5H307.9M353.2 242.5H443.6M488.8 242.5H579.2M127.1 243.5H172.3M262.7 243.5H307.9M398.4 243.5H443.6M488.8 243.5H579.2M36.7 244.5H81.9M353.2 244.5H534M579.2 303.5H624.4M760 303.5H850.5M624.4 304.5H850.5M940.9 304.5H1031.3M1076.5 304.5H1121.7M579.2 305.5H624.4M805.2 305.5H850.5M624.4 307.5H1121.7M579.2 308.5H624.4M760 308.5H850.5M895.7 308.5H940.9M669.6 309.5H714.8M805.2 309.5H895.7M986.1 309.5H1031.3M579.2 313.5H714.8M760 313.5H850.5M895.7 313.5H986.1M579.2 314.5H669.6M714.8 314.5H805.2M895.7 314.5H1031.3M624.4 317.5H669.6M760 317.5H805.2M895.7 317.5H1031.3M850.5 318.5H895.7M1031.3 318.5H1121.7M1076.5 319.5H1121.7M579.2 321.5H624.4M579.2 326.5H714.8M579.2 327.5H624.4M669.6 327.5H760M805.2 327.5H850.5M940.9 327.5H1121.7M579.2 328.5H624.4M669.6 328.5H805.2M940.9 328.5H1121.7M579.2 345.5H624.4M850.5 345.5H895.7M1031.3 345.5H1121.7M579.2 347.5H624.4M850.5 347.5H1121.7M669.6 348.5H714.8M850.5 348.5H895.7M986.1 348.5H1031.3M1076.5 348.5H1121.7M986.1 349.5H1031.3M805.2 351.5H850.5M986.1 351.5H1031.3M579.2 353.5H624.4M579.2 354.5H624.4M805.2 354.5H850.5M940.9 354.5H1121.7M805.2 355.5H850.5M986.1 355.5H1031.3M579.2 356.5H624.4M805.2 356.5H850.5M986.1 356.5H1031.3M579.2 359.5H624.4M850.5 359.5H895.7M714.8 366.5H760M805.2 366.5H895.7M986.1 366.5H1031.3M624.4 367.5H669.6M714.8 367.5H850.5M895.7 367.5H1031.3M579.2 368.5H714.8M760 368.5H895.7M940.9 368.5H986.1M1031.3 368.5H1076.5M579.2 369.5H624.4M669.6 369.5H940.9M986.1 369.5H1121.7M579.2 373.5H714.8M760 373.5H986.1M1076.5 373.5H1121.7M669.6 374.5H895.7M940.9 374.5H986.1M1076.5 374.5H1121.7M579.2 376.5H714.8M895.7 376.5H1031.3M1076.5 376.5H1121.7M579.2 377.5H624.4M714.8 377.5H895.7M940.9 377.5H1031.3M1076.5 377.5H1121.7M579.2 378.5H714.8M760 378.5H895.7M940.9 378.5H1121.7M714.8 381.5H760M624.4 382.5H669.6M760 382.5H805.2M895.7 382.5H940.9M1031.3 382.5H1076.5M669.6 383.5H714.8M850.5 383.5H895.7M579.2 384.5H624.4M669.6 384.5H805.2M850.5 384.5H895.7M940.9 384.5H1121.7M353.2 543.5H398.4M36.7 544.5H81.9M172.3 544.5H398.4M443.6 544.5H579.2M307.9 548.5H398.4M81.9 563.5H127.1M262.7 563.5H307.9M353.2 563.5H443.6M534 563.5H579.2M669.6 564.5H714.8M760 564.5H895.7M986.1 564.5H1076.5M81.9 565.5H127.1M36.7 572.5H81.9M36.7 573.5H127.1M127.1 576.5H172.3M172.3 578.5H217.5M398.4 578.5H443.6M669.6 598.5H714.8"/>
<path stroke="#ff3333" d="M36.7 133.5H127.1M172.3 133.5H217.5M307.9 133.5H488.8M534 133.5H579.2M1076.5 137.5H1121.7M81.9 145.5H127.1M443.6 145.5H488.8M353.2 149.5H398.4M353.2 150.5H398.4M353.2 151.5H398.4M624.4 152.5H669.6M36.7 153.5H488.8M534 153.5H669.6M850.5 153.5H940.9M986.1 153.5H1121.7M36.7 154.5H81.9M172.3 154.5H217.5M307.9 154.5H353.2M488.8 154.5H534M714.8 154.5H805.2M940.9 154.5H986.1M1031.3 154.5H1076.5M307.9 155.5H353.2M579.2 155.5H624.4M805.2 155.5H1076.5M127.1 156.5H262.7M307.9 156.5H534M81.9 157.5H127.1M262.7 157.5H353.2M398.4 157.5H443.6M488.8 157.5H624.4M714.8 157.5H805.2M850.5 157.5H1121.7M36.7 161.5H81.9M127.1 161.5H217.5M262.7 161.5H307.9M398.4 161.5H579.2M36.7 162.5H81.9M172.3 162.5H217.5M262.7 162.5H353.2M398.4 162.5H443.6M488.8 162.5H579.2M36.7 163.5H81.9M172.3 163.5H217.5M488.8 163.5H579.2M81.9 164.5H172.3M262.7 164.5H307.9M353.2 164.5H398.4M443.6 164.5H488.8M36.7 165.5H81.9M534 165.5H579.2M81.9 166.5H217.5M262.7 166.5H443.6M488.8 166.5H579.2M714.8 167.5H760M262.7 168.5H307.9M36.7 170.5H81.9M127.1 170.5H217.5M307.9 170.5H398.4M488.8 170.5H534M127.1 172.5H353.2M443.6 172.5H579.2M307.9 173.5H353.2M36.7 174.5H81.9M172.3 174.5H217.5M353.2 174.5H443.6M534 174.5H579.2M172.3 175.5H217.5M262.7 175.5H307.9M353.2 175.5H443.6M127.1 176.5H172.3M217.5 176.5H307.9M353.2 176.5H398.4M443.6 176.5H579.2M534 177.5H624.4M36.7 179.5H81.9M127.1 179.5H262.7M307.9 179.5H534M81.9 189.5H127.1M443.6 189.5H488.8M714.8 193.5H760M805.2 193.5H850.5M1076.5 193.5H1121.7M36.7 194.5H172.3M217.5 194.5H307.9M353.2 194.5H488.8M534 194.5H579.2M353.2 195.5H398.4M81.9 199.5H127.1M262.7 199.5H307.9M353.2 199.5H398.4M443.6 199.5H488.8M534 199.5H579.2M81.9 200.5H127.1M262.7 200.5H398.4M443.6 200.5H534M307.9 202.5H353.2M534 202.5H579.2M36.7 212.5H172.3M217.5 212.5H307.9M353.2 212.5H398.4M488.8 212.5H579.2M262.7 216.5H307.9M217.5 235.5H262.7M398.4 235.5H443.6M36.7 239.5H81.9M217.5 239.5H262.7M398.4 239.5H488.8M534 239.5H579.2M398.4 240.5H488.8M127.1 241.5H172.3M217.5 241.5H262.7M307.9 241.5H398.4M488.8 241.5H579.2M443.6 242.5H488.8M307.9 268.5H353.2M36.7 271.5H81.9M714.8 271.5H760M579.2 304.5H624.4M850.5 304.5H895.7M624.4 306.5H805.2M895.7 306.5H1076.5M579.2 307.5H624.4M895.7 309.5H940.9M1076.5 309.5H1121.7M624.4 310.5H805.2M579.2 311.5H624.4M669.6 311.5H805.2M940.9 311.5H986.1M714.8 313.5H760M850.5 313.5H895.7M986.1 313.5H1121.7M669.6 314.5H714.8M805.2 314.5H895.7M1031.3 314.5H1121.7M760 315.5H805.2M986.1 315.5H1031.3M579.2 316.5H805.2M850.5 316.5H1031.3M1076.5 316.5H1121.7M579.2 317.5H624.4M669.6 317.5H760M805.2 317.5H895.7M1031.3 317.5H1076.5M579.2 320.5H986.1M1031.3 320.5H1076.5M624.4 321.5H805.2M850.5 321.5H895.7M940.9 321.5H986.1M1031.3 321.5H1076.5M624.4 322.5H714.8M760 322.5H805.2M940.9 322.5H986.1M624.4 323.5H760M940.9 323.5H986.1M1076.5 323.5H1121.7M624.4 324.5H850.5M940.9 324.5H986.1M1076.5 324.5H1121.7M624.4 325.5H669.6M714.8 326.5H1121.7M805.2 328.5H850.5M760 331.5H805.2M760 333.5H805.2M624.4 336.5H669.6M760 336.5H805.2M624.4 337.5H669.6M760 337.5H850.5M714.8 338.5H760M624.4 339.5H669.6M714.8 339.5H760M714.8 340.5H760M986.1 345.5H1031.3M714.8 368.5H760M986.1 368.5H1031.3M624.4 369.5H669.6M714.8 373.5H760M986.1 373.5H1076.5M579.2 374.5H669.6M895.7 374.5H940.9M986.1 374.5H1076.5M850.5 375.5H895.7M1076.5 375.5H1121.7M760 376.5H850.5M1031.3 376.5H1076.5M895.7 377.5H940.9M1031.3 377.5H1076.5M895.7 378.5H940.9M624.4 379.5H805.2M1076.5 379.5H1121.7M624.4 380.5H850.5M1076.5 380.5H1121.7M624.4 381.5H714.8M760 381.5H850.5M940.9 381.5H986.1M1031.3 381.5H1121.7M579.2 383.5H669.6M714.8 383.5H760M805.2 383.5H850.5M895.7 383.5H1121.7M624.4 384.5H669.6M895.7 384.5H940.9M669.6 385.5H760M805.2 385.5H850.5M1076.5 385.5H1121.7M669.6 387.5H714.8M669.6 388.5H714.8M36.7 563.5H81.9M127.1 563.5H262.7M307.9 563.5H353.2M443.6 563.5H534M36.7 564.5H127.1M353.2 564.5H443.6M534 564.5H579.2M36.7 565.5H81.9M127.1 565.5H172.3M262.7 565.5H307.9M353.2 565.5H488.8M534 565.5H579.2M36.7 566.5H81.9M127.1 566.5H172.3M307.9 566.5H353.2M443.6 566.5H534M36.7 567.5H81.9M353.2 567.5H398.4M488.8 567.5H534M36.7 568.5H579.2M36.7 569.5H172.3M262.7 569.5H443.6M488.8 569.5H534M36.7 570.5H127.1M307.9 570.5H443.6M488.8 570.5H534M36.7 571.5H217.5M307.9 571.5H353.2M398.4 571.5H534M81.9 572.5H353.2M398.4 572.5H579.2M127.1 573.5H353.2M398.4 573.5H579.2M81.9 574.5H217.5M262.7 574.5H307.9M353.2 574.5H398.4M488.8 574.5H534M81.9 576.5H127.1M172.3 576.5H579.2M127.1 577.5H262.7M307.9 577.5H579.2M36.7 578.5H172.3M217.5 578.5H398.4M443.6 578.5H579.2M36.7 579.5H217.5M262.7 579.5H353.2M398.4 579.5H579.2M36.7 580.5H81.9M127.1 580.5H217.5M262.7 580.5H307.9M398.4 580.5H443.6M488.8 580.5H579.2M172.3 581.5H217.5M262.7 581.5H307.9M398.4 581.5H443.6M488.8 581.5H579.2"/>
<path stroke="#ff1919" d="M579.2 133.5H1121.7M579.2 134.5H1121.7M579.2 135.5H1121.7M579.2 136.5H1121.7M579.2 137.5H1076.5M579.2 138.5H1121.7M579.2 139.5H1121.7M579.2 140.5H1121.7M579.2 141.5H1121.7M579.2 142.5H1121.7M579.2 143.5H1121.7M579.2 144.5H1121.7M579.2 145.5H1121.7M579.2 146.5H1121.7M579.2 147.5H1121.7M579.2 148.5H1121.7M579.2 149.5H1121.7M579.2 150.5H1121.7M579.2 154.5H714.8M805.2 154.5H940.9M986.1 154.5H1031.3M1076.5 154.5H1121.7M36.7 156.5H127.1M262.7 156.5H307.9M534 156.5H1121.7M624.4 157.5H669.6M579.2 158.5H1121.7M579.2 159.5H1121.7M579.2 160.5H1121.7M307.9 161.5H353.2M579.2 161.5H1121.7M579.2 162.5H1121.7M579.2 163.5H1121.7M36.7 164.5H81.9M172.3 164.5H217.5M307.9 164.5H353.2M398.4 164.5H443.6M488.8 164.5H1121.7M579.2 165.5H1121.7M36.7 166.5H81.9M579.2 166.5H1121.7M579.2 167.5H714.8M760 167.5H1121.7M579.2 168.5H1121.7M579.2 169.5H1121.7M81.9 170.5H127.1M217.5 170.5H307.9M398.4 170.5H488.8M534 170.5H1121.7M36.7 171.5H1121.7M36.7 172.5H127.1M353.2 172.5H443.6M579.2 172.5H1121.7M36.7 173.5H307.9M353.2 173.5H1121.7M81.9 174.5H172.3M217.5 174.5H353.2M443.6 174.5H488.8M579.2 174.5H1121.7M36.7 175.5H172.3M217.5 175.5H262.7M307.9 175.5H353.2M443.6 175.5H1121.7M36.7 176.5H127.1M579.2 176.5H1121.7M624.4 177.5H1121.7M579.2 178.5H1121.7M81.9 179.5H127.1M534 179.5H1121.7M36.7 180.5H1121.7M36.7 181.5H1121.7M36.7 182.5H579.2M36.7 183.5H579.2M36.7 184.5H579.2M36.7 185.5H579.2M36.7 186.5H579.2M36.7 187.5H579.2M36.7 188.5H579.2M36.7 189.5H81.9M127.1 189.5H443.6M488.8 189.5H579.2M36.7 190.5H579.2M36.7 191.5H579.2M36.7 192.5H579.2M36.7 193.5H579.2M172.3 194.5H217.5M307.9 194.5H353.2M488.8 194.5H534M36.7 195.5H353.2M398.4 195.5H579.2M36.7 196.5H579.2M36.7 197.5H579.2M36.7 198.5H579.2M36.7 199.5H81.9M127.1 199.5H262.7M307.9 199.5H353.2M398.4 199.5H443.6M488.8 199.5H534M36.7 200.5H81.9M127.1 200.5H262.7M398.4 200.5H443.6M534 200.5H1121.7M36.7 201.5H1121.7M36.7 202.5H307.9M353.2 202.5H534M579.2 202.5H1121.7M36.7 203.5H1121.7M36.7 204.5H1121.7M36.7 205.5H1121.7M36.7 206.5H1121.7M36.7 207.5H1121.7M36.7 208.5H1121.7M36.7 209.5H1121.7M36.7 210.5H1121.7M36.7 211.5H1121.7M172.3 212.5H217.5M307.9 212.5H353.2M398.4 212.5H488.8M579.2 212.5H1121.7M36.7 213.5H1121.7M36.7 214.5H1121.7M36.7 215.5H1121.7M36.7 216.5H262.7M307.9 216.5H1121.7M36.7 217.5H1121.7M36.7 218.5H1121.7M36.7 219.5H1121.7M36.7 220.5H1121.7M36.7 221.5H1121.7M36.7 222.5H1121.7M36.7 223.5H1121.7M36.7 224.5H1121.7M36.7 225.5H1121.7M36.7 226.5H1121.7M36.7 227.5H1121.7M36.7 228.5H1121.7M36.7 229.5H1121.7M36.7 230.5H1121.7M36.7 231.5H1121.7M36.7 232.5H1121.7M36.7 233.5H1121.7M579.2 234.5H1121.7M579.2 235.5H1121.7M579.2 236.5H1121.7M579.2 237.5H1121.7M579.2 238.5H1121.7M579.2 239.5H1121.7M579.2 240.5H1121.7M36.7 241.5H81.9M262.7 241.5H307.9M398.4 241.5H488.8M579.2 241.5H1121.7M579.2 242.5H1121.7M579.2 243.5H1121.7M579.2 244.5H1121.7M36.7 245.5H1121.7M36.7 246.5H1121.7M36.7 247.5H1121.7M36.7 248.5H1121.7M36.7 249.5H1121.7M36.7 250.5H1121.7M36.7 251.5H1121.7M36.7 252.5H1121.7M36.7 253.5H1121.7M36.7 254.5H1121.7M36.7 255.5H1121.7M36.7 256.5H1121.7M36.7 257.5H1121.7M36.7 258.5H1121.7M36.7 259.5H1121.7M36.7 260.5H1121.7M36.7 261.5H1121.7M36.7 262.5H1121.7M36.7 263.5H1121.7M36.7 264.5H1121.7M36.7 265.5H1121.7M36.7 266.5H1121.7M36.7 267.5H1121.7M36.7 268.5H307.9M353.2 268.5H1121.7M36.7 269.5H1121.7M36.7 270.5H1121.7M81.9 271.5H714.8M760 271.5H1121.7M36.7 272.5H1121.7M36.7 273.5H1121.7M36.7 274.5H1121.7M36.7 275.5H1121.7M36.7 276.5H1121.7M36.7 277.5H1121.7M36.7 278.5H1121.7M36.7 279.5H1121.7M36.7 280.5H1121.7M36.7 281.5H1121.7M36.7 282.5H1121.7M579.2 306.5H624.4M805.2 306.5H895.7M1076.5 306.5H1121.7M579.2 310.5H624.4M805.2 310.5H1121.7M624.4 311.5H669.6M805.2 311.5H940.9M986.1 311.5H1121.7M579.2 312.5H1121.7M579.2 315.5H760M805.2 315.5H986.1M1031.3 315.5H1121.7M805.2 316.5H850.5M1031.3 316.5H1076.5M1076.5 317.5H1121.7M986.1 320.5H1031.3M1076.5 320.5H1121.7M805.2 321.5H850.5M895.7 321.5H940.9M986.1 321.5H1031.3M1076.5 321.5H1121.7M579.2 322.5H624.4M714.8 322.5H760M805.2 322.5H940.9M986.1 322.5H1121.7M579.2 323.5H624.4M760 323.5H940.9M986.1 323.5H1076.5M579.2 324.5H624.4M850.5 324.5H940.9M986.1 324.5H1076.5M579.2 325.5H624.4M669.6 325.5H1121.7M579.2 329.5H1121.7M579.2 330.5H1121.7M579.2 331.5H760M805.2 331.5H1121.7M579.2 332.5H1121.7M579.2 333.5H760M805.2 333.5H1121.7M579.2 334.5H1121.7M579.2 335.5H1121.7M579.2 336.5H624.4M669.6 336.5H760M805.2 336.5H1121.7M579.2 337.5H624.4M669.6 337.5H760M850.5 337.5H1121.7M579.2 338.5H714.8M760 338.5H1121.7M579.2 339.5H624.4M669.6 339.5H714.8M760 339.5H1121.7M579.2 340.5H714.8M760 340.5H1121.7M579.2 341.5H1121.7M579.2 342.5H1121.7M579.2 375.5H850.5M895.7 375.5H1076.5M579.2 379.5H624.4M805.2 379.5H1076.5M579.2 380.5H624.4M850.5 380.5H1076.5M579.2 381.5H624.4M850.5 381.5H940.9M986.1 381.5H1031.3M760 383.5H805.2M579.2 385.5H669.6M760 385.5H805.2M850.5 385.5H1076.5M579.2 386.5H1121.7M579.2 387.5H669.6M714.8 387.5H1121.7M579.2 388.5H669.6M714.8 388.5H1121.7M127.1 564.5H353.2M443.6 564.5H534M172.3 565.5H262.7M307.9 565.5H353.2M488.8 565.5H534M81.9 566.5H127.1M172.3 566.5H307.9M353.2 566.5H443.6M534 566.5H579.2M81.9 567.5H353.2M398.4 567.5H488.8M534 567.5H579.2M172.3 569.5H262.7M443.6 569.5H488.8M534 569.5H579.2M127.1 570.5H307.9M443.6 570.5H488.8M534 570.5H579.2M217.5 571.5H307.9M353.2 571.5H398.4M534 571.5H579.2M353.2 572.5H398.4M353.2 573.5H398.4M36.7 574.5H81.9M217.5 574.5H262.7M307.9 574.5H353.2M398.4 574.5H488.8M534 574.5H579.2M36.7 575.5H579.2M36.7 576.5H81.9M36.7 577.5H127.1M262.7 577.5H307.9M217.5 579.5H262.7M353.2 579.5H398.4M81.9 580.5H127.1M217.5 580.5H262.7M307.9 580.5H398.4M443.6 580.5H488.8M36.7 581.5H172.3M217.5 581.5H262.7M307.9 581.5H398.4M443.6 581.5H488.8"/>
</g>
</g>
<g id="colorkey">
<defs><linearGradient id="ck" x1="0" x2="1" y1="0" y2="0"><stop offset="0" stop-color="#0000ff"/><stop offset="0.25" stop-color="#0000ff"/><stop offset="0.5" stop-color="#ffffff"/><stop offset="1" stop-color="#ff0000"/></linearGradient></defs>
<text x="547" y="26.9" font-size="28.85" text-anchor="middle" font-weight="bold">Color key</text>
<rect x="445" y="39.5" width="204.7" height="34" fill="url(#ck)"/>
<path d="M445 39.4H649.7" stroke="#444" stroke-width="0.6" fill="none"/>
<path d="M495.5 73.4H650" stroke="#000" stroke-width="2" fill="none"/>
<path d="M496.2 73v12.8M522 73v12.8M547.6 73v12.8M573 73v12.8M598.3 73v12.8M623.9 73v12.8M649 73v12.8" stroke="#000" stroke-width="1.8" fill="none"/>
<text x="495.5" y="118.8" font-size="30.0" text-anchor="middle" letter-spacing="-0.3">–2</text>
<text x="547.6" y="118.8" font-size="30.0" text-anchor="middle" letter-spacing="-0.3">0</text>
<text x="598.3" y="118.8" font-size="30.0" text-anchor="middle" letter-spacing="-0.3">0</text>
<text x="649.5" y="118.8" font-size="30.0" text-anchor="middle" letter-spacing="-0.3">4</text>
</g>
<g id="heatmap-labels">
<text x="61.4" y="1319.4" font-size="30.0" text-anchor="middle" letter-spacing="0.0">1</text>
<text x="106" y="1319.4" font-size="30.0" text-anchor="middle" letter-spacing="0.0">2</text>
<text x="151.7" y="1319.4" font-size="30.0" text-anchor="middle" letter-spacing="0.0">3</text>
<text x="191" y="1319.4" font-size="30.0" text-anchor="middle" letter-spacing="0.0">4</text>
<text x="235.6" y="1319.4" font-size="30.0" text-anchor="middle" letter-spacing="0.0">5</text>
<text x="280.9" y="1319.4" font-size="30.0" text-anchor="middle" letter-spacing="0.0">6</text>
<text x="334.6" y="1319.4" font-size="30.0" text-anchor="middle" letter-spacing="0.0">1</text>
<text x="375.7" y="1319.4" font-size="30.0" text-anchor="middle" letter-spacing="0.0">2</text>
<text x="424.9" y="1319.4" font-size="30.0" text-anchor="middle" letter-spacing="0.0">3</text>
<text x="463.8" y="1319.4" font-size="30.0" text-anchor="middle" letter-spacing="0.0">4</text>
<text x="508.8" y="1319.4" font-size="30.0" text-anchor="middle" letter-spacing="0.0">5</text>
<text x="554.1" y="1319.4" font-size="30.0" text-anchor="middle" letter-spacing="0.0">6</text>
<text x="609.3" y="1319.4" font-size="30.0" text-anchor="middle" letter-spacing="0.0">1</text>
<text x="656.7" y="1319.4" font-size="30.0" text-anchor="middle" letter-spacing="0.0">2</text>
<text x="698.9" y="1319.4" font-size="30.0" text-anchor="middle" letter-spacing="0.0">3</text>
<text x="738.5" y="1319.4" font-size="30.0" text-anchor="middle" letter-spacing="0.0">4</text>
<text x="783.1" y="1319.4" font-size="30.0" text-anchor="middle" letter-spacing="0.0">5</text>
<text x="828.8" y="1319.4" font-size="30.0" text-anchor="middle" letter-spacing="0.0">6</text>
<text x="883.2" y="1319.4" font-size="30.0" text-anchor="middle" letter-spacing="0.0">1</text>
<text x="929.9" y="1319.4" font-size="30.0" text-anchor="middle" letter-spacing="0.0">2</text>
<text x="973.8" y="1319.4" font-size="30.0" text-anchor="middle" letter-spacing="0.0">3</text>
<text x="1012.8" y="1319.4" font-size="30.0" text-anchor="middle" letter-spacing="0.0">4</text>
<text x="1057.7" y="1319.4" font-size="30.0" text-anchor="middle" letter-spacing="0.0">5</text>
<text x="1102.7" y="1319.4" font-size="30.0" text-anchor="middle" letter-spacing="0.0">6</text>
<path d="M57.9 1333H281.6" stroke="#000" stroke-width="2.4" fill="none"/>
<path d="M331.1 1333H555.1" stroke="#000" stroke-width="2.4" fill="none"/>
<path d="M605.8 1333H829.5" stroke="#000" stroke-width="2.4" fill="none"/>
<path d="M880 1333H1104" stroke="#000" stroke-width="2.4" fill="none"/>
<text x="168.9" y="1371.0" font-size="29.8" text-anchor="middle" letter-spacing="-0.25">CTR</text>
<text x="456.5" y="1371.0" font-size="29.8" text-anchor="middle" letter-spacing="-0.25">eHP</text>
<text x="716.9" y="1371.0" font-size="29.8" text-anchor="middle" letter-spacing="-0.25">CTR HS</text>
<text x="1001" y="1371.0" font-size="29.8" text-anchor="middle" letter-spacing="-0.25">eHP HS</text>
</g>
<g id="panel-b">
<rect x="1307.4" y="0.8" width="538.3" height="625.2" fill="none" stroke="#000" stroke-width="1.6"/>
<path d="M1299 49.8h8.5M1299 174.4h8.5M1299 299.3h8.5M1299 424.1h8.5M1299 548.9h8.5M1330.5 626v8.3M1421 626v8.3M1512 626v8.3M1602.5 626v8.3M1693.4 626v8.3M1783.9 626v8.3" stroke="#000" stroke-width="1.3" fill="none"/>
<text x="1287" y="61.199999999999996" font-size="30.0" text-anchor="end" letter-spacing="-0.45">0.3</text>
<text x="1287" y="185.8" font-size="30.0" text-anchor="end" letter-spacing="-0.45">0.2</text>
<text x="1287" y="310.7" font-size="30.0" text-anchor="end" letter-spacing="-0.45">0.1</text>
<text x="1287" y="435.5" font-size="30.0" text-anchor="end" letter-spacing="-0.45">0.0</text>
<text x="1287" y="560.3" font-size="30.0" text-anchor="end" letter-spacing="-0.45">–0.1</text>
<text x="1336.5" y="667" font-size="30.0" text-anchor="middle" letter-spacing="-0.45">0.05</text>
<text x="1427" y="667" font-size="30.0" text-anchor="middle" letter-spacing="-0.45">0.10</text>
<text x="1518" y="667" font-size="30.0" text-anchor="middle" letter-spacing="-0.45">0.15</text>
<text x="1608.5" y="667" font-size="30.0" text-anchor="middle" letter-spacing="-0.45">0.20</text>
<text x="1699.4" y="667" font-size="30.0" text-anchor="middle" letter-spacing="-0.45">0.25</text>
<text x="1789.9" y="667" font-size="30.0" text-anchor="middle" letter-spacing="-0.45">0.30</text>
<text x="1576" y="713" font-size="30.2" text-anchor="middle" letter-spacing="-0.38">Comp 1</text>
<text x="0" y="0" font-size="30.2" text-anchor="middle" transform="translate(1200.7 313) rotate(-90)" letter-spacing="-0.35">Comp 2</text>
<g fill="#000"><circle cx="1389" cy="70.4" r="4.6"/><circle cx="1406.1" cy="71.3" r="4.6"/><circle cx="1379.8" cy="77" r="4.6"/><circle cx="1368.8" cy="87.5" r="4.6"/><circle cx="1389" cy="89.3" r="4.6"/><circle cx="1395.4" cy="89.2" r="4.6"/></g>
<g fill="#f00"><circle cx="1406" cy="52.5" r="4.6"/><circle cx="1398.6" cy="71.6" r="4.6"/><circle cx="1387.1" cy="81.4" r="4.6"/><circle cx="1400" cy="81.1" r="4.6"/><circle cx="1384.2" cy="87.9" r="4.6"/><circle cx="1378.7" cy="100.8" r="4.6"/></g>
<g fill="#00f"><circle cx="1706.4" cy="518.4" r="4.6"/><circle cx="1747.8" cy="517.2" r="4.6"/><circle cx="1752.8" cy="518.9" r="4.6"/><circle cx="1775.3" cy="499.1" r="4.6"/><circle cx="1782.4" cy="563.8" r="4.6"/><circle cx="1734.4" cy="574.4" r="4.6"/></g>
<g fill="#0f0"><circle cx="1659.5" cy="506.5" r="4.6"/><circle cx="1673.4" cy="540.7" r="4.6"/><circle cx="1757.7" cy="519.2" r="4.6"/><circle cx="1754.8" cy="520.4" r="4.6"/><circle cx="1750.4" cy="530.2" r="4.6"/><circle cx="1784.3" cy="522.8" r="4.6"/></g>
<circle cx="1747.8" cy="19.6" r="3.8" fill="#000"/>
<text x="1759.3" y="25.15" font-size="21.3" letter-spacing="-0.16">CTR</text>
<circle cx="1747.8" cy="40.8" r="3.8" fill="#f00"/>
<text x="1759.3" y="47.25" font-size="21.3" letter-spacing="-0.16">eHP</text>
<circle cx="1747.8" cy="63.0" r="3.8" fill="#00f"/>
<text x="1759.3" y="70.05" font-size="21.3" letter-spacing="-0.16">CTR HS</text>
<circle cx="1747.8" cy="88.7" r="3.8" fill="#0f0"/>
<text x="1759.3" y="94.05" font-size="21.3" letter-spacing="-0.16">eHP HS</text>
</g>
<g id="panel-c">
<rect x="1306.8" y="760.5" width="597.8" height="557.2" fill="none" stroke="#000" stroke-width="1.5"/>
<path d="M1299 786.7h8.5M1299 879.5h8.5M1299 972.3h8.5M1299 1065.9h8.5M1299 1158.8h8.5M1299 1252h8.5M1344.7 1317.7v7.6M1447.5 1317.7v7.6M1550.8 1317.7v7.6M1654.1 1317.7v7.6M1757 1317.7v7.6M1859.8 1317.7v7.6" stroke="#000" stroke-width="1.3" fill="none"/>
<text x="1287" y="798.1" font-size="30.0" text-anchor="end" letter-spacing="-0.45">0.4</text>
<text x="1287" y="890.9" font-size="30.0" text-anchor="end" letter-spacing="-0.45">0.2</text>
<text x="1287" y="983.6999999999999" font-size="30.0" text-anchor="end" letter-spacing="-0.45">0.0</text>
<text x="1287" y="1077.3000000000002" font-size="30.0" text-anchor="end" letter-spacing="-0.45">–0.2</text>
<text x="1287" y="1170.2" font-size="30.0" text-anchor="end" letter-spacing="-0.45">–0.4</text>
<text x="1287" y="1263.4" font-size="30.0" text-anchor="end" letter-spacing="-0.45">–0.6</text>
<text x="1344.7" y="1359" font-size="30.0" text-anchor="middle" letter-spacing="-0.45">–0.6</text>
<text x="1447.5" y="1359" font-size="30.0" text-anchor="middle" letter-spacing="-0.45">–0.5</text>
<text x="1550.8" y="1359" font-size="30.0" text-anchor="middle" letter-spacing="-0.45">–0.4</text>
<text x="1654.1" y="1359" font-size="30.0" text-anchor="middle" letter-spacing="-0.45">–0.3</text>
<text x="1757" y="1359" font-size="30.0" text-anchor="middle" letter-spacing="-0.45">–0.2</text>
<text x="1859.8" y="1359" font-size="30.0" text-anchor="middle" letter-spacing="-0.45">–0.1</text>
<text x="1605" y="1398.3" font-size="30.2" text-anchor="middle" letter-spacing="-0.38">Comp 1</text>
<text x="0" y="0" font-size="30.2" text-anchor="middle" transform="translate(1200.7 1038.5) rotate(-90)" letter-spacing="-0.35">Comp 2</text>
<g fill="#00f"><circle cx="1768.8" cy="801.8" r="4.2"/><circle cx="1744.1" cy="840.6" r="4.2"/><circle cx="1814.5" cy="838.3" r="4.2"/><circle cx="1836.5" cy="827.3" r="4.2"/><circle cx="1831.4" cy="849.3" r="4.2"/><circle cx="1810" cy="876.3" r="4.2"/></g>
<g fill="#0f0"><circle cx="1648.6" cy="919.2" r="4.2"/><circle cx="1673.8" cy="915.6" r="4.2"/><circle cx="1685.6" cy="934.8" r="4.2"/><circle cx="1622.6" cy="970.4" r="4.2"/><circle cx="1374.9" cy="1055.4" r="4.2"/><circle cx="1542.1" cy="1275.8" r="4.2"/></g>
<circle cx="1411" cy="789.4" r="3.8" fill="#00f"/>
<text x="1398.7" y="796.1" font-size="21.3" text-anchor="end" letter-spacing="-0.16">CTR HS</text>
<circle cx="1411" cy="818.7" r="3.8" fill="#0f0"/>
<text x="1398.7" y="824.1" font-size="21.3" text-anchor="end" letter-spacing="-0.16">eHP HS</text>
</g>
<g id="panel-d">
<path d="M384.5 1601.5V1801.3H873.4" stroke="#000" stroke-width="2" fill="none"/>
<path d="M379.5 1630.0h5M379.5 1677.7h5M379.5 1725.3h5M379.5 1773.0h5M406.2 1801.3v5M513.1 1801.3v5M619.5 1801.3v5M725.8 1801.3v5M832.2 1801.3v5" stroke="#000" stroke-width="1.4" fill="none"/>
<g fill="#595959"><rect x="406.2" y="1618.1" width="446.3" height="23.8"/><rect x="406.2" y="1665.8" width="427.7" height="23.8"/><rect x="406.2" y="1713.4" width="369.6" height="23.8"/><rect x="406.2" y="1761.0" width="353.9" height="23.8"/></g>
<g font-weight="bold" font-size="20.8" text-anchor="end"><text x="370" y="1637.4">HALLMARK_HEME_METABOLISM</text><text x="370" y="1685.1">HALLMARK_G2M_CHECKPOINT</text><text x="370" y="1732.7">HALLMARK_MYC_TARGETS_V2</text><text x="370" y="1780.4">HALLMARK_MYC_TARGETS_V1</text></g>
<g font-size="21" text-anchor="middle"><text x="406.2" y="1833">0.0</text><text x="513.1" y="1833">0.2</text><text x="619.5" y="1833">0.4</text><text x="725.8" y="1833">0.6</text><text x="832.2" y="1833">0.8</text></g>
<text x="629.6" y="1869" font-size="20.6" text-anchor="middle">–log10[FDR]</text>
</g>
<g id="panel-e">
<path d="M491 1941.8V2277.7H873.4" stroke="#000" stroke-width="2" fill="none"/>
<path d="M486 1966.0h5M486 2007.0h5M486 2048.0h5M486 2089.0h5M486 2130.0h5M486 2171.0h5M486 2212.0h5M486 2253.0h5M507.9 2277.7v5M586.9 2277.7v5M665.4 2277.7v5M744.4 2277.7v5M822.9 2277.7v5" stroke="#000" stroke-width="1.4" fill="none"/>
<g fill="#595959"><rect x="507.9" y="1955.8" width="349.3" height="20.3"/><rect x="507.9" y="1996.8" width="342.9" height="20.3"/><rect x="507.9" y="2037.8" width="315.6" height="20.3"/><rect x="507.9" y="2078.8" width="134.2" height="20.3"/><rect x="507.9" y="2119.8" width="127.3" height="20.3"/><rect x="507.9" y="2160.8" width="126.7" height="20.3"/><rect x="507.9" y="2201.8" width="122.0" height="20.3"/><rect x="507.9" y="2242.8" width="104.0" height="20.3"/></g>
<g font-weight="bold" font-size="20.8" text-anchor="end"><text x="475.6" y="1972.9">HALLMARK_MITOTIC_SPINDLE</text><text x="475.6" y="2013.9">HALLMARK_G2M_CHECKPOINT</text><text x="475.6" y="2054.9">HALLMARK_E2F_TARGETS</text><text x="475.6" y="2095.9">HALLMARK_ANGIOGENESIS</text><text x="475.6" y="2136.9">HALLMARK_SPERMATOGENESIS</text><text x="475.6" y="2177.9">HALLMARK_NOTCH_SIGNALING</text><text x="475.6" y="2218.9">HALLMARK_COAGULATION</text><text x="475.6" y="2259.9">HALLMARK_WNT_BETA_CATENIN_SIGNALING</text></g>
<g font-size="21" text-anchor="middle"><text x="507.9" y="2308">0.0</text><text x="586.9" y="2308">0.5</text><text x="665.4" y="2308">1.0</text><text x="744.4" y="2308">1.5</text><text x="822.9" y="2308">2.0</text></g>
<text x="681.6" y="2338.7" font-size="20.6" text-anchor="middle">–log10[FDR]</text>
</g>
<g id="panel-f">
<path d="M1565.2 1444V2501.4H1849.6" stroke="#000" stroke-width="2" fill="none"/>
<path d="M1560.2 1464.3h5M1560.2 1498.2h5M1560.2 1532.1h5M1560.2 1566.0h5M1560.2 1599.9h5M1560.2 1633.8h5M1560.2 1667.6h5M1560.2 1701.5h5M1560.2 1735.4h5M1560.2 1769.3h5M1560.2 1803.2h5M1560.2 1837.1h5M1560.2 1871.0h5M1560.2 1904.9h5M1560.2 1938.8h5M1560.2 1972.7h5M1560.2 2006.5h5M1560.2 2040.4h5M1560.2 2074.3h5M1560.2 2108.2h5M1560.2 2142.1h5M1560.2 2176.0h5M1560.2 2209.9h5M1560.2 2243.8h5M1560.2 2277.7h5M1560.2 2311.6h5M1560.2 2345.4h5M1560.2 2379.3h5M1560.2 2413.2h5M1560.2 2447.1h5M1560.2 2481.0h5M1577.2 2501.4v5M1644.7 2501.4v5M1711.7 2501.4v5M1779.2 2501.4v5M1846.7 2501.4v5" stroke="#000" stroke-width="1.4" fill="none"/>
<g fill="#595959"><rect x="1577.2" y="1455.5" width="272.3" height="17.7"/><rect x="1577.2" y="1489.3" width="272.3" height="17.7"/><rect x="1577.2" y="1523.2" width="272.3" height="17.7"/><rect x="1577.2" y="1557.1" width="272.3" height="17.7"/><rect x="1577.2" y="1591.0" width="272.3" height="17.7"/><rect x="1577.2" y="1624.9" width="272.3" height="17.7"/><rect x="1577.2" y="1658.8" width="272.3" height="17.7"/><rect x="1577.2" y="1692.7" width="259.2" height="17.7"/><rect x="1577.2" y="1726.6" width="232.3" height="17.7"/><rect x="1577.2" y="1760.5" width="194.5" height="17.7"/><rect x="1577.2" y="1794.3" width="182.5" height="17.7"/><rect x="1577.2" y="1828.2" width="139.0" height="17.7"/><rect x="1577.2" y="1862.1" width="120.2" height="17.7"/><rect x="1577.2" y="1896.0" width="108.2" height="17.7"/><rect x="1577.2" y="1929.9" width="105.3" height="17.7"/><rect x="1577.2" y="1963.8" width="97.9" height="17.7"/><rect x="1577.2" y="1997.7" width="81.3" height="17.7"/><rect x="1577.2" y="2031.6" width="79.6" height="17.7"/><rect x="1577.2" y="2065.5" width="66.4" height="17.7"/><rect x="1577.2" y="2099.4" width="63.5" height="17.7"/><rect x="1577.2" y="2133.2" width="63.0" height="17.7"/><rect x="1577.2" y="2167.1" width="59.0" height="17.7"/><rect x="1577.2" y="2201.0" width="56.7" height="17.7"/><rect x="1577.2" y="2234.9" width="56.7" height="17.7"/><rect x="1577.2" y="2268.8" width="54.4" height="17.7"/><rect x="1577.2" y="2302.7" width="53.8" height="17.7"/><rect x="1577.2" y="2336.6" width="53.8" height="17.7"/><rect x="1577.2" y="2370.5" width="53.2" height="17.7"/><rect x="1577.2" y="2404.4" width="47.5" height="17.7"/><rect x="1577.2" y="2438.3" width="45.8" height="17.7"/><rect x="1577.2" y="2472.2" width="45.2" height="17.7"/></g>
<g font-weight="bold" font-size="20.8" text-anchor="end"><text x="1550.6" y="1472.4">HALLMARK_KRAS_SIGNALING_UP</text><text x="1550.6" y="1506.3">HALLMARK_INTERFERON_ALPHA_RESPONSE</text><text x="1550.6" y="1540.2">HALLMARK_ALLOGRAFT_REJECTION</text><text x="1550.6" y="1574.1">HALLMARK_INTERFERON_GAMMA_RESPONSE</text><text x="1550.6" y="1608.0">HALLMARK_IL6_JAK_STAT3_SIGNALING</text><text x="1550.6" y="1641.8">HALLMARK_INFLAMMATORY_RESPONSE</text><text x="1550.6" y="1675.7">HALLMARK_TNFA_SIGNALING_VIA_NFKB</text><text x="1550.6" y="1709.6">HALLMARK_ANGIOGENESIS</text><text x="1550.6" y="1743.5">HALLMARK_IL2_STAT5_SIGNALING</text><text x="1550.6" y="1777.4">HALLMARK_COMPLEMENT</text><text x="1550.6" y="1811.3">HALLMARK_APICAL_SURFACE</text><text x="1550.6" y="1845.2">HALLMARK_TGF_BETA_SIGNALING</text><text x="1550.6" y="1879.1">HALLMARK_UV_RESPONSE_UP</text><text x="1550.6" y="1913.0">HALLMARK_APOPTOSIS</text><text x="1550.6" y="1946.9">HALLMARK_NOTCH_SIGNALING</text><text x="1550.6" y="1980.8">HALLMARK_EPITHELIAL_MESENCHYMAL_TRANSITION</text><text x="1550.6" y="2014.6">HALLMARK_COAGULATION</text><text x="1550.6" y="2048.5">HALLMARK_APICAL_JUNCTION</text><text x="1550.6" y="2082.4">HALLMARK_ANDROGEN_RESPONSE</text><text x="1550.6" y="2116.3">HALLMARK_PI3K_AKT_MTOR_SIGNALING</text><text x="1550.6" y="2150.2">HALLMARK_HYPOXIA</text><text x="1550.6" y="2184.1">HALLMARK_WNT_BETA_CATENIN_SIGNALING</text><text x="1550.6" y="2218.0">HALLMARK_G2M_CHECKPOINT</text><text x="1550.6" y="2251.9">HALLMARK_XENOBIOTIC_METABOLISM</text><text x="1550.6" y="2285.8">HALLMARK_ESTROGEN_RESPONSE_LATE</text><text x="1550.6" y="2319.7">HALLMARK_ESTROGEN_RESPONSE_EARLY</text><text x="1550.6" y="2353.5">HALLMARK_MITOTIC_SPINDLE</text><text x="1550.6" y="2387.4">HALLMARK_P53_PATHWAY</text><text x="1550.6" y="2421.3">HALLMARK_REACTIVE_OXYGEN_SPECIES_PATHWAY</text><text x="1550.6" y="2455.2">HALLMARK_MTORC1_SIGNALING</text><text x="1550.6" y="2489.1">HALLMARK_UNFOLDED_PROTEIN_RESPONSE</text></g>
<g font-size="21" text-anchor="middle"><text x="1577.2" y="2531">0</text><text x="1644.7" y="2531">1</text><text x="1711.7" y="2531">2</text><text x="1779.2" y="2531">3</text><text x="1846.7" y="2531">4</text></g>
<text x="1707.7" y="2561.2" font-size="20.6" text-anchor="middle">–log10[FDR]</text>
</g>
<g id="letters">
<text x="-1.5" y="33.5" font-size="42.3" font-weight="bold">a</text>
<text x="1175.4" y="33.3" font-size="42.3" font-weight="bold">b</text>
<text x="1175.4" y="772" font-size="42.3" font-weight="bold">c</text>
<text x="-1.5" y="1611.5" font-size="42.3" font-weight="bold">d</text>
<text x="-1" y="1952.9" font-size="42.3" font-weight="bold">e</text>
<text x="986" y="1465.6" font-size="42.3" font-weight="bold">f</text>
</g>
</svg>
</body>
</html>
